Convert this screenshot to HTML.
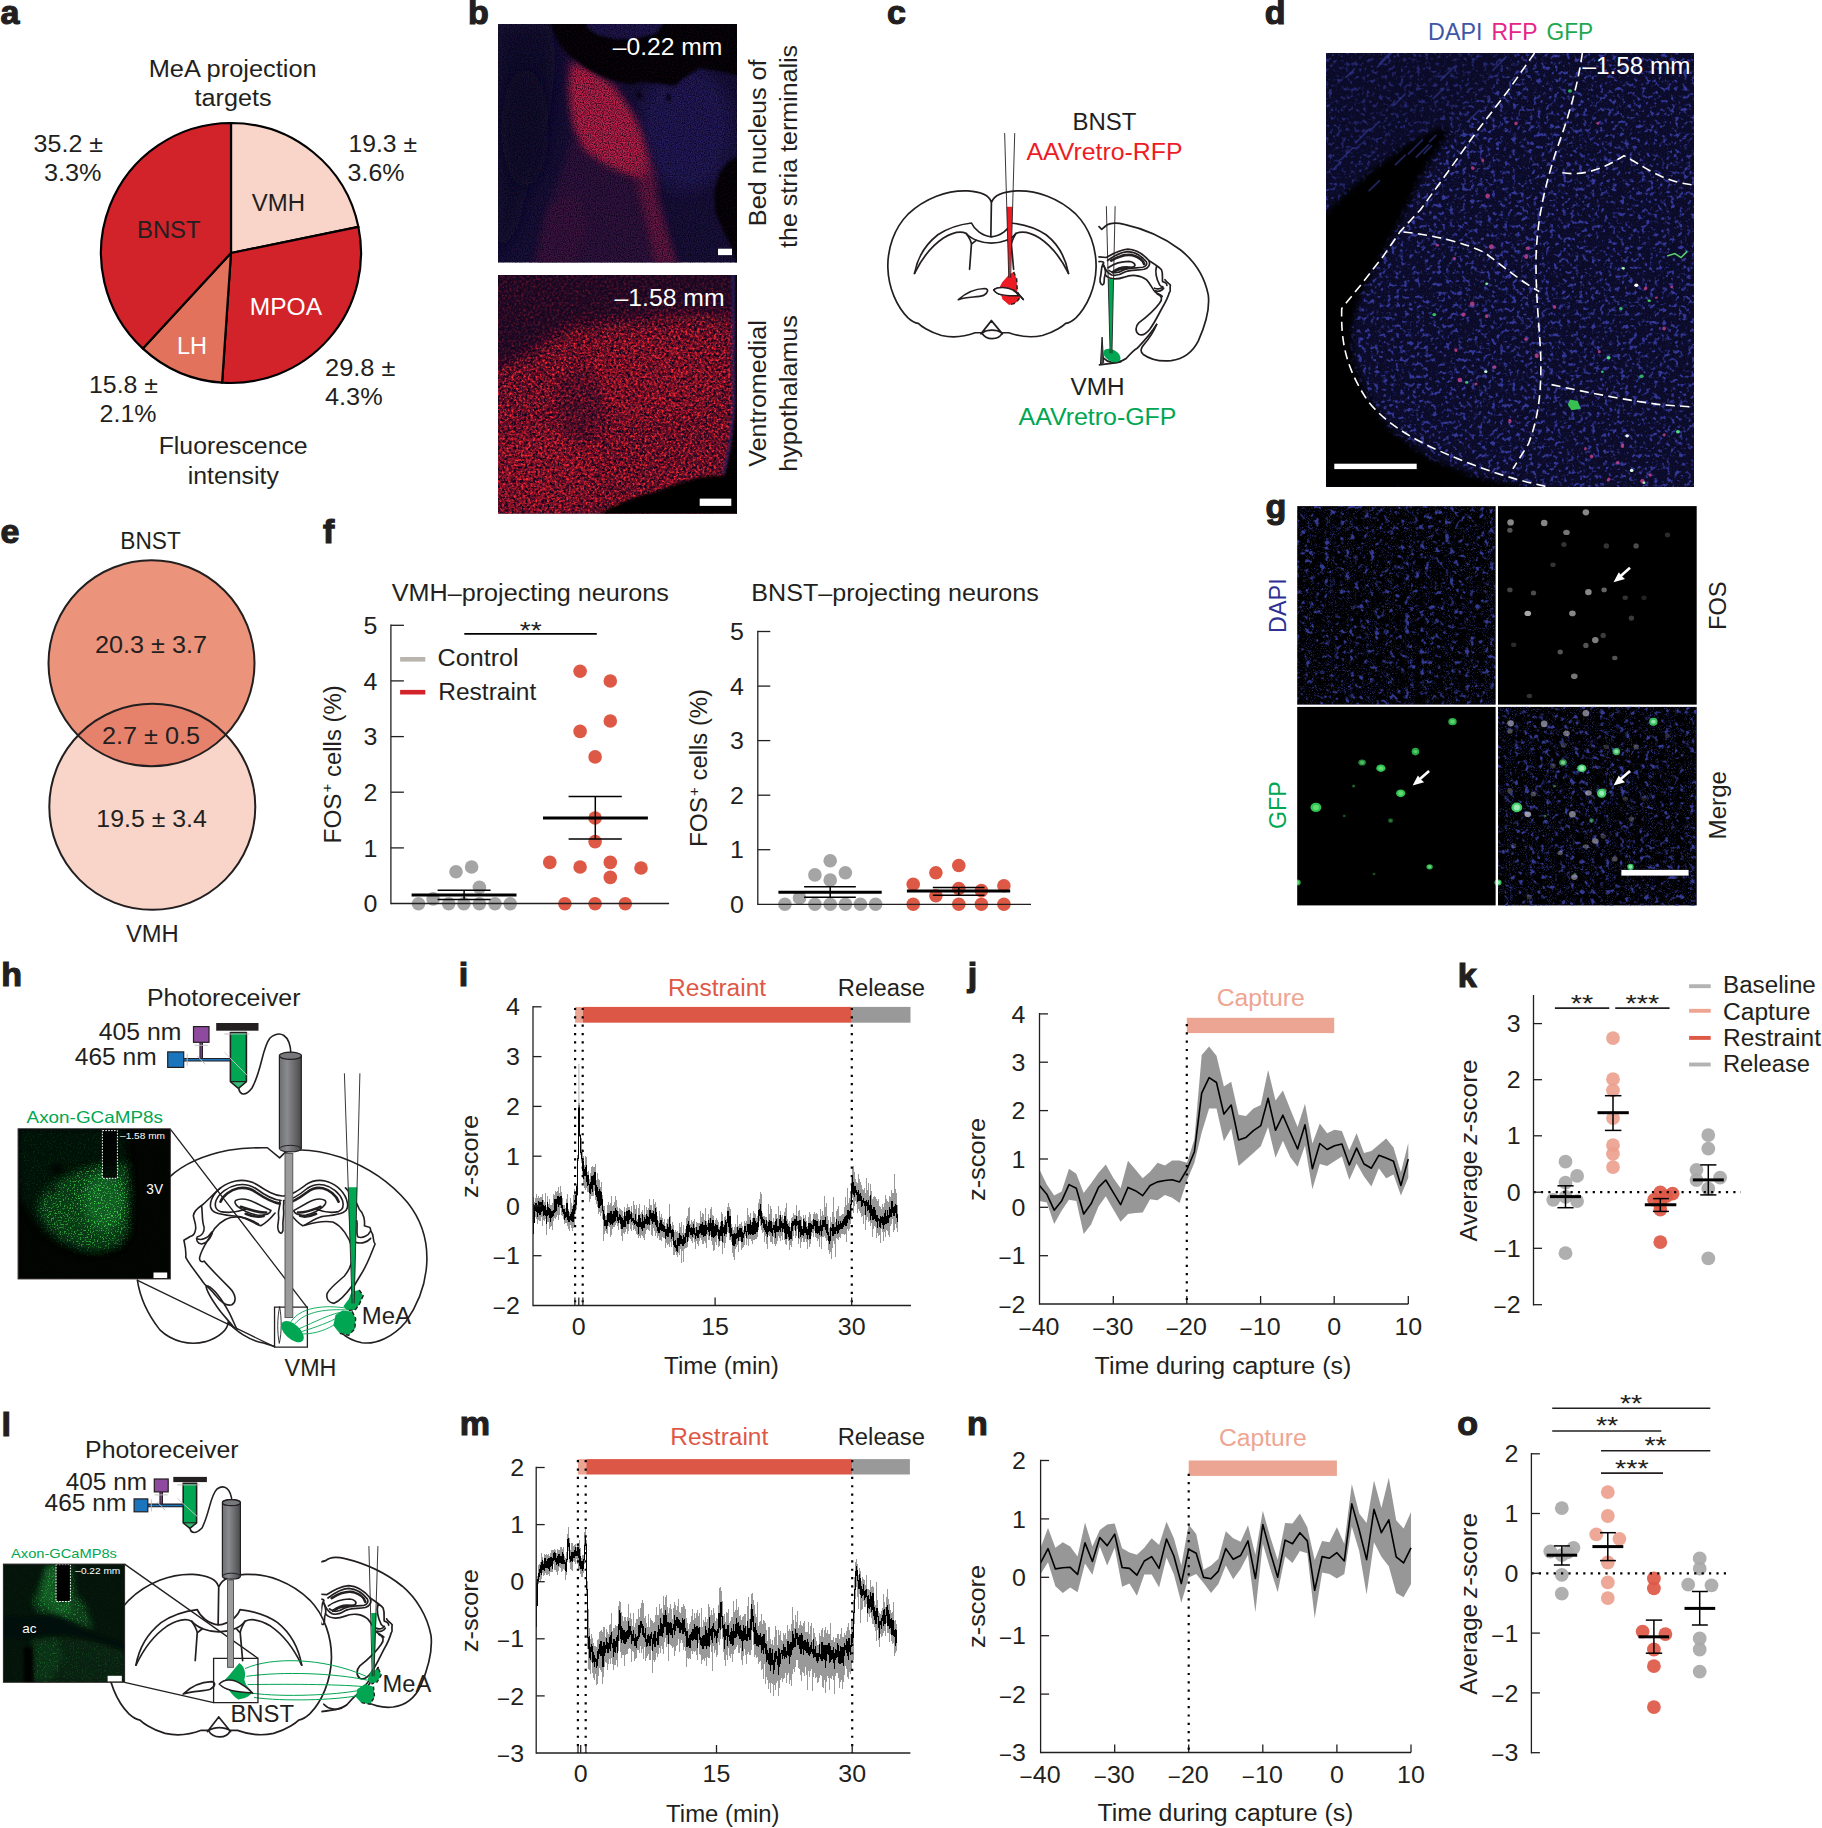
<!DOCTYPE html>
<html lang="en"><head><meta charset="utf-8"><title>Figure</title>
<style>
html,body{margin:0;padding:0;background:#fff;}
svg{display:block;font-family:"Liberation Sans",sans-serif;}

</style></head><body>
<svg width="1822" height="1828" viewBox="0 0 1822 1828">
<defs>
<filter id="bl4" x="-20%" y="-20%" width="140%" height="140%"><feGaussianBlur stdDeviation="28"/></filter>
<filter id="bl8" x="-30%" y="-30%" width="160%" height="160%"><feGaussianBlur stdDeviation="55"/></filter>
<filter id="bl2" x="-20%" y="-20%" width="140%" height="140%"><feGaussianBlur stdDeviation="12"/></filter>
<filter id="bl12" x="-40%" y="-40%" width="180%" height="180%"><feGaussianBlur stdDeviation="90"/></filter>
<filter id="grainD" x="0" y="0" width="100%" height="100%" color-interpolation-filters="sRGB">
<feTurbulence type="fractalNoise" baseFrequency="0.85" numOctaves="1" seed="4"/>
<feColorMatrix type="matrix" values="0 0 0 0 0  0 0 0 0 0  0 0 0 0 0.06  2.2 0 0 0 -0.85"/></filter>
<filter id="grainL" x="0" y="0" width="100%" height="100%" color-interpolation-filters="sRGB">
<feTurbulence type="fractalNoise" baseFrequency="0.8" numOctaves="1" seed="9"/>
<feColorMatrix type="matrix" values="0 0 0 0 0.9  0 0 0 0 0.25  0 0 0 0 0.5  0 1.6 0 0 -0.7"/></filter>
<filter id="spR" x="0" y="0" width="100%" height="100%" color-interpolation-filters="sRGB">
<feTurbulence type="fractalNoise" baseFrequency="0.42" numOctaves="2" seed="7"/>
<feColorMatrix type="matrix" values="0 0 0 0 1  0 0 0 0 0.16  0 0 0 0 0.2  3.2 0 0 0 -1.5"/></filter>
<filter id="spK" x="0" y="0" width="100%" height="100%" color-interpolation-filters="sRGB">
<feTurbulence type="fractalNoise" baseFrequency="0.36" numOctaves="2" seed="21"/>
<feColorMatrix type="matrix" values="0 0 0 0 0.08  0 0 0 0 0.02  0 0 0 0 0.12  0 3.6 0 0 -1.4"/></filter>
<clipPath id="cb1"><rect x="498" y="24" width="239" height="238.6"/></clipPath>
<clipPath id="cb2"><rect x="498" y="275" width="239" height="238.6"/></clipPath>
<mask id="mb2" maskUnits="userSpaceOnUse" x="498" y="275" width="239" height="239">
<g transform="translate(490 267) scale(0.13996)">
<rect x="0" y="0" width="1822" height="1822" fill="#4a4a4a"/>
<path d="M0 760 L300 620 L500 470 L700 410 L1000 390 L1400 340 L1822 360 L1822 1822 L0 1822Z" fill="#fff" filter="url(#bl8)"/>
<ellipse cx="650" cy="990" rx="170" ry="270" fill="#000" opacity="0.35" filter="url(#bl4)"/>
</g></mask>
<filter id="dBlue" x="0" y="0" width="100%" height="100%" color-interpolation-filters="sRGB">
<feTurbulence type="fractalNoise" baseFrequency="0.24" numOctaves="2" seed="5"/>
<feColorMatrix type="matrix" values="0 0 0 0 0.2  0 0 0 0 0.22  0 0 0 0 0.6  5.5 0 0 0 -3.0"/><feGaussianBlur stdDeviation="0.45"/></filter>
<filter id="dFine" x="0" y="0" width="100%" height="100%" color-interpolation-filters="sRGB">
<feTurbulence type="fractalNoise" baseFrequency="0.9" numOctaves="1" seed="15"/>
<feColorMatrix type="matrix" values="0 0 0 0 0.22  0 0 0 0 0.22  0 0 0 0 0.6  0 3.0 0 0 -1.35"/></filter>
<filter id="dbl" x="-20%" y="-20%" width="140%" height="140%"><feGaussianBlur stdDeviation="10"/></filter>
<filter id="dbl3" x="-20%" y="-20%" width="140%" height="140%"><feGaussianBlur stdDeviation="30"/></filter>
<filter id="cellb" x="-30%" y="-30%" width="160%" height="160%"><feGaussianBlur stdDeviation="1.6"/></filter>
<clipPath id="cd"><rect x="1326" y="53" width="368" height="434"/></clipPath>
<mask id="md" maskUnits="userSpaceOnUse" x="1326" y="53" width="368" height="434">
<g transform="translate(1260 0) scale(0.30845)">
<rect x="0" y="0" width="1822" height="1700" fill="#fff"/>
<path d="M214 150 L900 150 L700 330 L560 450 L420 520 L300 600 L214 680Z" fill="#9a9a9a" filter="url(#dbl3)"/>
<path d="M200 700 L260 640 L350 560 L470 470 L590 410 L612 430 L525 570 L455 720 L385 850 L325 960 L298 1060 L303 1160 L343 1270 L423 1390 L543 1480 L703 1545 L920 1590 L200 1590Z" fill="#000" filter="url(#dbl)"/>
</g></mask>
<clipPath id="eclip"><circle cx="151.5" cy="663.3" r="103"/></clipPath>
<filter id="gBlue" x="0" y="0" width="100%" height="100%" color-interpolation-filters="sRGB">
<feTurbulence type="fractalNoise" baseFrequency="0.2" numOctaves="2" seed="31"/>
<feColorMatrix type="matrix" values="0 0 0 0 0.24  0 0 0 0 0.27  0 0 0 0 0.68  5.5 0 0 0 -3.15"/><feGaussianBlur stdDeviation="0.4"/></filter>
<filter id="gFine" x="0" y="0" width="100%" height="100%" color-interpolation-filters="sRGB">
<feTurbulence type="fractalNoise" baseFrequency="0.95" numOctaves="1" seed="8"/>
<feColorMatrix type="matrix" values="0 0 0 0 0.25  0 0 0 0 0.28  0 0 0 0 0.7  0 4.0 0 0 -2.2"/></filter>
<filter id="gcb" x="-40%" y="-40%" width="180%" height="180%"><feGaussianBlur stdDeviation="0.7"/></filter>
<marker id="arw" viewBox="0 0 10 10" refX="5" refY="5" markerWidth="10" markerHeight="10" orient="auto-start-reverse"><path d="M0 0L10 5L0 10L3 5Z" fill="#fff"/></marker>
<linearGradient id="cylg" x1="0" x2="1" y1="0" y2="0"><stop offset="0" stop-color="#6d6e71"/><stop offset="0.35" stop-color="#8a8b8e"/><stop offset="1" stop-color="#4a4a4c"/></linearGradient>
<filter id="hG" x="0" y="0" width="100%" height="100%" color-interpolation-filters="sRGB">
<feTurbulence type="fractalNoise" baseFrequency="0.7" numOctaves="2" seed="12"/>
<feColorMatrix type="matrix" values="0 0 0 0 0.25  0 0 0 0 0.85  0 0 0 0 0.3  6 0 0 0 -3.3"/></filter>
<filter id="hbl" x="-30%" y="-30%" width="160%" height="160%"><feGaussianBlur stdDeviation="9"/></filter>
<filter id="hbl2" x="-30%" y="-30%" width="160%" height="160%"><feGaussianBlur stdDeviation="4"/></filter>
<clipPath id="ch"><rect x="18.1" y="1128.8" width="152.2" height="150.1"/></clipPath>
<mask id="mh" maskUnits="userSpaceOnUse" x="18" y="1128" width="153" height="152">
<g transform="translate(10 1105) scale(0.0985)">
<rect x="60" y="220" width="1600" height="1600" fill="#060606"/>
<path d="M82 240 L1150 240 L1200 600 L1200 1300 L1100 1450 L800 1500 L550 1430 L350 1300 L200 1100 L100 900 L82 700Z" fill="#1e1e1e" filter="url(#hblz)"/>
<path d="M1190 600 L1215 900 L1195 1300 L1100 1420 L900 1480 L700 1450 L500 1350 L350 1200 L280 1050 L330 900 L480 780 L650 690 L850 630 L1000 600Z" fill="#aaa" filter="url(#hblz)"/>
<ellipse cx="930" cy="950" rx="250" ry="330" fill="#fff" opacity="0.8" filter="url(#hblz)"/>
<ellipse cx="480" cy="650" rx="70" ry="60" fill="#000" opacity="0.8" filter="url(#hblz2)"/>
<ellipse cx="440" cy="870" rx="40" ry="45" fill="#000" opacity="0.6" filter="url(#hblz2)"/>
</g>
</mask>
<filter id="hblz" x="-30%" y="-30%" width="160%" height="160%"><feGaussianBlur stdDeviation="45"/></filter>
<filter id="hblz2" x="-30%" y="-30%" width="160%" height="160%"><feGaussianBlur stdDeviation="25"/></filter>
<filter id="lG" x="0" y="0" width="100%" height="100%" color-interpolation-filters="sRGB">
<feTurbulence type="fractalNoise" baseFrequency="0.75" numOctaves="2" seed="33"/>
<feColorMatrix type="matrix" values="0 0 0 0 0.2  0 0 0 0 0.8  0 0 0 0 0.28  6 0 0 0 -3.45"/></filter>
<filter id="lbl" x="-30%" y="-30%" width="160%" height="160%"><feGaussianBlur stdDeviation="6"/></filter>
<filter id="lbl2" x="-30%" y="-30%" width="160%" height="160%"><feGaussianBlur stdDeviation="2.5"/></filter>
<clipPath id="clhb"><rect x="321.3" y="1540" width="130" height="200"/></clipPath>
<clipPath id="cl"><rect x="3.4" y="1564.1" width="121.2" height="118.2"/></clipPath>
<mask id="ml" maskUnits="userSpaceOnUse" x="3" y="1564" width="122" height="119">
<g transform="translate(0 1558) scale(0.07135)">
<rect x="0" y="0" width="1822" height="1822" fill="#0c0c0c"/>
<path d="M700 60 L1000 60 L1050 500 L1180 650 L1260 850 L1300 1000 L900 850 L700 800 L520 750 L460 600 L560 400Z" fill="#9a9a9a" filter="url(#lblz)"/>
<path d="M450 1110 L800 1080 L1300 1150 L1760 1300 L1760 1760 L450 1760Z" fill="#2e2e2e" filter="url(#lblz)"/>
<path d="M470 1150 L800 1120 L900 1400 L700 1760 L480 1760Z" fill="#484848" filter="url(#lblz)"/>
<path d="M30 800 L400 830 L700 800 L900 850 L1050 950 L1300 1050 L1760 1200 L1760 1300 L1300 1150 L1000 1090 L700 1080 L400 1120 L30 1130Z" fill="#000" filter="url(#lblz2)"/>
<path d="M330 1250 L450 1250 L470 1760 L340 1760Z" fill="#000" filter="url(#lblz2)"/>
</g>
</mask>
<filter id="lblz" x="-30%" y="-30%" width="160%" height="160%"><feGaussianBlur stdDeviation="45"/></filter>
<filter id="lblz2" x="-30%" y="-30%" width="160%" height="160%"><feGaussianBlur stdDeviation="22"/></filter>

</defs>
<rect width="1822" height="1828" fill="#fff"/>
<!-- p_a.py -->
<text x="0.6" y="24.3" font-size="34" font-weight="bold" fill="#231f20" stroke="#231f20" stroke-width="1.2">a</text>
<path d="M231 253 L231.0 123.0 A130 130 0 0 1 358.4 226.9 Z" fill="#f8d5c8" stroke="#000" stroke-width="2.2" stroke-linejoin="round"/>
<path d="M231 253 L358.4 226.9 A130 130 0 0 1 222.1 382.7 Z" fill="#d2232a" stroke="#000" stroke-width="2.2" stroke-linejoin="round"/>
<path d="M231 253 L222.1 382.7 A130 130 0 0 1 142.9 348.6 Z" fill="#e2725b" stroke="#000" stroke-width="2.2" stroke-linejoin="round"/>
<path d="M231 253 L142.9 348.6 A130 130 0 0 1 231.0 123.0 Z" fill="#d2232a" stroke="#000" stroke-width="2.2" stroke-linejoin="round"/>
<text x="232.7" y="76.8" font-size="23.5" text-anchor="middle" fill="#231f20" textLength="168.0" lengthAdjust="spacingAndGlyphs">MeA projection</text>
<text x="233.0" y="105.8" font-size="23.5" text-anchor="middle" fill="#231f20" textLength="77.0" lengthAdjust="spacingAndGlyphs">targets</text>
<text x="33.6" y="151.6" font-size="23.5" fill="#231f20" textLength="69.4" lengthAdjust="spacingAndGlyphs">35.2 ±</text>
<text x="44.0" y="181.0" font-size="23.5" fill="#231f20" textLength="57.6" lengthAdjust="spacingAndGlyphs">3.3%</text>
<text x="348.5" y="151.6" font-size="23.5" fill="#231f20" textLength="68.5" lengthAdjust="spacingAndGlyphs">19.3 ±</text>
<text x="347.6" y="181.0" font-size="23.5" fill="#231f20" textLength="57.0" lengthAdjust="spacingAndGlyphs">3.6%</text>
<text x="251.8" y="210.5" font-size="23.5" fill="#231f20" textLength="53.2" lengthAdjust="spacingAndGlyphs">VMH</text>
<text x="137.0" y="238.4" font-size="23.5" fill="#231f20" textLength="63.6" lengthAdjust="spacingAndGlyphs">BNST</text>
<text x="249.8" y="315.0" font-size="23.5" fill="#fff" textLength="72.2" lengthAdjust="spacingAndGlyphs">MPOA</text>
<text x="177.0" y="353.6" font-size="23.5" fill="#fff" textLength="30.0" lengthAdjust="spacingAndGlyphs">LH</text>
<text x="325.0" y="375.5" font-size="23.5" fill="#231f20" textLength="70.5" lengthAdjust="spacingAndGlyphs">29.8 ±</text>
<text x="325.0" y="404.5" font-size="23.5" fill="#231f20" textLength="57.7" lengthAdjust="spacingAndGlyphs">4.3%</text>
<text x="89.0" y="392.6" font-size="23.5" fill="#231f20" textLength="69.0" lengthAdjust="spacingAndGlyphs">15.8 ±</text>
<text x="99.6" y="422.0" font-size="23.5" fill="#231f20" textLength="57.0" lengthAdjust="spacingAndGlyphs">2.1%</text>
<text x="233.2" y="454.3" font-size="23.5" text-anchor="middle" fill="#231f20" textLength="149.0" lengthAdjust="spacingAndGlyphs">Fluorescence</text>
<text x="233.3" y="483.6" font-size="23.5" text-anchor="middle" fill="#231f20" textLength="91.0" lengthAdjust="spacingAndGlyphs">intensity</text>
<!-- p_b.py -->
<text x="468.0" y="24.3" font-size="34" font-weight="bold" fill="#231f20" stroke="#231f20" stroke-width="1.2">b</text>
<g clip-path="url(#cb1)">
<rect x="498.0" y="24.0" width="239.0" height="239.0" fill="#15113a" />
<g transform="translate(490 16) scale(0.13996)">
<path d="M57 57 L440 57 L470 300 L430 700 L300 1100 L200 1500 L57 1760Z" fill="#0e0c2e" filter="url(#bl8)"/>
<ellipse cx="250" cy="800" rx="170" ry="420" fill="#0c0a2c" opacity="0.8" filter="url(#bl8)"/>
<ellipse cx="1400" cy="800" rx="330" ry="450" fill="#241d62" opacity="0.8" filter="url(#bl8)"/>
<path d="M540 300 L700 350 L900 500 L1060 760 L1160 1000 L1200 1300 L1290 1600 L1360 1800 L300 1800 L380 1450 L500 1150 L590 850 L560 550Z" fill="#4a1444" opacity="0.5" filter="url(#bl4)"/>
<path d="M590 330 L720 390 L880 500 L1010 680 L1090 860 L1130 1040 L1110 1150 L980 1130 L820 1060 L680 960 L600 800 L570 620 L565 470Z" fill="#c8244a" opacity="0.92" filter="url(#bl4)"/>
<path d="M1080 950 L1180 1100 L1200 1300 L1270 1560 L1330 1780 L1180 1780 L1120 1500 L1060 1250 L1020 1050Z" fill="#a01e4a" opacity="0.5" filter="url(#bl4)"/>
<path d="M420 1350 L620 1250 L700 1500 L600 1790 L330 1790Z" fill="#6a1644" opacity="0.2" filter="url(#bl4)"/>
<path d="M430 40 L455 120 L500 210 L570 285 L700 380 L800 432 L900 468 L1000 490 L1080 472 L1200 482 L1320 500 L1390 440 L1500 372 L1650 398 L1800 430 L1800 40Z" fill="#000" filter="url(#bl2)"/>
<path d="M675 40 L700 90 L770 135 L900 165 L1050 160 L1190 125 L1245 40Z" fill="#1e1450" filter="url(#bl2)"/>
<path d="M1800 1000 L1760 1012 L1700 1042 L1640 1120 L1602 1260 L1610 1400 L1660 1520 L1720 1640 L1775 1790 L1800 1790Z" fill="#000" filter="url(#bl2)"/>
<ellipse cx="1065" cy="565" rx="18" ry="26" fill="#05030f" filter="url(#bl2)"/><ellipse cx="1275" cy="580" rx="14" ry="28" fill="#05030f" filter="url(#bl2)"/>
</g>
<rect x="498" y="24" width="239" height="239" filter="url(#grainD)"/>
<rect x="498" y="24" width="239" height="239" filter="url(#grainL)" opacity="0.18"/>
<text x="612.8" y="55.0" font-size="23.5" fill="#fff" textLength="109.6" lengthAdjust="spacingAndGlyphs">–0.22 mm</text>
<rect x="718.0" y="248.7" width="14.0" height="6.4" fill="#fff" />
</g>
<g clip-path="url(#cb2)">
<rect x="498.0" y="275.0" width="239.0" height="239.0" fill="#1e0a26" />
<g transform="translate(490 267) scale(0.13996)">
<path d="M0 760 L300 620 L500 470 L700 410 L1000 390 L1400 340 L1822 360 L1822 1822 L0 1822Z" fill="#6c1026" filter="url(#bl8)"/>
<ellipse cx="1150" cy="800" rx="520" ry="300" fill="#a0182c" opacity="0.4" filter="url(#bl8)"/>
<ellipse cx="350" cy="1450" rx="400" ry="300" fill="#a0182c" opacity="0.5" filter="url(#bl8)"/>
<ellipse cx="650" cy="990" rx="170" ry="270" fill="#3a0c2a" opacity="0.5" filter="url(#bl4)"/>
<ellipse cx="690" cy="390" rx="60" ry="22" fill="#1a0618" opacity="0.8" filter="url(#bl2)" transform="rotate(-30 690 390)"/>
</g>
<rect x="498" y="275" width="239" height="239" filter="url(#spK)"/>
<rect x="498" y="275" width="239" height="239" filter="url(#spR)" mask="url(#mb2)"/>
<g transform="translate(490 267) scale(0.13996)">
<path d="M1742 40 L1748 1000 L1722 1250 L1692 1400 L1672 1490" fill="none" stroke="#2a2470" stroke-width="22" filter="url(#bl2)"/>
<path d="M780 1800 L790 1762 L860 1720 L950 1680 L1050 1640 L1200 1600 L1350 1545 L1500 1502 L1600 1492 L1675 1492 L1697 1400 L1727 1250 L1753 1000 L1752 40 L1800 40 L1800 1800Z" fill="#000" filter="url(#bl2)"/>
</g>
<text x="614.5" y="305.8" font-size="23.5" fill="#fff" textLength="110.0" lengthAdjust="spacingAndGlyphs">–1.58 mm</text>
<rect x="699.7" y="498.6" width="31.6" height="7.3" fill="#fff" />
</g>
<text transform="translate(766.4 142.8) rotate(-90)" font-size="23.5" text-anchor="middle" fill="#231f20" textLength="166.7" lengthAdjust="spacingAndGlyphs">Bed nucleus of</text>
<text transform="translate(797.2 146.4) rotate(-90)" font-size="23.5" text-anchor="middle" fill="#231f20" textLength="203.0" lengthAdjust="spacingAndGlyphs">the stria terminalis</text>
<text transform="translate(766.4 393.5) rotate(-90)" font-size="23.5" text-anchor="middle" fill="#231f20" textLength="146.4" lengthAdjust="spacingAndGlyphs">Ventromedial</text>
<text transform="translate(797.2 393.4) rotate(-90)" font-size="23.5" text-anchor="middle" fill="#231f20" textLength="156.6" lengthAdjust="spacingAndGlyphs">hypothalamus</text>
<!-- p_c.py -->
<text x="887.1" y="23.6" font-size="34" font-weight="bold" fill="#231f20" stroke="#231f20" stroke-width="1.2">c</text>
<text x="1104.5" y="129.5" font-size="23.5" text-anchor="middle" fill="#231f20" textLength="64.0" lengthAdjust="spacingAndGlyphs">BNST</text>
<text x="1104.5" y="159.5" font-size="23.5" text-anchor="middle" fill="#ed1c24" textLength="156.0" lengthAdjust="spacingAndGlyphs">AAVretro-RFP</text>
<text x="1097.5" y="395.0" font-size="23.5" text-anchor="middle" fill="#231f20" textLength="54.0" lengthAdjust="spacingAndGlyphs">VMH</text>
<text x="1097.5" y="424.5" font-size="23.5" text-anchor="middle" fill="#00a651" textLength="158.0" lengthAdjust="spacingAndGlyphs">AAVretro-GFP</text>
<g transform="translate(880 120) scale(0.18661)">
<path d="M595 437 C 585 405, 540 385, 470 380 C 360 375, 240 420, 150 505 C 75 580, 40 690, 42 790 C 45 900, 90 1000, 150 1060 C 170 1078, 190 1088, 205 1090 C 215 1100, 260 1135, 330 1155 C 400 1170, 470 1155, 510 1140 L545 1140 C 560 1165, 585 1172, 600 1172 C 620 1172, 645 1165, 655 1140 L690 1140 C 740 1158, 800 1170, 870 1155 C 940 1135, 985 1100, 995 1090 C 1010 1088, 1030 1078, 1050 1060 C 1110 1000, 1155 900, 1158 790 C 1160 690, 1125 580, 1050 505 C 960 420, 840 375, 730 380 C 660 385, 612 405, 600 437" fill="none" stroke="#231f20" stroke-width="1.7" vector-effect="non-scaling-stroke" stroke-linejoin="round" stroke-linecap="round"/>
<path d="M597 437 L594 625" fill="none" stroke="#231f20" stroke-width="1.7" vector-effect="non-scaling-stroke" stroke-linejoin="round" stroke-linecap="round"/>
<path d="M185 822 C 200 740, 240 670, 310 615 C 370 575, 440 558, 490 552 C 505 585, 545 622, 597 626 C 650 622, 690 585, 703 552 C 760 558, 830 575, 890 615 C 960 670, 995 740, 1010 822" fill="none" stroke="#231f20" stroke-width="1.7" vector-effect="non-scaling-stroke" stroke-linejoin="round" stroke-linecap="round"/>
<path d="M185 822 C 225 740, 275 675, 340 632 C 385 605, 430 592, 462 608 C 490 640, 545 660, 597 660 C 650 660, 705 640, 728 608 C 765 592, 810 605, 855 632 C 920 675, 970 740, 1010 822" fill="none" stroke="#231f20" stroke-width="1.7" vector-effect="non-scaling-stroke" stroke-linejoin="round" stroke-linecap="round"/>
<path d="M462 608 C 478 630, 488 648, 490 665 L480 800 M515 645 L490 665" fill="none" stroke="#231f20" stroke-width="1.7" vector-effect="non-scaling-stroke" stroke-linejoin="round" stroke-linecap="round"/>
<path d="M728 608 C 715 630, 706 648, 704 665 L716 800 M685 645 L704 665" fill="none" stroke="#231f20" stroke-width="1.7" vector-effect="non-scaling-stroke" stroke-linejoin="round" stroke-linecap="round"/>
<path d="M420 963 C 450 935, 500 905, 560 903 C 585 905, 580 925, 555 940 C 520 952, 470 945, 420 963Z" fill="none" stroke="#231f20" stroke-width="1.7" vector-effect="non-scaling-stroke" stroke-linejoin="round" stroke-linecap="round"/>
<path d="M610 910 C 630 893, 680 893, 715 912 C 735 925, 750 940, 768 962 M610 910 C 620 935, 660 945, 742 942" fill="#fff" stroke="#231f20" stroke-width="1.5" vector-effect="non-scaling-stroke"/>
<path d="M610 910 C 630 893, 680 893, 715 912 C 728 920, 738 930, 742 942 C 660 945, 620 935, 610 910Z" fill="#fff" stroke="#231f20" stroke-width="1.5" vector-effect="non-scaling-stroke"/>
<path d="M597 1075 L541 1146 M597 1075 L656 1146 M548 1140 C 575 1122, 625 1122, 652 1140" fill="none" stroke="#231f20" stroke-width="1.7" vector-effect="non-scaling-stroke" stroke-linejoin="round" stroke-linecap="round"/>
<path d="M692 828 L716 814 L732 850 L736 920 L752 950 L727 981 L692 991 L656 961 L638 900 L656 868Z" fill="#ed1c24"/>
<path d="M716 814 L732 850 L736 920 L752 950 L727 981 L692 991" fill="none" stroke="#231f20" stroke-width="1.5" stroke-dasharray="4 3" vector-effect="non-scaling-stroke"/>
<path d="M610 910 C 630 893, 680 893, 715 912 C 728 920, 738 930, 742 942 C 660 945, 620 935, 610 910Z" fill="#fff" stroke="#231f20" stroke-width="1.5" vector-effect="non-scaling-stroke"/>
<path d="M715 912 C 735 925, 750 940, 768 962" fill="none" stroke="#231f20" stroke-width="1.7" vector-effect="non-scaling-stroke" stroke-linejoin="round" stroke-linecap="round"/>
<path d="M679 465 L711 465 L697 860 L690 860Z" fill="#ed1c24"/>
<path d="M668 70 L690 845 M722 70 L700 845" fill="none" stroke="#231f20" stroke-width="0.9" vector-effect="non-scaling-stroke"/>
<g transform="translate(1125.3 482.3) scale(0.48379)">
<path d="M100 185 L130 215 L170 180 C 220 138, 300 140, 380 160 C 560 200, 800 290, 1000 440 C 1150 560, 1270 740, 1310 940 C 1325 1060, 1290 1250, 1200 1450 C 1140 1570, 1040 1650, 900 1668 C 780 1680, 660 1650, 590 1600 C 555 1570, 560 1535, 590 1500 C 650 1430, 705 1350, 738 1268" fill="none" stroke="#231f20" stroke-width="1.7" vector-effect="non-scaling-stroke" stroke-linejoin="round" stroke-linecap="round"/>
<path d="M738 1268 C 690 1345, 605 1445, 522 1532 C 490 1548, 450 1590, 400 1645 C 340 1690, 250 1700, 105 1716" fill="none" stroke="#231f20" stroke-width="1.7" vector-effect="non-scaling-stroke" stroke-linejoin="round" stroke-linecap="round"/>
<path d="M745 930 C 800 950, 805 990, 770 1032 C 720 1100, 620 1190, 540 1250 C 500 1290, 500 1350, 540 1376 C 580 1396, 622 1370, 662 1320 C 722 1240, 762 1150, 802 1080 C 832 1030, 860 980, 880 912 C 900 905, 880 880, 890 832 C 870 805, 845 800, 830 772" fill="none" stroke="#231f20" stroke-width="1.7" vector-effect="non-scaling-stroke" stroke-linejoin="round" stroke-linecap="round"/>
<path d="M100 520 L180 526 C 260 480, 330 440, 420 434 C 520 440, 600 500, 652 560 C 672 600, 652 642, 600 656 C 520 672, 440 660, 380 690 C 330 720, 280 732, 240 720 C 200 700, 170 660, 150 610" fill="none" stroke="#231f20" stroke-width="1.7" vector-effect="non-scaling-stroke" stroke-linejoin="round" stroke-linecap="round"/>
<path d="M195 560 C 270 505, 340 465, 420 462 C 505 468, 580 520, 622 570 C 638 600, 622 625, 585 634 C 520 645, 440 636, 372 664 C 330 690, 290 700, 255 692" fill="none" stroke="#231f20" stroke-width="1.7" vector-effect="non-scaling-stroke" stroke-linejoin="round" stroke-linecap="round"/>
<path d="M200 640 C 260 600, 340 570, 430 570 C 482 575, 512 600, 490 626 C 440 652, 360 640, 300 670 C 270 690, 232 690, 212 670" fill="none" stroke="#231f20" stroke-width="1.7" vector-effect="non-scaling-stroke" stroke-linejoin="round" stroke-linecap="round"/>
<path d="M250 690 C 300 650, 380 628, 455 640 M235 560 C 320 510, 400 488, 470 500 C 540 520, 590 560, 600 600" fill="none" stroke="#231f20" stroke-width="2.6" vector-effect="non-scaling-stroke" stroke-linecap="round"/>
<path d="M170 722 C 220 772, 300 772, 380 744 C 460 712, 560 720, 625 772 C 680 830, 690 880, 722 906 C 740 925, 780 932, 800 957" fill="none" stroke="#231f20" stroke-width="1.7" vector-effect="non-scaling-stroke" stroke-linejoin="round" stroke-linecap="round"/>
<path d="M652 560 C 700 590, 760 625, 792 662 C 815 715, 795 770, 805 795 C 830 800, 850 812, 852 835 M737 622 C 715 700, 740 770, 772 830 C 785 845, 800 850, 805 850 M715 866 C 750 882, 790 872, 806 850 M726 896 C 760 908, 800 892, 816 866" fill="none" stroke="#231f20" stroke-width="1.7" vector-effect="non-scaling-stroke" stroke-linejoin="round" stroke-linecap="round"/>
<path d="M100 572 C 150 565, 162 585, 142 600 C 120 640, 130 700, 112 760 C 105 812, 130 842, 150 822 C 166 790, 150 760, 165 730 C 176 700, 170 650, 150 610" fill="none" stroke="#231f20" stroke-width="1.7" vector-effect="non-scaling-stroke" stroke-linejoin="round" stroke-linecap="round"/>
<path d="M134 1408 L116 1708 L152 1692Z" fill="#4d4d4f" stroke="#231f20" stroke-width="1" vector-effect="non-scaling-stroke"/>
<path d="M150 1640 C 200 1692, 280 1702, 342 1680" fill="none" stroke="#231f20" stroke-width="1.7" vector-effect="non-scaling-stroke" stroke-linejoin="round" stroke-linecap="round"/>
</g>
<ellipse cx="1243" cy="1262" rx="50" ry="31" fill="#00a651" transform="rotate(30 1243 1262)"/>
<path d="M1222 852 L1251 852 L1243 1250 L1234 1250Z" fill="#00a651"/>
<path d="M1213 462 L1233 1250 M1260 462 L1243 1250" fill="none" stroke="#231f20" stroke-width="0.9" vector-effect="non-scaling-stroke"/>
</g>
<!-- p_d.py -->
<text x="1264.7" y="24.3" font-size="34" font-weight="bold" fill="#231f20" stroke="#231f20" stroke-width="1.2">d</text>
<text x="1428.1" y="40.1" font-size="23.5" fill="#4055a5" textLength="54.3" lengthAdjust="spacingAndGlyphs">DAPI</text>
<text x="1491.5" y="40.1" font-size="23.5" fill="#e6248a" textLength="46.0" lengthAdjust="spacingAndGlyphs">RFP</text>
<text x="1546.5" y="40.1" font-size="23.5" fill="#1da850" textLength="46.7" lengthAdjust="spacingAndGlyphs">GFP</text>
<g clip-path="url(#cd)">
<rect x="1326.0" y="53.0" width="368.0" height="434.0" fill="#0a0a26" />
<g transform="translate(1260 0) scale(0.30845)">
<path d="M200 700 L260 640 L350 560 L470 470 L590 410 L612 430 L525 570 L455 720 L385 850 L325 960 L298 1060 L303 1160 L343 1270 L423 1390 L543 1480 L703 1545 L920 1590 L200 1590Z" fill="#010104" filter="url(#dbl)"/>
</g>
<rect x="1326" y="53" width="368" height="434" filter="url(#dBlue)" mask="url(#md)"/>
<rect x="1326" y="53" width="368" height="434" filter="url(#dFine)" mask="url(#md)" opacity="0.22"/>
<g transform="translate(1260 0) scale(0.30845)">
<line x1="356" y1="424" x2="385" y2="395" stroke="#333a94" stroke-width="6" opacity="0.6" stroke-linecap="round"/>
<line x1="550" y1="459" x2="570" y2="439" stroke="#333a94" stroke-width="6" opacity="0.6" stroke-linecap="round"/>
<line x1="237" y1="550" x2="263" y2="524" stroke="#333a94" stroke-width="6" opacity="0.6" stroke-linecap="round"/>
<line x1="354" y1="618" x2="387" y2="586" stroke="#333a94" stroke-width="6" opacity="0.6" stroke-linecap="round"/>
<line x1="673" y1="395" x2="711" y2="357" stroke="#333a94" stroke-width="6" opacity="0.6" stroke-linecap="round"/>
<line x1="310" y1="463" x2="355" y2="418" stroke="#333a94" stroke-width="6" opacity="0.6" stroke-linecap="round"/>
<line x1="507" y1="509" x2="546" y2="470" stroke="#333a94" stroke-width="6" opacity="0.6" stroke-linecap="round"/>
<line x1="264" y1="516" x2="300" y2="480" stroke="#333a94" stroke-width="6" opacity="0.6" stroke-linecap="round"/>
<line x1="390" y1="203" x2="434" y2="159" stroke="#333a94" stroke-width="6" opacity="0.6" stroke-linecap="round"/>
<line x1="481" y1="499" x2="526" y2="454" stroke="#333a94" stroke-width="6" opacity="0.6" stroke-linecap="round"/>
<line x1="439" y1="534" x2="471" y2="503" stroke="#333a94" stroke-width="6" opacity="0.6" stroke-linecap="round"/>
<line x1="282" y1="248" x2="306" y2="224" stroke="#333a94" stroke-width="6" opacity="0.6" stroke-linecap="round"/>
<line x1="562" y1="319" x2="596" y2="286" stroke="#333a94" stroke-width="6" opacity="0.6" stroke-linecap="round"/>
<line x1="435" y1="341" x2="470" y2="305" stroke="#333a94" stroke-width="6" opacity="0.6" stroke-linecap="round"/>
<line x1="586" y1="260" x2="630" y2="216" stroke="#333a94" stroke-width="6" opacity="0.6" stroke-linecap="round"/>
<line x1="532" y1="497" x2="556" y2="473" stroke="#333a94" stroke-width="6" opacity="0.6" stroke-linecap="round"/>
<line x1="381" y1="217" x2="425" y2="173" stroke="#333a94" stroke-width="6" opacity="0.6" stroke-linecap="round"/>
<line x1="755" y1="228" x2="797" y2="185" stroke="#333a94" stroke-width="6" opacity="0.6" stroke-linecap="round"/>
<ellipse cx="722" cy="520" rx="6.2" ry="4.6" fill="#c0408c" opacity="0.85" transform="rotate(75 722 520)"/>
<ellipse cx="690" cy="545" rx="6.3" ry="5.2" fill="#c0408c" opacity="0.85" transform="rotate(30 690 545)"/>
<ellipse cx="1095" cy="400" rx="5.1" ry="4.5" fill="#c0408c" opacity="0.85" transform="rotate(11 1095 400)"/>
<ellipse cx="830" cy="400" rx="6.1" ry="5.4" fill="#c0408c" opacity="0.85" transform="rotate(141 830 400)"/>
<ellipse cx="738" cy="635" rx="7.6" ry="7.6" fill="#c0408c" opacity="0.85" transform="rotate(129 738 635)"/>
<ellipse cx="575" cy="795" rx="5.7" ry="4.1" fill="#c0408c" opacity="0.85" transform="rotate(1 575 795)"/>
<ellipse cx="630" cy="838" rx="5.2" ry="4.6" fill="#c0408c" opacity="0.85" transform="rotate(8 630 838)"/>
<ellipse cx="750" cy="800" rx="7.8" ry="7.8" fill="#c0408c" opacity="0.85" transform="rotate(74 750 800)"/>
<ellipse cx="868" cy="805" rx="6.8" ry="5.1" fill="#c0408c" opacity="0.85" transform="rotate(10 868 805)"/>
<ellipse cx="863" cy="832" rx="7.9" ry="6.4" fill="#c0408c" opacity="0.85" transform="rotate(92 863 832)"/>
<ellipse cx="688" cy="985" rx="7.9" ry="7.6" fill="#c0408c" opacity="0.85" transform="rotate(96 688 985)"/>
<ellipse cx="735" cy="1025" rx="6.1" ry="5.9" fill="#c0408c" opacity="0.85" transform="rotate(98 735 1025)"/>
<ellipse cx="660" cy="1020" rx="6.9" ry="6.1" fill="#c0408c" opacity="0.85" transform="rotate(143 660 1020)"/>
<ellipse cx="862" cy="1100" rx="5.3" ry="5.3" fill="#c0408c" opacity="0.85" transform="rotate(129 862 1100)"/>
<ellipse cx="635" cy="1135" rx="5.8" ry="5.2" fill="#c0408c" opacity="0.85" transform="rotate(60 635 1135)"/>
<ellipse cx="897" cy="1153" rx="7.8" ry="6.5" fill="#c0408c" opacity="0.85" transform="rotate(66 897 1153)"/>
<ellipse cx="760" cy="1190" rx="6.6" ry="5.7" fill="#c0408c" opacity="0.85" transform="rotate(2 760 1190)"/>
<ellipse cx="648" cy="1232" rx="7.4" ry="7.3" fill="#c0408c" opacity="0.85" transform="rotate(80 648 1232)"/>
<ellipse cx="700" cy="1245" rx="5.1" ry="4.5" fill="#c0408c" opacity="0.85" transform="rotate(161 700 1245)"/>
<ellipse cx="1100" cy="1140" rx="5.4" ry="4.8" fill="#c0408c" opacity="0.85" transform="rotate(85 1100 1140)"/>
<ellipse cx="1310" cy="1065" rx="6.4" ry="5.8" fill="#c0408c" opacity="0.85" transform="rotate(90 1310 1065)"/>
<ellipse cx="1250" cy="935" rx="6.8" ry="5.3" fill="#c0408c" opacity="0.85" transform="rotate(125 1250 935)"/>
<ellipse cx="1285" cy="965" rx="5.1" ry="3.6" fill="#c0408c" opacity="0.85" transform="rotate(173 1285 965)"/>
<ellipse cx="1335" cy="930" rx="5.1" ry="4.1" fill="#c0408c" opacity="0.85" transform="rotate(160 1335 930)"/>
<ellipse cx="955" cy="995" rx="6.4" ry="5.6" fill="#c0408c" opacity="0.85" transform="rotate(81 955 995)"/>
<ellipse cx="1055" cy="1455" rx="5.5" ry="4.2" fill="#c0408c" opacity="0.85" transform="rotate(94 1055 1455)"/>
<ellipse cx="1175" cy="1445" rx="7.5" ry="5.9" fill="#c0408c" opacity="0.85" transform="rotate(96 1175 1445)"/>
<ellipse cx="1310" cy="1410" rx="5.3" ry="5.0" fill="#c0408c" opacity="0.85" transform="rotate(145 1310 1410)"/>
<ellipse cx="1130" cy="1555" rx="7.1" ry="5.2" fill="#c0408c" opacity="0.85" transform="rotate(128 1130 1555)"/>
<ellipse cx="1265" cy="1540" rx="5.7" ry="5.3" fill="#c0408c" opacity="0.85" transform="rotate(61 1265 1540)"/>
<ellipse cx="1160" cy="1500" rx="6.0" ry="5.4" fill="#c0408c" opacity="0.85" transform="rotate(166 1160 1500)"/>
<ellipse cx="810" cy="1365" rx="7.1" ry="5.2" fill="#c0408c" opacity="0.85" transform="rotate(82 810 1365)"/>
<ellipse cx="1240" cy="1560" rx="7.8" ry="7.1" fill="#c0408c" opacity="0.85" transform="rotate(57 1240 1560)"/>
<ellipse cx="1075" cy="1480" rx="6.3" ry="6.0" fill="#c0408c" opacity="0.85" transform="rotate(43 1075 1480)"/>
<ellipse cx="735" cy="920" rx="4.7" ry="4.0" fill="#7df0a0"/>
<ellipse cx="565" cy="1020" rx="6.4" ry="5.4" fill="#30c060"/>
<ellipse cx="1178" cy="870" rx="5.0" ry="4.3" fill="#a0f0c0"/>
<ellipse cx="1170" cy="1000" rx="5.9" ry="5.0" fill="#30c070"/>
<ellipse cx="1262" cy="975" rx="5.2" ry="4.4" fill="#40d070"/>
<ellipse cx="1130" cy="1160" rx="6.5" ry="5.5" fill="#50e090"/>
<ellipse cx="1110" cy="1205" rx="4.6" ry="3.9" fill="#30c080"/>
<ellipse cx="1237" cy="1220" rx="6.9" ry="5.9" fill="#30b060"/>
<ellipse cx="732" cy="1205" rx="5.3" ry="4.5" fill="#d0ffe0"/>
<ellipse cx="1355" cy="1400" rx="6.6" ry="5.6" fill="#50e080"/>
<ellipse cx="1190" cy="1413" rx="5.9" ry="5.0" fill="#f0fff0"/>
<ellipse cx="1220" cy="925" rx="6.7" ry="5.7" fill="#ffffff"/>
<ellipse cx="670" cy="1240" rx="5.4" ry="4.5" fill="#40c070"/>
<ellipse cx="1005" cy="295" rx="6.6" ry="5.6" fill="#30b060"/>
<ellipse cx="1245" cy="1565" rx="4.7" ry="4.0" fill="#90f0b0"/>
<ellipse cx="1205" cy="1525" rx="6.0" ry="5.1" fill="#e0ffe8"/>
<path d="M1005 1295 L1030 1300 L1040 1325 L1010 1330 L998 1312Z" fill="#38c050"/>
<path d="M1320 830 L1345 822 L1365 835 L1385 815" fill="none" stroke="#58d070" stroke-width="5"/>
<path d="M890 172 L800 300 L700 430 L600 570 L520 680 L455 750 L400 830 L330 920 L265 1000 C 262 1100, 275 1190, 350 1300 C 420 1390, 540 1450, 700 1510 C 790 1545, 870 1565, 940 1580" fill="none" stroke="#fff" stroke-width="5.2" stroke-dasharray="30 17"/>
<path d="M1045 172 C 1030 280, 1000 380, 960 490 C 925 600, 900 700, 895 830 C 893 950, 905 1050, 910 1150 C 913 1260, 905 1350, 870 1440 L820 1520" fill="none" stroke="#fff" stroke-width="5.2" stroke-dasharray="30 17"/>
<path d="M980 560 C 1040 570, 1100 555, 1180 505 C 1240 535, 1300 590, 1410 600" fill="none" stroke="#fff" stroke-width="5.2" stroke-dasharray="30 17"/>
<path d="M465 752 C 560 762, 660 785, 730 820 C 790 865, 850 915, 905 945" fill="none" stroke="#fff" stroke-width="5.2" stroke-dasharray="30 17"/>
<path d="M945 1247 C 1050 1270, 1200 1300, 1300 1312 L1410 1320" fill="none" stroke="#fff" stroke-width="5.2" stroke-dasharray="30 17"/>
</g>
<text x="1582.4" y="74.0" font-size="23.5" fill="#fff" textLength="108.0" lengthAdjust="spacingAndGlyphs">–1.58 mm</text>
<rect x="1334.3" y="463.7" width="82.4" height="5.4" fill="#fff" />
</g>
<!-- p_e.py -->
<text x="0.6" y="543.4" font-size="34" font-weight="bold" fill="#231f20" stroke="#231f20" stroke-width="1.2">e</text>
<text x="150.5" y="548.6" font-size="23.5" text-anchor="middle" fill="#231f20" textLength="60.5" lengthAdjust="spacingAndGlyphs">BNST</text>
<circle cx="151.5" cy="663.3" r="103" fill="#ec937c" />
<circle cx="152.3" cy="806.8" r="103" fill="#f8d5c8" />
<circle cx="152.3" cy="806.8" r="103" fill="#e6826c" clip-path="url(#eclip)"/>
<circle cx="151.5" cy="663.3" r="103" fill="none" stroke="#231f20" stroke-width="2"/>
<circle cx="152.3" cy="806.8" r="103" fill="none" stroke="#231f20" stroke-width="2"/>
<text x="151.0" y="653.0" font-size="23.5" text-anchor="middle" fill="#231f20" textLength="111.8" lengthAdjust="spacingAndGlyphs">20.3 ± 3.7</text>
<text x="151.0" y="743.6" font-size="23.5" text-anchor="middle" fill="#231f20" textLength="98.2" lengthAdjust="spacingAndGlyphs">2.7 ± 0.5</text>
<text x="151.6" y="827.2" font-size="23.5" text-anchor="middle" fill="#231f20" textLength="110.5" lengthAdjust="spacingAndGlyphs">19.5 ± 3.4</text>
<text x="152.3" y="941.5" font-size="23.5" text-anchor="middle" fill="#231f20" textLength="52.8" lengthAdjust="spacingAndGlyphs">VMH</text>
<!-- p_f.py -->
<text x="323.0" y="543.4" font-size="34" font-weight="bold" fill="#231f20" stroke="#231f20" stroke-width="1.2">f</text>
<text x="391.8" y="601.1" font-size="23.5" fill="#231f20" textLength="277.0" lengthAdjust="spacingAndGlyphs">VMH–projecting neurons</text>
<circle cx="418.5" cy="903.7" r="6.8" fill="#a5a5a5" />
<circle cx="433.1" cy="898.9" r="6.8" fill="#a5a5a5" />
<circle cx="448.7" cy="903.7" r="6.8" fill="#a5a5a5" />
<circle cx="463.9" cy="903.7" r="6.8" fill="#a5a5a5" />
<circle cx="479.4" cy="903.7" r="6.8" fill="#a5a5a5" />
<circle cx="495.0" cy="903.7" r="6.8" fill="#a5a5a5" />
<circle cx="510.2" cy="903.7" r="6.8" fill="#a5a5a5" />
<circle cx="456.0" cy="871.8" r="6.8" fill="#a5a5a5" />
<circle cx="471.6" cy="867.0" r="6.8" fill="#a5a5a5" />
<circle cx="479.4" cy="887.4" r="6.8" fill="#a5a5a5" />
<circle cx="580.1" cy="671.2" r="6.8" fill="#de5846" />
<circle cx="610.3" cy="681.0" r="6.8" fill="#de5846" />
<circle cx="610.3" cy="721.0" r="6.8" fill="#de5846" />
<circle cx="580.1" cy="731.4" r="6.8" fill="#de5846" />
<circle cx="595.1" cy="756.9" r="6.8" fill="#de5846" />
<circle cx="595.1" cy="818.0" r="6.8" fill="#de5846" />
<circle cx="595.1" cy="841.6" r="6.8" fill="#de5846" />
<circle cx="549.8" cy="862.4" r="6.8" fill="#de5846" />
<circle cx="580.1" cy="867.0" r="6.8" fill="#de5846" />
<circle cx="610.3" cy="862.4" r="6.8" fill="#de5846" />
<circle cx="641.0" cy="868.0" r="6.8" fill="#de5846" />
<circle cx="610.3" cy="877.4" r="6.8" fill="#de5846" />
<circle cx="564.9" cy="903.7" r="6.8" fill="#de5846" />
<circle cx="595.1" cy="903.7" r="6.8" fill="#de5846" />
<circle cx="625.3" cy="903.7" r="6.8" fill="#de5846" />
<line x1="390.9" y1="624.5" x2="390.9" y2="904.2" stroke="#231f20" stroke-width="1.3" />
<line x1="390.9" y1="903.5" x2="669.1" y2="903.5" stroke="#231f20" stroke-width="1.3" />
<text x="377.5" y="912.1" font-size="23.5" text-anchor="end" fill="#231f20" textLength="13.9" lengthAdjust="spacingAndGlyphs">0</text>
<line x1="390.9" y1="847.9" x2="403.9" y2="847.9" stroke="#231f20" stroke-width="1.3" />
<text x="377.5" y="856.5" font-size="23.5" text-anchor="end" fill="#231f20" textLength="13.9" lengthAdjust="spacingAndGlyphs">1</text>
<line x1="390.9" y1="792.2" x2="403.9" y2="792.2" stroke="#231f20" stroke-width="1.3" />
<text x="377.5" y="800.8" font-size="23.5" text-anchor="end" fill="#231f20" textLength="13.9" lengthAdjust="spacingAndGlyphs">2</text>
<line x1="390.9" y1="736.6" x2="403.9" y2="736.6" stroke="#231f20" stroke-width="1.3" />
<text x="377.5" y="745.2" font-size="23.5" text-anchor="end" fill="#231f20" textLength="13.9" lengthAdjust="spacingAndGlyphs">3</text>
<line x1="390.9" y1="680.9" x2="403.9" y2="680.9" stroke="#231f20" stroke-width="1.3" />
<text x="377.5" y="689.5" font-size="23.5" text-anchor="end" fill="#231f20" textLength="13.9" lengthAdjust="spacingAndGlyphs">4</text>
<line x1="390.9" y1="625.3" x2="403.9" y2="625.3" stroke="#231f20" stroke-width="1.3" />
<text x="377.5" y="633.9" font-size="23.5" text-anchor="end" fill="#231f20" textLength="13.9" lengthAdjust="spacingAndGlyphs">5</text>
<g transform="translate(340.9 764.4) rotate(-90)"><text x="-79.0" y="0.0" font-size="23.5" fill="#231f20" textLength="50.0" lengthAdjust="spacingAndGlyphs">FOS</text>
<text x="-28.0" y="-8.5" font-size="14.1" fill="#231f20" textLength="8.8" lengthAdjust="spacingAndGlyphs">+</text>
<text x="-12.5" y="0.0" font-size="23.5" fill="#231f20" textLength="91.5" lengthAdjust="spacingAndGlyphs">cells (%)</text>
</g>
<line x1="411.6" y1="894.9" x2="516.5" y2="894.9" stroke="#000" stroke-width="3" />
<line x1="437.6" y1="890.2" x2="490.6" y2="890.2" stroke="#000" stroke-width="1.5" />
<line x1="437.6" y1="899.5" x2="490.6" y2="899.5" stroke="#000" stroke-width="1.5" />
<line x1="464.1" y1="890.2" x2="464.1" y2="899.5" stroke="#000" stroke-width="1.5" />
<line x1="543.0" y1="818.0" x2="647.9" y2="818.0" stroke="#000" stroke-width="3" />
<line x1="568.6" y1="796.5" x2="621.8" y2="796.5" stroke="#000" stroke-width="1.5" />
<line x1="568.6" y1="839.1" x2="621.8" y2="839.1" stroke="#000" stroke-width="1.5" />
<line x1="595.3" y1="796.5" x2="595.3" y2="839.1" stroke="#000" stroke-width="1.5" />
<text x="751.3" y="601.1" font-size="23.5" fill="#231f20" textLength="287.4" lengthAdjust="spacingAndGlyphs">BNST–projecting neurons</text>
<circle cx="784.9" cy="904.3" r="6.8" fill="#a5a5a5" />
<circle cx="799.5" cy="897.9" r="6.8" fill="#a5a5a5" />
<circle cx="814.9" cy="904.3" r="6.8" fill="#a5a5a5" />
<circle cx="830.2" cy="904.3" r="6.8" fill="#a5a5a5" />
<circle cx="845.4" cy="904.3" r="6.8" fill="#a5a5a5" />
<circle cx="860.4" cy="904.3" r="6.8" fill="#a5a5a5" />
<circle cx="875.6" cy="904.3" r="6.8" fill="#a5a5a5" />
<circle cx="814.9" cy="874.9" r="6.8" fill="#a5a5a5" />
<circle cx="830.2" cy="860.7" r="6.8" fill="#a5a5a5" />
<circle cx="845.4" cy="872.8" r="6.8" fill="#a5a5a5" />
<circle cx="830.2" cy="880.1" r="6.8" fill="#a5a5a5" />
<circle cx="913.2" cy="904.3" r="6.8" fill="#de5846" />
<circle cx="913.2" cy="884.3" r="6.8" fill="#de5846" />
<circle cx="935.9" cy="872.8" r="6.8" fill="#de5846" />
<circle cx="935.9" cy="895.8" r="6.8" fill="#de5846" />
<circle cx="958.8" cy="865.5" r="6.8" fill="#de5846" />
<circle cx="958.8" cy="888.5" r="6.8" fill="#de5846" />
<circle cx="958.8" cy="904.3" r="6.8" fill="#de5846" />
<circle cx="981.4" cy="890.6" r="6.8" fill="#de5846" />
<circle cx="981.4" cy="904.3" r="6.8" fill="#de5846" />
<circle cx="1003.9" cy="885.8" r="6.8" fill="#de5846" />
<circle cx="1003.9" cy="904.3" r="6.8" fill="#de5846" />
<line x1="757.8" y1="630.8" x2="757.8" y2="905.0" stroke="#231f20" stroke-width="1.3" />
<line x1="757.8" y1="904.3" x2="1031.0" y2="904.3" stroke="#231f20" stroke-width="1.3" />
<text x="744.0" y="912.9" font-size="23.5" text-anchor="end" fill="#231f20" textLength="13.9" lengthAdjust="spacingAndGlyphs">0</text>
<line x1="757.8" y1="849.7" x2="770.3" y2="849.7" stroke="#231f20" stroke-width="1.3" />
<text x="744.0" y="858.3" font-size="23.5" text-anchor="end" fill="#231f20" textLength="13.9" lengthAdjust="spacingAndGlyphs">1</text>
<line x1="757.8" y1="795.2" x2="770.3" y2="795.2" stroke="#231f20" stroke-width="1.3" />
<text x="744.0" y="803.8" font-size="23.5" text-anchor="end" fill="#231f20" textLength="13.9" lengthAdjust="spacingAndGlyphs">2</text>
<line x1="757.8" y1="740.6" x2="770.3" y2="740.6" stroke="#231f20" stroke-width="1.3" />
<text x="744.0" y="749.2" font-size="23.5" text-anchor="end" fill="#231f20" textLength="13.9" lengthAdjust="spacingAndGlyphs">3</text>
<line x1="757.8" y1="686.1" x2="770.3" y2="686.1" stroke="#231f20" stroke-width="1.3" />
<text x="744.0" y="694.7" font-size="23.5" text-anchor="end" fill="#231f20" textLength="13.9" lengthAdjust="spacingAndGlyphs">4</text>
<line x1="757.8" y1="631.5" x2="770.3" y2="631.5" stroke="#231f20" stroke-width="1.3" />
<text x="744.0" y="640.1" font-size="23.5" text-anchor="end" fill="#231f20" textLength="13.9" lengthAdjust="spacingAndGlyphs">5</text>
<g transform="translate(707.1 768.0) rotate(-90)"><text x="-79.0" y="0.0" font-size="23.5" fill="#231f20" textLength="50.0" lengthAdjust="spacingAndGlyphs">FOS</text>
<text x="-28.0" y="-8.5" font-size="14.1" fill="#231f20" textLength="8.8" lengthAdjust="spacingAndGlyphs">+</text>
<text x="-12.5" y="0.0" font-size="23.5" fill="#231f20" textLength="91.5" lengthAdjust="spacingAndGlyphs">cells (%)</text>
</g>
<line x1="778.4" y1="892.2" x2="881.7" y2="892.2" stroke="#000" stroke-width="3" />
<line x1="804.1" y1="886.8" x2="855.8" y2="886.8" stroke="#000" stroke-width="1.5" />
<line x1="804.1" y1="897.2" x2="855.8" y2="897.2" stroke="#000" stroke-width="1.5" />
<line x1="830.2" y1="886.8" x2="830.2" y2="897.2" stroke="#000" stroke-width="1.5" />
<line x1="906.9" y1="891.0" x2="1010.2" y2="891.0" stroke="#000" stroke-width="3" />
<line x1="932.8" y1="887.4" x2="984.5" y2="887.4" stroke="#000" stroke-width="1.5" />
<line x1="932.8" y1="895.2" x2="984.5" y2="895.2" stroke="#000" stroke-width="1.5" />
<line x1="958.8" y1="887.4" x2="958.8" y2="895.2" stroke="#000" stroke-width="1.5" />
<line x1="464.3" y1="633.8" x2="596.8" y2="633.8" stroke="#000" stroke-width="1.8" />
<text x="530.7" y="638.5" font-size="23.5" text-anchor="middle" fill="#231f20" textLength="22.0" lengthAdjust="spacingAndGlyphs">**</text>
<line x1="400.1" y1="659.3" x2="425.3" y2="659.3" stroke="#b9b5ae" stroke-width="4.6" />
<text x="437.6" y="666.4" font-size="23.5" fill="#231f20" textLength="81.0" lengthAdjust="spacingAndGlyphs">Control</text>
<line x1="400.1" y1="692.2" x2="425.3" y2="692.2" stroke="#d2232a" stroke-width="4.6" />
<text x="438.3" y="699.7" font-size="23.5" fill="#231f20" textLength="98.0" lengthAdjust="spacingAndGlyphs">Restraint</text>
<!-- p_g.py -->
<text x="1265.4" y="518.0" font-size="34" font-weight="bold" fill="#231f20" stroke="#231f20" stroke-width="1.2">g</text>
<rect x="1297.1" y="506.1" width="198.7" height="198.7" fill="#000" />
<rect x="1498.0" y="506.1" width="198.7" height="198.7" fill="#000" />
<rect x="1297.1" y="706.7" width="198.7" height="198.7" fill="#000" />
<rect x="1498.0" y="706.7" width="198.7" height="198.7" fill="#000" />
<rect x="1297.1" y="506.1" width="198.7" height="198.7" filter="url(#gBlue)" opacity="0.85"/>
<rect x="1297.1" y="506.1" width="198.7" height="198.7" filter="url(#gFine)" opacity="0.7"/>
<rect x="1498.0" y="706.7" width="198.7" height="198.7" filter="url(#gBlue)" opacity="0.85"/>
<rect x="1498.0" y="706.7" width="198.7" height="198.7" filter="url(#gFine)" opacity="0.7"/>
<ellipse cx="1510.6" cy="522.4" rx="3.3" ry="3.1" fill="#d8d8d8" opacity="0.6240000000000001" filter="url(#gcb)"/>
<ellipse cx="1510.6" cy="723.3" rx="3.3" ry="3.1" fill="#d0d0e4" opacity="0.576" filter="url(#gcb)"/>
<ellipse cx="1544.2" cy="523.0" rx="3.3" ry="3.2" fill="#d8d8d8" opacity="0.6240000000000001" filter="url(#gcb)"/>
<ellipse cx="1544.2" cy="723.9" rx="3.3" ry="3.3" fill="#d0d0e4" opacity="0.576" filter="url(#gcb)"/>
<ellipse cx="1585.9" cy="512.3" rx="3.3" ry="3.1" fill="#d8d8d8" opacity="0.6240000000000001" filter="url(#gcb)"/>
<ellipse cx="1585.9" cy="713.3" rx="3.3" ry="3.2" fill="#d0d0e4" opacity="0.576" filter="url(#gcb)"/>
<ellipse cx="1566.5" cy="532.4" rx="3.3" ry="2.7" fill="#d8d8d8" opacity="0.5459999999999999" filter="url(#gcb)"/>
<ellipse cx="1566.5" cy="733.3" rx="3.3" ry="2.9" fill="#d0d0e4" opacity="0.504" filter="url(#gcb)"/>
<ellipse cx="1636.1" cy="545.9" rx="2.7" ry="2.7" fill="#d8d8d8" opacity="0.35100000000000003" filter="url(#gcb)"/>
<ellipse cx="1636.1" cy="746.8" rx="2.7" ry="2.5" fill="#d0d0e4" opacity="0.324" filter="url(#gcb)"/>
<ellipse cx="1588.4" cy="592.1" rx="3.3" ry="3.2" fill="#d8d8d8" opacity="0.6240000000000001" filter="url(#gcb)"/>
<ellipse cx="1588.4" cy="793.0" rx="3.3" ry="2.7" fill="#d0d0e4" opacity="0.576" filter="url(#gcb)"/>
<ellipse cx="1604.1" cy="589.9" rx="2.7" ry="2.4" fill="#d8d8d8" opacity="0.46799999999999997" filter="url(#gcb)"/>
<ellipse cx="1604.1" cy="790.8" rx="2.7" ry="2.3" fill="#d0d0e4" opacity="0.432" filter="url(#gcb)"/>
<ellipse cx="1533.5" cy="593.0" rx="2.7" ry="2.5" fill="#d8d8d8" opacity="0.35100000000000003" filter="url(#gcb)"/>
<ellipse cx="1533.5" cy="793.9" rx="2.7" ry="2.5" fill="#d0d0e4" opacity="0.324" filter="url(#gcb)"/>
<ellipse cx="1527.8" cy="613.4" rx="3.3" ry="2.6" fill="#d8d8d8" opacity="0.78" filter="url(#gcb)"/>
<ellipse cx="1527.8" cy="814.3" rx="3.3" ry="2.8" fill="#d0d0e4" opacity="0.72" filter="url(#gcb)"/>
<ellipse cx="1572.4" cy="613.4" rx="3.3" ry="2.8" fill="#d8d8d8" opacity="0.6240000000000001" filter="url(#gcb)"/>
<ellipse cx="1572.4" cy="814.3" rx="3.3" ry="3.2" fill="#d0d0e4" opacity="0.576" filter="url(#gcb)"/>
<ellipse cx="1595.3" cy="640.1" rx="3.3" ry="3.1" fill="#d8d8d8" opacity="0.585" filter="url(#gcb)"/>
<ellipse cx="1595.3" cy="841.0" rx="3.3" ry="2.7" fill="#d0d0e4" opacity="0.54" filter="url(#gcb)"/>
<ellipse cx="1585.9" cy="645.4" rx="2.7" ry="2.6" fill="#d8d8d8" opacity="0.39" filter="url(#gcb)"/>
<ellipse cx="1585.9" cy="846.4" rx="2.7" ry="2.2" fill="#d0d0e4" opacity="0.36" filter="url(#gcb)"/>
<ellipse cx="1560.2" cy="652.0" rx="2.7" ry="2.5" fill="#d8d8d8" opacity="0.39" filter="url(#gcb)"/>
<ellipse cx="1560.2" cy="853.0" rx="2.7" ry="2.2" fill="#d0d0e4" opacity="0.36" filter="url(#gcb)"/>
<ellipse cx="1614.8" cy="658.0" rx="2.7" ry="2.2" fill="#d8d8d8" opacity="0.39" filter="url(#gcb)"/>
<ellipse cx="1614.8" cy="858.9" rx="2.7" ry="2.6" fill="#d0d0e4" opacity="0.36" filter="url(#gcb)"/>
<ellipse cx="1574.3" cy="676.2" rx="3.3" ry="2.8" fill="#d8d8d8" opacity="0.5459999999999999" filter="url(#gcb)"/>
<ellipse cx="1574.3" cy="877.1" rx="3.3" ry="2.8" fill="#d0d0e4" opacity="0.504" filter="url(#gcb)"/>
<ellipse cx="1631.4" cy="618.1" rx="2.7" ry="2.7" fill="#d8d8d8" opacity="0.27299999999999996" filter="url(#gcb)"/>
<ellipse cx="1631.4" cy="819.1" rx="2.7" ry="2.6" fill="#d0d0e4" opacity="0.252" filter="url(#gcb)"/>
<ellipse cx="1509.9" cy="589.9" rx="2.7" ry="2.3" fill="#d8d8d8" opacity="0.31200000000000006" filter="url(#gcb)"/>
<ellipse cx="1509.9" cy="790.8" rx="2.7" ry="2.7" fill="#d0d0e4" opacity="0.288" filter="url(#gcb)"/>
<ellipse cx="1509.9" cy="530.2" rx="2.7" ry="2.5" fill="#d8d8d8" opacity="0.39" filter="url(#gcb)"/>
<ellipse cx="1509.9" cy="731.2" rx="2.7" ry="2.5" fill="#d0d0e4" opacity="0.36" filter="url(#gcb)"/>
<ellipse cx="1553.0" cy="564.8" rx="2.7" ry="2.3" fill="#d8d8d8" opacity="0.23399999999999999" filter="url(#gcb)"/>
<ellipse cx="1553.0" cy="765.7" rx="2.7" ry="2.7" fill="#d0d0e4" opacity="0.216" filter="url(#gcb)"/>
<ellipse cx="1563.9" cy="544.4" rx="2.7" ry="2.5" fill="#d8d8d8" opacity="0.23399999999999999" filter="url(#gcb)"/>
<ellipse cx="1563.9" cy="745.3" rx="2.7" ry="2.7" fill="#d0d0e4" opacity="0.216" filter="url(#gcb)"/>
<ellipse cx="1606.3" cy="545.9" rx="2.7" ry="2.6" fill="#d8d8d8" opacity="0.23399999999999999" filter="url(#gcb)"/>
<ellipse cx="1606.3" cy="746.8" rx="2.7" ry="2.3" fill="#d0d0e4" opacity="0.216" filter="url(#gcb)"/>
<ellipse cx="1667.5" cy="534.9" rx="2.7" ry="2.4" fill="#d8d8d8" opacity="0.195" filter="url(#gcb)"/>
<ellipse cx="1667.5" cy="735.9" rx="2.7" ry="2.2" fill="#d0d0e4" opacity="0.18" filter="url(#gcb)"/>
<ellipse cx="1625.2" cy="597.7" rx="2.7" ry="2.2" fill="#d8d8d8" opacity="0.23399999999999999" filter="url(#gcb)"/>
<ellipse cx="1625.2" cy="798.6" rx="2.7" ry="2.2" fill="#d0d0e4" opacity="0.216" filter="url(#gcb)"/>
<ellipse cx="1513.7" cy="644.8" rx="2.7" ry="2.3" fill="#d8d8d8" opacity="0.195" filter="url(#gcb)"/>
<ellipse cx="1513.7" cy="845.7" rx="2.7" ry="2.5" fill="#d0d0e4" opacity="0.18" filter="url(#gcb)"/>
<ellipse cx="1529.4" cy="696.0" rx="2.7" ry="2.2" fill="#d8d8d8" opacity="0.23399999999999999" filter="url(#gcb)"/>
<ellipse cx="1529.4" cy="896.9" rx="2.7" ry="2.5" fill="#d0d0e4" opacity="0.216" filter="url(#gcb)"/>
<ellipse cx="1644.0" cy="597.7" rx="2.7" ry="2.3" fill="#d8d8d8" opacity="0.15600000000000003" filter="url(#gcb)"/>
<ellipse cx="1644.0" cy="798.6" rx="2.7" ry="2.3" fill="#d0d0e4" opacity="0.144" filter="url(#gcb)"/>
<ellipse cx="1603.2" cy="635.4" rx="2.7" ry="2.6" fill="#d8d8d8" opacity="0.27299999999999996" filter="url(#gcb)"/>
<ellipse cx="1603.2" cy="836.3" rx="2.7" ry="2.4" fill="#d0d0e4" opacity="0.252" filter="url(#gcb)"/>
<ellipse cx="1452.5" cy="721.7" rx="4.2" ry="3.6" fill="#2fc452" opacity="0.9" filter="url(#gcb)"/>
<ellipse cx="1452.5" cy="721.7" rx="2.3" ry="2.1" fill="#6fe27a" opacity="0.7200000000000001" filter="url(#gcb)"/>
<ellipse cx="1653.4" cy="721.7" rx="4.2" ry="4.0" fill="#3fd068" opacity="0.9" filter="url(#gcb)"/>
<ellipse cx="1653.4" cy="721.7" rx="2.3" ry="1.9" fill="#a8f0c0" opacity="0.81" filter="url(#gcb)"/>
<ellipse cx="1415.4" cy="751.6" rx="3.8" ry="3.8" fill="#2fc452" opacity="0.85" filter="url(#gcb)"/>
<ellipse cx="1415.4" cy="751.6" rx="2.1" ry="1.7" fill="#6fe27a" opacity="0.68" filter="url(#gcb)"/>
<ellipse cx="1616.4" cy="751.6" rx="3.8" ry="3.6" fill="#3fd068" opacity="0.85" filter="url(#gcb)"/>
<ellipse cx="1616.4" cy="751.6" rx="2.1" ry="2.0" fill="#a8f0c0" opacity="0.765" filter="url(#gcb)"/>
<ellipse cx="1362.1" cy="762.5" rx="3.8" ry="3.1" fill="#2fc452" opacity="0.7" filter="url(#gcb)"/>
<ellipse cx="1362.1" cy="762.5" rx="2.1" ry="2.0" fill="#6fe27a" opacity="0.5599999999999999" filter="url(#gcb)"/>
<ellipse cx="1563.0" cy="762.5" rx="3.8" ry="3.3" fill="#3fd068" opacity="0.7" filter="url(#gcb)"/>
<ellipse cx="1563.0" cy="762.5" rx="2.1" ry="1.9" fill="#a8f0c0" opacity="0.63" filter="url(#gcb)"/>
<ellipse cx="1380.9" cy="768.2" rx="4.6" ry="3.7" fill="#2fc452" opacity="1" filter="url(#gcb)"/>
<ellipse cx="1380.9" cy="768.2" rx="2.5" ry="2.0" fill="#6fe27a" opacity="0.8" filter="url(#gcb)"/>
<ellipse cx="1581.8" cy="768.2" rx="4.6" ry="3.8" fill="#3fd068" opacity="1" filter="url(#gcb)"/>
<ellipse cx="1581.8" cy="768.2" rx="2.5" ry="2.5" fill="#a8f0c0" opacity="0.9" filter="url(#gcb)"/>
<ellipse cx="1400.7" cy="793.3" rx="4.6" ry="3.9" fill="#2fc452" opacity="1" filter="url(#gcb)"/>
<ellipse cx="1400.7" cy="793.3" rx="2.5" ry="2.4" fill="#6fe27a" opacity="0.8" filter="url(#gcb)"/>
<ellipse cx="1601.6" cy="793.3" rx="4.6" ry="4.5" fill="#3fd068" opacity="1" filter="url(#gcb)"/>
<ellipse cx="1601.6" cy="793.3" rx="2.5" ry="2.5" fill="#a8f0c0" opacity="0.9" filter="url(#gcb)"/>
<ellipse cx="1315.9" cy="807.4" rx="5.4" ry="4.7" fill="#2fc452" opacity="1" filter="url(#gcb)"/>
<ellipse cx="1315.9" cy="807.4" rx="3.0" ry="2.6" fill="#6fe27a" opacity="0.8" filter="url(#gcb)"/>
<ellipse cx="1516.8" cy="807.4" rx="5.4" ry="4.9" fill="#3fd068" opacity="1" filter="url(#gcb)"/>
<ellipse cx="1516.8" cy="807.4" rx="3.0" ry="2.8" fill="#a8f0c0" opacity="0.9" filter="url(#gcb)"/>
<ellipse cx="1429.6" cy="866.8" rx="3.2" ry="2.6" fill="#2fc452" opacity="0.9" filter="url(#gcb)"/>
<ellipse cx="1429.6" cy="866.8" rx="1.8" ry="1.7" fill="#6fe27a" opacity="0.7200000000000001" filter="url(#gcb)"/>
<ellipse cx="1630.5" cy="866.8" rx="3.2" ry="3.1" fill="#3fd068" opacity="0.9" filter="url(#gcb)"/>
<ellipse cx="1630.5" cy="866.8" rx="1.8" ry="1.7" fill="#a8f0c0" opacity="0.81" filter="url(#gcb)"/>
<ellipse cx="1297.1" cy="882.5" rx="3.6" ry="2.9" fill="#2fc452" opacity="0.9" filter="url(#gcb)"/>
<ellipse cx="1297.1" cy="882.5" rx="2.0" ry="2.0" fill="#6fe27a" opacity="0.7200000000000001" filter="url(#gcb)"/>
<ellipse cx="1498.0" cy="882.5" rx="3.6" ry="2.9" fill="#3fd068" opacity="0.9" filter="url(#gcb)"/>
<ellipse cx="1498.0" cy="882.5" rx="2.0" ry="1.7" fill="#a8f0c0" opacity="0.81" filter="url(#gcb)"/>
<ellipse cx="1390.6" cy="820.6" rx="2.6" ry="2.4" fill="#2fc452" opacity="0.4" filter="url(#gcb)"/>
<ellipse cx="1390.6" cy="820.6" rx="1.4" ry="1.4" fill="#6fe27a" opacity="0.32000000000000006" filter="url(#gcb)"/>
<ellipse cx="1591.6" cy="820.6" rx="2.6" ry="2.3" fill="#3fd068" opacity="0.4" filter="url(#gcb)"/>
<ellipse cx="1591.6" cy="820.6" rx="1.4" ry="1.4" fill="#a8f0c0" opacity="0.36000000000000004" filter="url(#gcb)"/>
<ellipse cx="1353.6" cy="786.1" rx="1.6" ry="1.5" fill="#2fc452" opacity="0.4" filter="url(#gcb)"/>
<ellipse cx="1353.6" cy="786.1" rx="0.9" ry="0.8" fill="#6fe27a" opacity="0.32000000000000006" filter="url(#gcb)"/>
<ellipse cx="1554.5" cy="786.1" rx="1.6" ry="1.4" fill="#3fd068" opacity="0.4" filter="url(#gcb)"/>
<ellipse cx="1554.5" cy="786.1" rx="0.9" ry="0.7" fill="#a8f0c0" opacity="0.36000000000000004" filter="url(#gcb)"/>
<ellipse cx="1344.2" cy="815.9" rx="1.6" ry="1.3" fill="#2fc452" opacity="0.3" filter="url(#gcb)"/>
<ellipse cx="1344.2" cy="815.9" rx="0.9" ry="0.7" fill="#6fe27a" opacity="0.24" filter="url(#gcb)"/>
<ellipse cx="1545.1" cy="815.9" rx="1.6" ry="1.5" fill="#3fd068" opacity="0.3" filter="url(#gcb)"/>
<ellipse cx="1545.1" cy="815.9" rx="0.9" ry="0.9" fill="#a8f0c0" opacity="0.27" filter="url(#gcb)"/>
<ellipse cx="1374.0" cy="874.0" rx="1.6" ry="1.3" fill="#2fc452" opacity="0.3" filter="url(#gcb)"/>
<ellipse cx="1374.0" cy="874.0" rx="0.9" ry="0.7" fill="#6fe27a" opacity="0.24" filter="url(#gcb)"/>
<ellipse cx="1574.9" cy="874.0" rx="1.6" ry="1.6" fill="#3fd068" opacity="0.3" filter="url(#gcb)"/>
<ellipse cx="1574.9" cy="874.0" rx="0.9" ry="0.8" fill="#a8f0c0" opacity="0.27" filter="url(#gcb)"/>
<rect x="1290.0" y="500.0" width="7.1" height="410.0" fill="#fff" />
<rect x="1495.8" y="500.0" width="2.2" height="410.0" fill="#fff" />
<rect x="1290.0" y="704.8" width="410.0" height="1.9" fill="#fff" />
<line x1="1630.0" y1="567.8" x2="1618.5" y2="577.9" stroke="#fff" stroke-width="2.6" />
<path d="M1613.5 582.3 l11.5 -3.2 l-3.4 -3 l-2.8 -3.8z" fill="#fff"/>
<line x1="1429.1" y1="771.0" x2="1417.6" y2="781.1" stroke="#fff" stroke-width="2.6" />
<path d="M1412.6 785.5 l11.5 -3.2 l-3.4 -3 l-2.8 -3.8z" fill="#fff"/>
<line x1="1630.0" y1="771.0" x2="1618.5" y2="781.1" stroke="#fff" stroke-width="2.6" />
<path d="M1613.5 785.5 l11.5 -3.2 l-3.4 -3 l-2.8 -3.8z" fill="#fff"/>
<rect x="1621.4" y="869.9" width="67.2" height="5.7" fill="#fff" />
<text transform="translate(1285.5 605.6) rotate(-90)" font-size="23.5" text-anchor="middle" fill="#2e3192" textLength="54.6" lengthAdjust="spacingAndGlyphs">DAPI</text>
<text transform="translate(1285.5 805.2) rotate(-90)" font-size="23.5" text-anchor="middle" fill="#00a651" textLength="47.7" lengthAdjust="spacingAndGlyphs">GFP</text>
<text transform="translate(1725.6 605.7) rotate(-90)" font-size="23.5" text-anchor="middle" fill="#231f20" textLength="48.7" lengthAdjust="spacingAndGlyphs">FOS</text>
<text transform="translate(1725.6 805.2) rotate(-90)" font-size="23.5" text-anchor="middle" fill="#231f20" textLength="68.5" lengthAdjust="spacingAndGlyphs">Merge</text>
<!-- p_h.py -->
<text x="1.3" y="986.3" font-size="34" font-weight="bold" fill="#231f20" stroke="#231f20" stroke-width="1.2">h</text>
<text x="147.0" y="1005.5" font-size="23.5" fill="#231f20" textLength="153.5" lengthAdjust="spacingAndGlyphs">Photoreceiver</text>
<text x="98.8" y="1040.2" font-size="23.5" fill="#231f20" textLength="82.5" lengthAdjust="spacingAndGlyphs">405 nm</text>
<text x="74.8" y="1065.0" font-size="23.5" fill="#231f20" textLength="81.8" lengthAdjust="spacingAndGlyphs">465 nm</text>
<g transform="translate(130 1120) scale(0.17563)">
<path d="M228 322 C 300 255, 420 200, 560 172 C 640 160, 720 157, 782 158 L852 216 L885 183 C 960 160, 1080 175, 1200 212 C 1340 262, 1480 350, 1580 470 C 1660 570, 1695 690, 1690 810 C 1685 930, 1640 1050, 1570 1150 C 1500 1235, 1400 1280, 1320 1268 C 1270 1258, 1235 1240, 1212 1218" fill="none" stroke="#231f20" stroke-width="1.6" vector-effect="non-scaling-stroke" stroke-linejoin="round" stroke-linecap="round"/>
<path d="M42 912 C 55 1000, 95 1100, 170 1195 C 240 1262, 340 1285, 430 1262 C 510 1238, 560 1190, 558 1150 C 600 1200, 680 1255, 760 1270 L823 1290" fill="none" stroke="#231f20" stroke-width="1.6" vector-effect="non-scaling-stroke" stroke-linejoin="round" stroke-linecap="round"/>
<g transform="translate(227.75 170.8) scale(0.71873)">
<path d="M890 365 C 820 360, 760 320, 690 275 C 640 245, 580 235, 520 245 C 440 260, 360 320, 330 390 C 310 440, 320 480, 360 495 C 420 520, 500 518, 560 530 C 620 545, 680 590, 720 600 C 760 580, 800 540, 832 500" fill="none" stroke="#231f20" stroke-width="1.6" vector-effect="non-scaling-stroke" stroke-linejoin="round" stroke-linecap="round"/>
<path d="M880 400 C 810 395, 740 350, 680 305 C 630 275, 580 268, 530 278 C 460 292, 390 340, 365 400 C 350 445, 365 475, 400 488 C 460 500, 540 490, 600 470" fill="none" stroke="#231f20" stroke-width="1.6" vector-effect="non-scaling-stroke" stroke-linejoin="round" stroke-linecap="round"/>
<path d="M870 425 C 800 415, 740 375, 680 335 C 640 305, 590 295, 540 303 C 480 316, 420 360, 400 410" fill="none" stroke="#231f20" stroke-width="2.6" vector-effect="non-scaling-stroke" stroke-linecap="round"/>
<path d="M520 400 C 560 380, 620 390, 680 420 C 730 445, 780 470, 800 480 C 790 510, 740 520, 690 515 C 640 505, 580 480, 540 450 C 515 430, 510 410, 520 400Z" fill="none" stroke="#231f20" stroke-width="1.6" vector-effect="non-scaling-stroke" stroke-linejoin="round" stroke-linecap="round"/>
<path d="M560 450 C 620 470, 700 500, 762 495 M600 505 C 650 525, 700 535, 742 522" fill="none" stroke="#231f20" stroke-width="2.6" vector-effect="non-scaling-stroke" stroke-linecap="round"/>
<g transform="translate(1691.6 0) scale(-0.89 1)"><path d="M890 365 C 820 360, 760 320, 690 275 C 640 245, 580 235, 520 245 C 440 260, 360 320, 330 390 C 310 440, 320 480, 360 495 C 420 520, 500 518, 560 530 C 620 545, 680 590, 720 600 C 760 580, 800 540, 832 500" fill="none" stroke="#231f20" stroke-width="1.6" vector-effect="non-scaling-stroke" stroke-linejoin="round" stroke-linecap="round"/>
<path d="M880 400 C 810 395, 740 350, 680 305 C 630 275, 580 268, 530 278 C 460 292, 390 340, 365 400 C 350 445, 365 475, 400 488 C 460 500, 540 490, 600 470" fill="none" stroke="#231f20" stroke-width="1.6" vector-effect="non-scaling-stroke" stroke-linejoin="round" stroke-linecap="round"/>
<path d="M870 425 C 800 415, 740 375, 680 335 C 640 305, 590 295, 540 303 C 480 316, 420 360, 400 410" fill="none" stroke="#231f20" stroke-width="2.6" vector-effect="non-scaling-stroke" stroke-linecap="round"/>
<path d="M520 400 C 560 380, 620 390, 680 420 C 730 445, 780 470, 800 480 C 790 510, 740 520, 690 515 C 640 505, 580 480, 540 450 C 515 430, 510 410, 520 400Z" fill="none" stroke="#231f20" stroke-width="1.6" vector-effect="non-scaling-stroke" stroke-linejoin="round" stroke-linecap="round"/>
<path d="M560 450 C 620 470, 700 500, 762 495 M600 505 C 650 525, 700 535, 742 522" fill="none" stroke="#231f20" stroke-width="2.6" vector-effect="non-scaling-stroke" stroke-linecap="round"/>
</g>
<path d="M870 400 C 880 440, 850 480, 860 520 C 870 560, 840 600, 860 640 C 880 680, 900 650, 895 610 C 890 560, 905 520, 900 480 C 895 440, 905 420, 900 400" fill="none" stroke="#231f20" stroke-width="1.6" vector-effect="non-scaling-stroke" stroke-linejoin="round" stroke-linecap="round"/>
<path d="M700 585 C 640 550, 560 520, 480 535 C 420 550, 360 600, 330 660 C 300 720, 250 780, 235 850 C 230 880, 250 892, 270 880 C 300 920, 400 1020, 470 1090 C 520 1140, 532 1200, 490 1226 C 450 1240, 400 1200, 360 1150 C 325 1105, 295 1085, 290 1075" fill="none" stroke="#231f20" stroke-width="1.6" vector-effect="non-scaling-stroke" stroke-linejoin="round" stroke-linecap="round"/>
<path d="M285 1075 C 290 1130, 340 1200, 400 1280 C 440 1330, 480 1370, 500 1400 M300 1078 C 350 1100, 420 1200, 470 1290 C 490 1330, 510 1380, 530 1420" fill="none" stroke="#231f20" stroke-width="1.6" vector-effect="non-scaling-stroke" stroke-linejoin="round" stroke-linecap="round"/>
<path d="M400 300 C 350 340, 300 400, 250 440 C 220 460, 190 480, 185 520 C 190 560, 215 600, 200 640 C 195 670, 180 680, 160 685 L110 715 C 120 760, 130 800, 125 850 C 150 900, 200 960, 250 1030 C 270 1060, 285 1075, 290 1075" fill="none" stroke="#231f20" stroke-width="1.6" vector-effect="non-scaling-stroke" stroke-linejoin="round" stroke-linecap="round"/>
<path d="M250 440 C 260 500, 250 560, 270 610 C 275 650, 250 680, 215 690 C 205 710, 215 740, 250 745 C 290 740, 320 700, 335 660 M210 700 C 250 722, 300 700, 330 650" fill="none" stroke="#231f20" stroke-width="1.6" vector-effect="non-scaling-stroke" stroke-linejoin="round" stroke-linecap="round"/>
<path d="M1062 598 C 1120 580, 1200 555, 1290 570 C 1360 600, 1420 690, 1445 780 C 1455 860, 1430 940, 1380 1000 C 1330 1045, 1270 1090, 1245 1135 C 1235 1180, 1255 1208, 1300 1215 C 1350 1195, 1400 1135, 1440 1080" fill="none" stroke="#231f20" stroke-width="1.6" vector-effect="non-scaling-stroke" stroke-linejoin="round" stroke-linecap="round"/>
<path d="M1390 300 C 1440 350, 1480 420, 1500 470 C 1535 500, 1545 560, 1540 600 C 1570 615, 1590 600, 1590 640 C 1625 680, 1600 720, 1625 745 C 1600 800, 1570 900, 1510 990 C 1480 1040, 1450 1090, 1440 1110" fill="none" stroke="#231f20" stroke-width="1.6" vector-effect="non-scaling-stroke" stroke-linejoin="round" stroke-linecap="round"/>
<path d="M1480 560 C 1490 620, 1470 660, 1490 690 C 1530 700, 1570 680, 1590 640 M1470 730 C 1510 745, 1560 735, 1590 700" fill="none" stroke="#231f20" stroke-width="1.6" vector-effect="non-scaling-stroke" stroke-linejoin="round" stroke-linecap="round"/>
</g>
<rect x="823" y="1065" width="187" height="228" fill="none" stroke="#231f20" stroke-width="1.3" vector-effect="non-scaling-stroke"/>
<path d="M852 1062 C 838 1130, 838 1210, 850 1272 C 864 1210, 864 1130, 852 1062Z" fill="none" stroke="#231f20" stroke-width="0.9" vector-effect="non-scaling-stroke"/>
<path d="M232 55 L1008 1067 M40 912 L824 1292" fill="none" stroke="#231f20" stroke-width="1.3" vector-effect="non-scaling-stroke"/>
<path d="M915 1150 C 980 1050, 1150 1055, 1255 1075" fill="none" stroke="#00a651" stroke-width="0.9" vector-effect="non-scaling-stroke"/>
<path d="M935 1165 C 1000 1085, 1130 1075, 1240 1082" fill="none" stroke="#00a651" stroke-width="0.9" vector-effect="non-scaling-stroke"/>
<path d="M960 1190 C 1050 1150, 1150 1100, 1215 1092" fill="none" stroke="#00a651" stroke-width="0.9" vector-effect="non-scaling-stroke"/>
<path d="M975 1205 C 1060 1180, 1140 1150, 1190 1120" fill="none" stroke="#00a651" stroke-width="0.9" vector-effect="non-scaling-stroke"/>
<path d="M985 1218 C 1060 1218, 1130 1190, 1170 1160" fill="none" stroke="#00a651" stroke-width="0.9" vector-effect="non-scaling-stroke"/>
<ellipse cx="925" cy="1205" rx="78" ry="42" fill="#00a651" transform="rotate(42 925 1205)"/>
<path d="M1262 978 L1305 968 L1328 1000 L1305 1050 L1282 1082 L1235 1082 L1215 1060 L1245 1020Z" fill="#00a651"/>
<path d="M1170 1110 L1210 1085 L1265 1090 L1285 1130 L1280 1190 L1245 1226 L1195 1215 L1158 1170Z" fill="#00a651"/>
<path d="M1305 968 L1328 1000 L1305 1050 L1282 1082 L1240 1084 M1265 1090 L1285 1130 L1280 1190 L1245 1226 L1195 1215" fill="none" stroke="#231f20" stroke-width="1.4" stroke-dasharray="4 2.5" vector-effect="non-scaling-stroke"/>
</g>
<path d="M347.6 1187.3 L357.2 1187.3 L354.4 1300 L352.4 1300Z" fill="#00a651"/>
<line x1="344.4" y1="1073.3" x2="352.1" y2="1303.4" stroke="#231f20" stroke-width="0.9" />
<line x1="359.9" y1="1073.3" x2="354.2" y2="1303.4" stroke="#231f20" stroke-width="0.9" />
<path d="M238.6 1088 C 240 1096, 246 1096, 252 1088 C 262 1070, 262 1048, 270 1038 C 280 1030, 290 1034, 291 1054" fill="none" stroke="#231f20" stroke-width="1.6" />
<path d="M230.4 1032.5 L246.4 1032.5 L246.4 1081.6 L238.4 1088.5 L230.4 1081.6Z" fill="#00a651" stroke="#231f20" stroke-width="1.6" stroke-linejoin="round"/>
<path d="M231.6 1081.6 L245.2 1081.6 L238.4 1086.9Z" fill="#3cb878"/>
<line x1="230.4" y1="1081.6" x2="246.4" y2="1081.6" stroke="#231f20" stroke-width="1.2" />
<rect x="216.2" y="1023.0" width="42.3" height="7.7" fill="#231f20" />
<line x1="183.7" y1="1059.8" x2="230.4" y2="1059.8" stroke="#231f20" stroke-width="3.6" />
<path d="M201.2 1042.3 V1059.8" fill="none" stroke="#231f20" stroke-width="3.6" />
<line x1="183.7" y1="1059.8" x2="229.9" y2="1059.8" stroke="#1b75bc" stroke-width="1.5" />
<path d="M201.2 1042.3 V1058.0" fill="none" stroke="#7b3f8c" stroke-width="1.5" />
<rect x="193.5" y="1026.6" width="15.5" height="15.7" fill="#8e4a9e" stroke="#231f20" stroke-width="1.2"/>
<rect x="167.7" y="1051.9" width="16.0" height="15.5" fill="#1b75bc" stroke="#231f20" stroke-width="1.2"/>
<line x1="224.4" y1="1034.0" x2="249.4" y2="1034.0" stroke="#bbb" stroke-width="0.9" />
<line x1="194.7" y1="1045.3" x2="207.7" y2="1045.3" stroke="#bbb" stroke-width="0.9" />
<line x1="197.2" y1="1055.8" x2="205.2" y2="1064.3" stroke="#bbb" stroke-width="0.9" />
<line x1="224.4" y1="1052.3" x2="247.4" y2="1075.6" stroke="#ccc" stroke-width="0.9" />
<line x1="187.2" y1="1053.8" x2="187.2" y2="1065.8" stroke="#bbb" stroke-width="0.9" />
<path d="M279.4 1055.8 V1148.6 A11.0 3.6 0 0 0 301.3 1148.6 V1055.8 A11.0 3.6 0 0 0 279.4 1055.8Z" fill="url(#cylg)" stroke="#231f20" stroke-width="1.2"/>
<ellipse cx="290.4" cy="1055.8" rx="11.0" ry="3.6" fill="#77787b" stroke="#231f20" stroke-width="1.2"/>
<path d="M279.4 1148.6 A11.0 3.6 0 0 1 301.3 1148.6" fill="none" stroke="#231f20" stroke-width="1"/>
<rect x="285.0" y="1153.5" width="7.8" height="164.1" fill="#9b9b9b" stroke="#4d4d4f" stroke-width="0.9"/>
<text x="361.8" y="1323.7" font-size="23.5" fill="#231f20" textLength="49.2" lengthAdjust="spacingAndGlyphs">MeA</text>
<text x="284.6" y="1375.5" font-size="23.5" fill="#231f20" textLength="51.8" lengthAdjust="spacingAndGlyphs">VMH</text>
<text x="26.6" y="1123.3" font-size="16.92" fill="#00a651" textLength="136.4" lengthAdjust="spacingAndGlyphs">Axon-GCaMP8s</text>
<g clip-path="url(#ch)">
<rect x="18.1" y="1128.8" width="152.2" height="150.1" fill="#020402" />
<g transform="translate(10 1105) scale(0.0985)">
<path d="M82 240 L1150 240 L1200 600 L1200 1300 L1100 1450 L800 1500 L550 1430 L350 1300 L200 1100 L100 900 L82 700Z" fill="#061c0b" opacity="0.6" filter="url(#hblz)"/>
<path d="M1190 600 L1215 900 L1195 1300 L1100 1420 L900 1480 L700 1450 L500 1350 L350 1200 L280 1050 L330 900 L480 780 L650 690 L850 630 L1000 600Z" fill="#0c481c" opacity="0.7" filter="url(#hblz)"/>
<ellipse cx="950" cy="980" rx="210" ry="300" fill="#1a7a32" opacity="0.5" filter="url(#hblz)"/>
<ellipse cx="480" cy="650" rx="60" ry="50" fill="#000" opacity="0.7" filter="url(#hblz2)"/>
<ellipse cx="440" cy="870" rx="35" ry="40" fill="#000" opacity="0.5" filter="url(#hblz2)"/>
</g>
<rect x="18.1" y="1128.8" width="152.2" height="150.1" filter="url(#hG)" mask="url(#mh)"/>
<rect x="102.8" y="1129.5" width="14.6" height="48.8" fill="#000" opacity="0.85"/>
<rect x="102.4" y="1130.6" width="15" height="47.7" fill="none" stroke="#fff" stroke-width="1" stroke-dasharray="1.6 1.3"/>
<text x="120.0" y="1139.1" font-size="9.59" fill="#fff" textLength="45.0" lengthAdjust="spacingAndGlyphs">–1.58 mm</text>
<text x="146.3" y="1193.8" font-size="14.1" fill="#fff" textLength="16.7" lengthAdjust="spacingAndGlyphs">3V</text>
<rect x="153.5" y="1272.5" width="13.7" height="5.6" fill="#fff" />
</g>
<rect x="18.1" y="1128.8" width="152.2" height="150.1" fill="none" stroke="#231f20" stroke-width="1"/>
<!-- p_im.py -->
<path d="M533 1196.6H534V1201.9H535V1198.4H536V1194.4H537V1197.8H538V1196.0H539V1198.1H540V1197.4H541V1197.4H542V1194.4H543V1199.6H544V1201.9H545V1193.4H546V1207.2H547V1195.9H548V1203.5H549V1198.9H550V1204.7H551V1204.5H552V1202.7H553V1194.2H554V1195.4H555V1191.4H556V1192.3H557V1191.3H558V1186.6H559V1192.9H560V1186.0H561V1192.1H562V1198.0H563V1205.0H564V1204.7H565V1208.2H566V1199.0H567V1194.2H568V1208.5H569V1211.7H570V1197.7H571V1203.4H572V1206.1H573V1195.2H574V1188.5H575V1190.8H576V1183.5H577V1155.3H578V1102.9H579V1103.2H580V1133.6H581V1138.1H582V1149.1H583V1156.4H584V1165.3H585V1156.1H586V1157.4H587V1171.8H588V1171.1H589V1179.1H590V1173.4H591V1167.4H592V1166.3H593V1167.3H594V1166.5H595V1163.8H596V1180.3H597V1172.8H598V1178.9H599V1179.8H600V1187.3H601V1182.3H602V1194.9H603V1206.1H604V1205.8H605V1215.8H606V1215.0H607V1204.7H608V1201.9H609V1205.0H610V1202.7H611V1195.8H612V1206.2H613V1205.4H614V1201.8H615V1196.1H616V1200.0H617V1206.9H618V1210.8H619V1207.9H620V1209.0H621V1210.4H622V1211.3H623V1215.6H624V1206.8H625V1212.0H626V1207.7H627V1204.3H628V1206.5H629V1206.9H630V1211.1H631V1205.5H632V1212.8H633V1200.7H634V1204.8H635V1208.5H636V1204.5H637V1219.0H638V1208.0H639V1203.9H640V1213.5H641V1211.6H642V1209.8H643V1214.6H644V1205.0H645V1215.1H646V1206.5H647V1210.0H648V1207.7H649V1199.2H650V1205.4H651V1205.4H652V1209.6H653V1198.7H654V1204.2H655V1202.4H656V1207.1H657V1216.0H658V1221.1H659V1211.4H660V1217.3H661V1213.8H662V1217.6H663V1221.9H664V1219.3H665V1225.5H666V1222.8H667V1219.3H668V1218.7H669V1203.9H670V1216.2H671V1225.8H672V1221.9H673V1224.9H674V1232.0H675V1229.6H676V1231.5H677V1230.8H678V1233.3H679V1222.5H680V1227.4H681V1221.8H682V1233.3H683V1225.4H684V1232.9H685V1228.6H686V1218.4H687V1216.0H688V1207.9H689V1206.5H690V1224.4H691V1220.4H692V1221.5H693V1220.6H694V1218.6H695V1226.6H696V1221.6H697V1222.5H698V1223.3H699V1222.9H700V1210.8H701V1216.7H702V1213.0H703V1213.7H704V1219.8H705V1207.6H706V1221.1H707V1222.6H708V1214.3H709V1218.0H710V1208.6H711V1206.8H712V1214.8H713V1216.2H714V1222.8H715V1220.4H716V1217.7H717V1219.7H718V1221.6H719V1226.5H720V1222.2H721V1211.8H722V1214.3H723V1223.8H724V1216.8H725V1216.4H726V1218.7H727V1206.7H728V1202.7H729V1206.7H730V1208.5H731V1223.9H732V1226.7H733V1229.7H734V1226.8H735V1223.9H736V1227.4H737V1215.0H738V1226.0H739V1223.5H740V1223.8H741V1221.7H742V1226.0H743V1229.5H744V1220.9H745V1222.7H746V1220.6H747V1207.9H748V1214.5H749V1216.9H750V1212.9H751V1221.5H752V1218.2H753V1210.8H754V1212.9H755V1214.3H756V1218.4H757V1216.1H758V1202.7H759V1198.5H760V1192.3H761V1194.2H762V1213.1H763V1215.6H764V1215.8H765V1217.3H766V1216.9H767V1220.5H768V1203.5H769V1213.9H770V1205.9H771V1208.6H772V1221.5H773V1217.9H774V1222.2H775V1214.2H776V1213.9H777V1217.9H778V1206.2H779V1215.4H780V1211.3H781V1216.7H782V1214.8H783V1219.0H784V1211.8H785V1208.4H786V1203.3H787V1219.3H788V1222.5H789V1220.5H790V1226.9H791V1218.0H792V1216.8H793V1212.9H794V1214.6H795V1215.1H796V1204.6H797V1215.9H798V1210.7H799V1209.8H800V1215.5H801V1217.4H802V1225.8H803V1215.4H804V1217.6H805V1214.7H806V1221.2H807V1225.5H808V1217.0H809V1212.4H810V1213.9H811V1221.1H812V1219.9H813V1213.9H814V1211.8H815V1213.5H816V1213.3H817V1214.1H818V1219.3H819V1220.8H820V1208.9H821V1215.7H822V1210.7H823V1214.8H824V1196.1H825V1207.0H826V1203.2H827V1215.7H828V1220.3H829V1228.2H830V1217.2H831V1222.1H832V1211.8H833V1197.4H834V1216.6H835V1222.1H836V1210.7H837V1208.5H838V1205.9H839V1215.7H840V1215.5H841V1214.9H842V1213.5H843V1213.6H844V1207.4H845V1197.3H846V1205.1H847V1188.3H848V1202.9H849V1198.2H850V1191.0H851V1175.1H852V1166.9H853V1166.3H854V1171.7H855V1178.7H856V1181.9H857V1182.7H858V1174.4H859V1179.3H860V1181.9H861V1185.4H862V1188.8H863V1189.6H864V1188.4H865V1192.6H866V1178.1H867V1190.1H868V1182.7H869V1196.1H870V1184.3H871V1190.9H872V1199.1H873V1197.4H874V1195.8H875V1196.9H876V1198.7H877V1200.9H878V1198.5H879V1206.4H880V1207.2H881V1208.9H882V1204.2H883V1207.2H884V1202.8H885V1195.2H886V1199.3H887V1201.3H888V1201.7H889V1196.2H890V1196.9H891V1189.6H892V1192.9H893V1192.8H894V1174.0H895V1189.4H896V1192.7H897V1204.6H898V1232.1H897V1227.5H896V1223.9H895V1230.2H894V1232.4H893V1218.5H892V1223.8H891V1225.6H890V1237.0H889V1234.8H888V1231.1H887V1230.2H886V1236.5H885V1231.7H884V1241.0H883V1231.7H882V1228.5H881V1242.5H880V1234.7H879V1236.4H878V1233.0H877V1238.0H876V1227.4H875V1225.7H874V1228.9H873V1237.3H872V1223.0H871V1226.3H870V1221.0H869V1222.2H868V1216.9H867V1219.6H866V1230.4H865V1214.9H864V1223.8H863V1215.6H862V1217.1H861V1212.7H860V1210.5H859V1209.4H858V1212.5H857V1203.5H856V1200.6H855V1205.6H854V1212.7H853V1197.7H852V1218.5H851V1224.3H850V1228.9H849V1230.5H848V1229.4H847V1242.1H846V1233.9H845V1235.4H844V1233.9H843V1234.1H842V1234.3H841V1237.8H840V1236.8H839V1240.3H838V1239.2H837V1237.5H836V1256.7H835V1244.2H834V1240.8H833V1248.3H832V1258.6H831V1252.4H830V1253.6H829V1249.8H828V1239.9H827V1240.6H826V1238.4H825V1235.7H824V1237.3H823V1236.5H822V1248.8H821V1236.8H820V1247.4H819V1239.2H818V1240.5H817V1237.7H816V1236.7H815V1231.2H814V1237.3H813V1233.2H812V1236.4H811V1244.4H810V1246.8H809V1239.8H808V1249.3H807V1242.2H806V1239.3H805V1241.6H804V1242.0H803V1238.4H802V1241.9H801V1248.4H800V1238.6H799V1243.9H798V1229.2H797V1235.7H796V1238.1H795V1230.3H794V1236.1H793V1240.9H792V1247.1H791V1245.0H790V1249.6H789V1241.3H788V1238.8H787V1244.5H786V1243.8H785V1240.0H784V1232.2H783V1240.4H782V1236.0H781V1241.2H780V1238.4H779V1236.2H778V1240.8H777V1243.9H776V1246.0H775V1244.2H774V1236.7H773V1244.4H772V1242.2H771V1242.1H770V1235.8H769V1235.3H768V1248.6H767V1244.4H766V1236.4H765V1241.7H764V1231.7H763V1232.8H762V1230.1H761V1225.7H760V1220.7H759V1230.3H758V1237.2H757V1239.0H756V1239.0H755V1240.2H754V1239.5H753V1243.5H752V1240.9H751V1238.8H750V1238.5H749V1245.5H748V1239.0H747V1245.4H746V1236.3H745V1244.7H744V1246.6H743V1247.7H742V1249.6H741V1241.2H740V1241.1H739V1252.0H738V1244.8H737V1246.5H736V1248.8H735V1260.0H734V1256.6H733V1252.7H732V1242.4H731V1240.4H730V1239.7H729V1232.5H728V1231.6H727V1237.1H726V1242.9H725V1247.9H724V1243.2H723V1254.2H722V1240.5H721V1241.3H720V1245.8H719V1247.4H718V1236.3H717V1245.3H716V1242.4H715V1249.6H714V1250.6H713V1244.7H712V1241.0H711V1234.9H710V1240.1H709V1240.1H708V1234.9H707V1248.4H706V1242.6H705V1241.0H704V1244.2H703V1243.8H702V1240.1H701V1238.2H700V1241.2H699V1246.2H698V1243.7H697V1240.6H696V1249.1H695V1242.1H694V1238.4H693V1243.0H692V1240.7H691V1238.6H690V1238.0H689V1240.7H688V1246.9H687V1247.6H686V1247.8H685V1249.3H684V1262.3H683V1251.2H682V1262.8H681V1248.7H680V1255.3H679V1252.7H678V1256.8H677V1254.6H676V1251.9H675V1254.8H674V1254.7H673V1241.0H672V1247.3H671V1242.0H670V1246.6H669V1243.9H668V1245.2H667V1242.7H666V1247.5H665V1238.1H664V1238.1H663V1237.3H662V1241.3H661V1239.9H660V1239.7H659V1236.4H658V1237.9H657V1233.1H656V1236.4H655V1230.5H654V1227.9H653V1236.0H652V1235.2H651V1224.7H650V1230.5H649V1229.7H648V1228.8H647V1230.2H646V1234.4H645V1239.6H644V1237.6H643V1235.8H642V1235.2H641V1237.6H640V1235.6H639V1237.5H638V1235.2H637V1233.9H636V1230.7H635V1229.0H634V1229.6H633V1225.0H632V1231.2H631V1228.6H630V1223.8H629V1230.5H628V1233.5H627V1229.0H626V1232.0H625V1233.7H624V1233.3H623V1241.2H622V1236.3H621V1229.3H620V1223.1H619V1229.5H618V1225.5H617V1222.9H616V1224.9H615V1226.7H614V1226.9H613V1228.7H612V1234.9H611V1237.3H610V1226.9H609V1226.0H608V1233.5H607V1233.3H606V1231.1H605V1233.7H604V1240.6H603V1218.8H602V1212.5H601V1216.1H600V1211.6H599V1213.8H598V1207.3H597V1203.7H596V1200.4H595V1190.7H594V1196.4H593V1196.3H592V1195.6H591V1198.7H590V1202.0H589V1192.2H588V1192.2H587V1187.8H586V1190.2H585V1187.7H584V1183.5H583V1177.9H582V1163.1H581V1154.5H580V1136.8H579V1161.0H578V1196.3H577V1208.7H576V1214.2H575V1227.1H574V1227.8H573V1230.9H572V1228.4H571V1224.8H570V1231.3H569V1229.1H568V1226.0H567V1223.1H566V1223.2H565V1224.0H564V1219.1H563V1216.4H562V1215.3H561V1208.4H560V1214.9H559V1220.4H558V1215.3H557V1217.0H556V1218.9H555V1217.6H554V1221.4H553V1229.6H552V1226.0H551V1226.9H550V1229.1H549V1222.3H548V1222.0H547V1234.5H546V1219.4H545V1221.1H544V1220.0H543V1226.3H542V1216.5H541V1220.6H540V1220.9H539V1219.9H538V1224.4H537V1218.9H536V1217.1H535V1217.8H534V1219.3H533Z" fill="#999999" stroke="none" stroke-width="0" shape-rendering="crispEdges"/>
<path d="M533 1204.0H534V1204.7H535V1203.2H536V1203.2H537V1205.0H538V1200.7H539V1201.7H540V1201.5H541V1201.6H542V1200.2H543V1204.7H544V1206.1H545V1204.6H546V1210.4H547V1201.8H548V1206.5H549V1208.2H550V1208.6H551V1210.6H552V1211.2H553V1210.2H554V1199.0H555V1199.0H556V1198.5H557V1195.7H558V1195.6H559V1196.6H560V1196.1H561V1196.1H562V1205.0H563V1208.6H564V1208.6H565V1212.1H566V1202.9H567V1202.9H568V1211.3H569V1216.4H570V1214.0H571V1211.6H572V1208.8H573V1204.7H574V1204.1H575V1194.6H576V1185.7H577V1157.6H578V1104.8H579V1104.9H580V1134.7H581V1152.2H582V1157.5H583V1160.9H584V1168.6H585V1166.8H586V1165.1H587V1175.3H588V1175.3H589V1184.0H590V1182.0H591V1175.9H592V1175.9H593V1175.1H594V1171.5H595V1171.5H596V1184.8H597V1186.6H598V1190.5H599V1189.2H600V1191.2H601V1192.4H602V1198.9H603V1209.6H604V1214.0H605V1220.1H606V1219.5H607V1213.3H608V1212.8H609V1213.4H610V1210.6H611V1210.6H612V1213.5H613V1211.4H614V1211.4H615V1207.7H616V1209.8H617V1211.1H618V1216.9H619V1214.2H620V1215.1H621V1216.5H622V1218.0H623V1219.5H624V1211.6H625V1215.6H626V1210.7H627V1211.2H628V1210.3H629V1210.3H630V1214.3H631V1212.2H632V1218.3H633V1218.3H634V1219.7H635V1213.9H636V1221.0H637V1222.4H638V1215.0H639V1215.0H640V1217.8H641V1222.1H642V1214.1H643V1221.0H644V1217.1H645V1218.6H646V1213.5H647V1215.5H648V1216.7H649V1210.4H650V1209.7H651V1213.1H652V1213.1H653V1210.5H654V1214.0H655V1208.3H656V1211.7H657V1219.5H658V1227.1H659V1222.7H660V1220.3H661V1220.4H662V1223.9H663V1225.0H664V1225.5H665V1229.3H666V1228.7H667V1224.1H668V1226.7H669V1216.5H670V1224.1H671V1230.1H672V1228.9H673V1229.6H674V1240.5H675V1239.5H676V1245.2H677V1237.9H678V1237.9H679V1233.3H680V1234.6H681V1236.2H682V1238.7H683V1235.3H684V1237.2H685V1232.8H686V1226.2H687V1223.5H688V1220.7H689V1225.2H690V1228.0H691V1226.7H692V1227.5H693V1223.8H694V1227.5H695V1232.7H696V1227.4H697V1230.2H698V1229.9H699V1226.3H700V1223.6H701V1223.6H702V1221.6H703V1224.7H704V1224.7H705V1220.5H706V1225.3H707V1226.8H708V1219.5H709V1223.2H710V1217.6H711V1222.7H712V1220.1H713V1220.1H714V1226.1H715V1223.5H716V1224.9H717V1224.9H718V1229.0H719V1230.3H720V1225.5H721V1220.8H722V1220.8H723V1227.2H724V1224.7H725V1219.9H726V1221.9H727V1210.7H728V1210.7H729V1215.6H730V1215.6H731V1227.9H732V1233.8H733V1233.8H734V1232.6H735V1234.2H736V1233.4H737V1227.0H738V1230.3H739V1228.1H740V1227.8H741V1227.8H742V1231.6H743V1233.2H744V1225.9H745V1225.9H746V1230.9H747V1223.6H748V1224.2H749V1223.9H750V1220.2H751V1224.8H752V1222.2H753V1217.8H754V1218.1H755V1221.4H756V1222.7H757V1222.0H758V1210.3H759V1209.3H760V1204.1H761V1210.8H762V1216.6H763V1219.1H764V1219.5H765V1224.1H766V1220.0H767V1225.6H768V1222.0H769V1219.9H770V1221.2H771V1221.2H772V1228.0H773V1225.3H774V1225.3H775V1221.2H776V1219.1H777V1225.5H778V1226.0H779V1218.7H780V1215.0H781V1221.2H782V1222.6H783V1222.6H784V1215.8H785V1215.8H786V1221.4H787V1223.5H788V1225.9H789V1226.6H790V1231.1H791V1223.4H792V1220.6H793V1220.6H794V1219.3H795V1219.3H796V1215.7H797V1221.0H798V1221.0H799V1219.9H800V1219.9H801V1226.0H802V1229.1H803V1219.0H804V1221.4H805V1222.1H806V1226.5H807V1229.4H808V1222.5H809V1223.1H810V1223.1H811V1224.3H812V1225.0H813V1219.2H814V1219.7H815V1219.7H816V1221.4H817V1221.4H818V1225.5H819V1226.0H820V1220.2H821V1225.1H822V1220.1H823V1220.4H824V1220.4H825V1217.3H826V1224.1H827V1224.1H828V1232.3H829V1236.1H830V1226.9H831V1227.8H832V1224.4H833V1224.4H834V1226.5H835V1226.8H836V1218.7H837V1224.5H838V1220.8H839V1223.8H840V1221.2H841V1223.0H842V1220.5H843V1219.3H844V1216.5H845V1215.8H846V1214.6H847V1210.1H848V1210.1H849V1210.9H850V1204.0H851V1184.9H852V1175.5H853V1181.7H854V1186.4H855V1186.4H856V1190.0H857V1191.9H858V1190.1H859V1194.2H860V1193.3H861V1196.1H862V1199.9H863V1198.0H864V1200.5H865V1200.5H866V1200.2H867V1202.1H868V1199.9H869V1205.1H870V1194.8H871V1204.8H872V1209.4H873V1206.7H874V1206.7H875V1210.4H876V1215.1H877V1215.2H878V1217.7H879V1218.5H880V1215.8H881V1216.9H882V1215.9H883V1216.6H884V1212.7H885V1210.1H886V1215.6H887V1210.2H888V1214.5H889V1207.0H890V1208.6H891V1201.4H892V1201.4H893V1207.0H894V1205.8H895V1204.0H896V1205.2H897V1213.8H898V1221.5H897V1218.2H896V1213.3H895V1215.9H894V1215.9H893V1213.2H892V1216.9H891V1217.2H890V1218.0H889V1223.4H888V1223.4H887V1224.2H886V1224.2H885V1224.8H884V1228.6H883V1225.2H882V1223.4H881V1228.1H880V1226.6H879V1220.9H878V1228.0H877V1221.8H876V1220.9H875V1218.9H874V1219.9H873V1219.9H872V1216.2H871V1219.8H870V1212.8H869V1209.8H868V1210.8H867V1206.2H866V1215.0H865V1206.1H864V1203.2H863V1206.4H862V1206.8H861V1200.5H860V1201.2H859V1201.2H858V1202.1H857V1194.6H856V1193.3H855V1197.3H854V1194.9H853V1192.2H852V1205.0H851V1217.6H850V1219.8H849V1219.4H848V1223.0H847V1226.0H846V1226.4H845V1224.8H844V1226.8H843V1228.8H842V1228.8H841V1229.4H840V1229.5H839V1233.0H838V1233.7H837V1231.4H836V1234.4H835V1233.9H834V1235.7H833V1236.1H832V1230.9H831V1241.4H830V1243.5H829V1240.6H828V1234.6H827V1232.5H826V1229.5H825V1226.8H824V1227.0H823V1231.2H822V1236.3H821V1230.6H820V1234.6H819V1233.1H818V1234.3H817V1233.1H816V1233.1H815V1226.2H814V1229.3H813V1229.3H812V1231.5H811V1239.3H810V1239.3H809V1235.3H808V1238.5H807V1235.0H806V1233.0H805V1233.3H804V1236.3H803V1234.8H802V1234.8H801V1237.2H800V1231.7H799V1238.3H798V1224.6H797V1226.2H796V1231.1H795V1225.2H794V1225.9H793V1231.3H792V1239.0H791V1239.0H790V1239.5H789V1236.5H788V1234.4H787V1239.0H786V1239.0H785V1232.9H784V1228.6H783V1232.3H782V1228.3H781V1231.9H780V1229.9H779V1232.4H778V1232.2H777V1232.2H776V1237.9H775V1232.8H774V1229.7H773V1236.1H772V1232.7H771V1231.5H770V1231.0H769V1231.5H768V1236.7H767V1233.7H766V1231.9H765V1230.0H764V1227.6H763V1223.3H762V1225.1H761V1219.1H760V1215.6H759V1226.8H758V1231.7H757V1231.7H756V1234.3H755V1234.3H754V1235.0H753V1235.0H752V1233.9H751V1234.7H750V1233.8H749V1235.2H748V1231.9H747V1237.8H746V1232.0H745V1234.2H744V1238.2H743V1241.9H742V1241.9H741V1236.8H740V1237.0H739V1241.4H738V1237.7H737V1239.4H736V1244.0H735V1245.8H734V1246.3H733V1245.1H732V1236.2H731V1236.5H730V1232.8H729V1227.3H728V1223.3H727V1233.5H726V1233.5H725V1235.8H724V1233.4H723V1241.6H722V1235.5H721V1236.1H720V1241.2H719V1238.8H718V1231.5H717V1235.1H716V1235.8H715V1236.9H714V1237.8H713V1237.2H712V1237.2H711V1231.0H710V1235.7H709V1231.5H708V1229.9H707V1234.0H706V1235.6H705V1235.6H704V1237.3H703V1235.1H702V1235.3H701V1233.2H700V1234.2H699V1237.9H698V1237.9H697V1235.6H696V1239.0H695V1235.2H694V1233.5H693V1237.4H692V1235.1H691V1235.1H690V1231.9H689V1237.1H688V1242.1H687V1237.2H686V1242.6H685V1244.4H684V1246.3H683V1246.3H682V1244.4H681V1244.4H680V1246.2H679V1246.2H678V1251.5H677V1250.7H676V1248.1H675V1247.1H674V1245.1H673V1236.6H672V1238.8H671V1233.4H670V1233.4H669V1237.1H668V1237.1H667V1235.9H666V1239.4H665V1232.4H664V1231.5H663V1231.0H662V1231.0H661V1230.0H660V1232.9H659V1232.9H658V1231.2H657V1227.4H656V1225.4H655V1221.6H654V1221.6H653V1223.9H652V1221.0H651V1218.7H650V1225.1H649V1224.4H648V1225.0H647V1224.3H646V1224.3H645V1227.6H644V1228.3H643V1230.9H642V1228.5H641V1227.1H640V1227.2H639V1233.5H638V1227.2H637V1225.8H636V1223.6H635V1224.7H634V1222.9H633V1221.3H632V1221.9H631V1218.9H630V1219.6H629V1223.9H628V1224.3H627V1221.1H626V1226.7H625V1227.1H624V1227.1H623V1228.8H622V1228.8H621V1223.5H620V1219.6H619V1222.5H618V1221.1H617V1217.0H616V1221.1H615V1221.7H614V1223.1H613V1224.7H612V1223.8H611V1224.7H610V1222.9H609V1222.1H608V1225.9H607V1228.8H606V1226.0H605V1226.0H604V1219.7H603V1211.1H602V1204.5H601V1205.5H600V1207.5H599V1207.5H598V1200.5H597V1196.9H596V1195.0H595V1185.3H594V1184.8H593V1191.5H592V1188.8H591V1193.6H590V1193.0H589V1185.0H588V1186.3H587V1182.2H586V1175.6H585V1175.6H584V1178.5H583V1170.9H582V1159.4H581V1153.2H580V1135.7H579V1158.6H578V1195.1H577V1204.6H576V1208.1H575V1213.7H574V1221.5H573V1221.5H572V1221.4H571V1220.0H570V1221.5H569V1221.9H568V1220.1H567V1217.4H566V1218.4H565V1220.2H564V1214.2H563V1211.9H562V1208.0H561V1204.8H560V1204.8H559V1207.4H558V1204.4H557V1210.9H556V1212.0H555V1212.6H554V1215.6H553V1217.4H552V1218.4H551V1222.2H550V1217.6H549V1214.5H548V1215.6H547V1223.5H546V1215.9H545V1215.2H544V1216.3H543V1211.2H542V1212.1H541V1215.2H540V1215.2H539V1212.8H538V1216.9H537V1211.8H536V1210.9H535V1223.4H534V1234.1H533Z" fill="#000" stroke="none" stroke-width="0" shape-rendering="crispEdges"/>
<line x1="578.9" y1="1107.4" x2="578.9" y2="1064.1" stroke="#b5b5b5" stroke-width="1.1" />
<text x="458.7" y="986.3" font-size="34" font-weight="bold" fill="#231f20" stroke="#231f20" stroke-width="1.2">i</text>
<rect x="575.1" y="1006.9" width="7.9" height="15.8" fill="#eba592" />
<rect x="583.0" y="1006.9" width="268.8" height="15.8" fill="#dc5746" />
<rect x="851.8" y="1006.9" width="58.7" height="15.8" fill="#999999" />
<line x1="575.1" y1="1007.9" x2="575.1" y2="1305.5" stroke="#000" stroke-width="2.2" stroke-dasharray="2.2 6.15"/>
<line x1="582.7" y1="1007.9" x2="582.7" y2="1305.5" stroke="#000" stroke-width="2.2" stroke-dasharray="2.2 6.15"/>
<line x1="851.8" y1="1007.9" x2="851.8" y2="1305.5" stroke="#000" stroke-width="2.2" stroke-dasharray="2.2 6.15"/>
<line x1="533.0" y1="1006.0" x2="533.0" y2="1306.2" stroke="#231f20" stroke-width="1.3" />
<line x1="533.0" y1="1305.5" x2="911.0" y2="1305.5" stroke="#231f20" stroke-width="1.3" />
<text x="493.7" y="1314.1" font-size="23.5" fill="#231f20" textLength="11.0" lengthAdjust="spacingAndGlyphs">–</text>
<text x="505.9" y="1314.1" font-size="23.5" fill="#231f20" textLength="13.9" lengthAdjust="spacingAndGlyphs">2</text>
<line x1="533.0" y1="1255.7" x2="541.5" y2="1255.7" stroke="#231f20" stroke-width="1.3" />
<text x="493.7" y="1264.3" font-size="23.5" fill="#231f20" textLength="11.0" lengthAdjust="spacingAndGlyphs">–</text>
<text x="505.9" y="1264.3" font-size="23.5" fill="#231f20" textLength="13.9" lengthAdjust="spacingAndGlyphs">1</text>
<line x1="533.0" y1="1205.9" x2="541.5" y2="1205.9" stroke="#231f20" stroke-width="1.3" />
<text x="519.8" y="1214.5" font-size="23.5" text-anchor="end" fill="#231f20" textLength="13.9" lengthAdjust="spacingAndGlyphs">0</text>
<line x1="533.0" y1="1156.2" x2="541.5" y2="1156.2" stroke="#231f20" stroke-width="1.3" />
<text x="519.8" y="1164.8" font-size="23.5" text-anchor="end" fill="#231f20" textLength="13.9" lengthAdjust="spacingAndGlyphs">1</text>
<line x1="533.0" y1="1106.4" x2="541.5" y2="1106.4" stroke="#231f20" stroke-width="1.3" />
<text x="519.8" y="1115.0" font-size="23.5" text-anchor="end" fill="#231f20" textLength="13.9" lengthAdjust="spacingAndGlyphs">2</text>
<line x1="533.0" y1="1056.6" x2="541.5" y2="1056.6" stroke="#231f20" stroke-width="1.3" />
<text x="519.8" y="1065.2" font-size="23.5" text-anchor="end" fill="#231f20" textLength="13.9" lengthAdjust="spacingAndGlyphs">3</text>
<line x1="533.0" y1="1006.8" x2="541.5" y2="1006.8" stroke="#231f20" stroke-width="1.3" />
<text x="519.8" y="1015.4" font-size="23.5" text-anchor="end" fill="#231f20" textLength="13.9" lengthAdjust="spacingAndGlyphs">4</text>
<line x1="578.8" y1="1305.5" x2="578.8" y2="1297.5" stroke="#231f20" stroke-width="1.3" />
<text x="578.8" y="1334.9" font-size="23.5" text-anchor="middle" fill="#231f20" textLength="13.9" lengthAdjust="spacingAndGlyphs">0</text>
<line x1="715.1" y1="1305.5" x2="715.1" y2="1297.5" stroke="#231f20" stroke-width="1.3" />
<text x="715.1" y="1334.9" font-size="23.5" text-anchor="middle" fill="#231f20" textLength="27.8" lengthAdjust="spacingAndGlyphs">15</text>
<line x1="851.7" y1="1305.5" x2="851.7" y2="1297.5" stroke="#231f20" stroke-width="1.3" />
<text x="851.7" y="1334.9" font-size="23.5" text-anchor="middle" fill="#231f20" textLength="27.8" lengthAdjust="spacingAndGlyphs">30</text>
<line x1="574.9" y1="1305.5" x2="574.9" y2="1297.5" stroke="#231f20" stroke-width="1.2" />
<line x1="582.9" y1="1305.5" x2="582.9" y2="1297.5" stroke="#231f20" stroke-width="1.2" />
<text transform="translate(478.0 1156.4) rotate(-90)" font-size="23.5" text-anchor="middle" fill="#231f20" textLength="83.0" lengthAdjust="spacingAndGlyphs">z-score</text>
<text x="721.5" y="1374.0" font-size="23.5" text-anchor="middle" fill="#231f20" textLength="114.8" lengthAdjust="spacingAndGlyphs">Time (min)</text>
<text x="668.1" y="996.1" font-size="23.5" fill="#de5846" textLength="98.0" lengthAdjust="spacingAndGlyphs">Restraint</text>
<text x="837.8" y="996.1" font-size="23.5" fill="#231f20" textLength="87.2" lengthAdjust="spacingAndGlyphs">Release</text>
<path d="M536 1578.9H537V1575.7H538V1565.4H539V1564.1H540V1561.5H541V1552.9H542V1557.4H543V1561.0H544V1554.2H545V1554.5H546V1554.0H547V1554.5H548V1553.6H549V1555.8H550V1553.0H551V1549.9H552V1550.4H553V1549.7H554V1549.1H555V1549.8H556V1553.2H557V1548.8H558V1550.2H559V1549.6H560V1547.4H561V1547.1H562V1548.9H563V1546.6H564V1556.0H565V1557.9H566V1551.7H567V1533.5H568V1526.7H569V1538.0H570V1549.6H571V1543.4H572V1543.4H573V1546.2H574V1545.0H575V1543.7H576V1546.6H577V1544.4H578V1542.9H579V1539.7H580V1548.1H581V1558.0H582V1555.0H583V1554.7H584V1531.6H585V1528.7H586V1539.6H587V1581.3H588V1609.1H589V1628.1H590V1638.6H591V1634.1H592V1637.6H593V1642.9H594V1646.0H595V1645.7H596V1646.8H597V1640.4H598V1638.8H599V1631.6H600V1630.7H601V1629.8H602V1632.4H603V1627.3H604V1627.1H605V1636.8H606V1629.0H607V1631.5H608V1634.1H609V1625.1H610V1623.7H611V1613.0H612V1631.2H613V1628.0H614V1628.2H615V1625.0H616V1625.6H617V1626.1H618V1606.0H619V1600.5H620V1602.3H621V1611.5H622V1616.1H623V1621.2H624V1617.4H625V1616.7H626V1621.1H627V1617.0H628V1603.8H629V1618.1H630V1613.1H631V1619.3H632V1625.7H633V1612.5H634V1627.3H635V1622.6H636V1619.0H637V1619.0H638V1608.5H639V1616.5H640V1608.4H641V1603.4H642V1600.4H643V1602.5H644V1618.2H645V1616.4H646V1622.5H647V1627.0H648V1613.5H649V1627.2H650V1618.4H651V1619.9H652V1620.7H653V1623.4H654V1622.0H655V1614.9H656V1607.4H657V1614.9H658V1615.1H659V1604.1H660V1609.2H661V1607.5H662V1612.5H663V1595.7H664V1605.2H665V1596.6H666V1594.8H667V1607.1H668V1613.2H669V1607.6H670V1604.4H671V1609.1H672V1618.9H673V1607.8H674V1602.0H675V1605.3H676V1609.5H677V1606.4H678V1599.4H679V1612.0H680V1612.8H681V1607.0H682V1606.8H683V1603.7H684V1605.5H685V1609.4H686V1618.1H687V1622.7H688V1629.0H689V1623.5H690V1622.1H691V1616.2H692V1609.3H693V1619.8H694V1613.4H695V1617.5H696V1613.0H697V1609.7H698V1616.0H699V1613.3H700V1627.1H701V1608.0H702V1626.7H703V1619.8H704V1622.3H705V1617.4H706V1621.7H707V1618.9H708V1603.9H709V1606.9H710V1614.8H711V1609.9H712V1614.8H713V1608.4H714V1612.5H715V1620.8H716V1618.1H717V1619.3H718V1604.6H719V1588.2H720V1586.9H721V1591.2H722V1601.1H723V1616.2H724V1613.9H725V1621.5H726V1611.6H727V1613.1H728V1608.7H729V1622.6H730V1621.1H731V1616.5H732V1616.5H733V1600.7H734V1611.7H735V1610.1H736V1598.5H737V1610.0H738V1606.9H739V1615.5H740V1615.3H741V1620.0H742V1617.2H743V1615.7H744V1614.4H745V1613.8H746V1625.6H747V1605.9H748V1596.5H749V1619.0H750V1609.0H751V1593.7H752V1592.8H753V1600.2H754V1605.3H755V1614.2H756V1617.4H757V1602.4H758V1626.0H759V1621.7H760V1620.7H761V1613.9H762V1623.6H763V1620.2H764V1620.6H765V1622.8H766V1630.0H767V1640.6H768V1626.5H769V1626.6H770V1639.3H771V1643.5H772V1639.7H773V1645.0H774V1636.8H775V1625.7H776V1630.2H777V1644.6H778V1629.7H779V1634.7H780V1631.0H781V1640.4H782V1641.4H783V1633.2H784V1634.8H785V1633.1H786V1638.7H787V1625.0H788V1631.2H789V1628.9H790V1631.0H791V1624.4H792V1606.9H793V1619.9H794V1628.1H795V1615.4H796V1622.2H797V1610.9H798V1628.3H799V1624.5H800V1620.7H801V1624.9H802V1625.6H803V1623.0H804V1621.1H805V1631.9H806V1632.1H807V1631.5H808V1621.9H809V1633.5H810V1625.6H811V1623.3H812V1640.0H813V1628.3H814V1632.9H815V1637.0H816V1640.8H817V1645.4H818V1645.3H819V1633.1H820V1635.9H821V1630.0H822V1628.3H823V1637.1H824V1629.8H825V1627.0H826V1633.2H827V1629.5H828V1634.0H829V1633.5H830V1623.0H831V1640.4H832V1639.7H833V1636.9H834V1642.0H835V1638.2H836V1637.5H837V1633.9H838V1633.9H839V1638.7H840V1634.4H841V1627.9H842V1636.5H843V1637.0H844V1633.1H845V1635.4H846V1630.9H847V1626.6H848V1622.9H849V1630.0H850V1633.7H851V1621.2H852V1621.4H853V1599.7H854V1577.0H855V1561.8H856V1558.5H857V1564.0H858V1575.4H859V1567.8H860V1571.1H861V1581.1H862V1576.7H863V1579.0H864V1579.6H865V1584.8H866V1574.9H867V1589.4H868V1588.6H869V1590.1H870V1579.6H871V1587.3H872V1586.0H873V1586.7H874V1600.9H875V1605.4H876V1582.1H877V1599.8H878V1611.0H879V1613.2H880V1614.0H881V1610.6H882V1608.3H883V1594.0H884V1601.8H885V1607.3H886V1597.1H887V1588.9H888V1598.5H889V1604.1H890V1609.7H891V1612.8H892V1611.9H893V1602.0H894V1621.4H895V1619.7H896V1624.3H897V1650.7H896V1652.7H895V1655.6H894V1642.8H893V1644.2H892V1641.3H891V1634.1H890V1642.1H889V1632.5H888V1633.1H887V1622.9H886V1635.5H885V1630.7H884V1632.6H883V1635.6H882V1637.2H881V1633.7H880V1646.5H879V1639.6H878V1630.2H877V1640.5H876V1630.8H875V1626.5H874V1624.4H873V1624.1H872V1617.5H871V1612.5H870V1616.9H869V1614.2H868V1621.7H867V1604.1H866V1607.3H865V1607.0H864V1601.3H863V1609.1H862V1609.6H861V1622.6H860V1594.2H859V1608.9H858V1597.0H857V1587.0H856V1598.8H855V1623.6H854V1660.1H853V1662.0H852V1670.6H851V1673.9H850V1671.9H849V1678.8H848V1677.2H847V1669.0H846V1665.7H845V1674.7H844V1682.4H843V1689.4H842V1679.6H841V1682.3H840V1687.6H839V1677.8H838V1673.0H837V1673.1H836V1676.0H835V1693.9H834V1680.0H833V1676.2H832V1678.8H831V1677.8H830V1689.8H829V1678.0H828V1675.5H827V1682.2H826V1693.2H825V1680.1H824V1688.1H823V1686.7H822V1675.9H821V1674.7H820V1677.6H819V1681.5H818V1683.2H817V1677.4H816V1677.7H815V1673.4H814V1677.2H813V1691.2H812V1669.2H811V1670.6H810V1676.5H809V1671.2H808V1689.6H807V1675.2H806V1667.3H805V1675.5H804V1672.8H803V1672.1H802V1680.7H801V1675.1H800V1668.5H799V1667.9H798V1659.9H797V1660.4H796V1667.0H795V1671.8H794V1669.1H793V1674.3H792V1685.6H791V1680.0H790V1683.6H789V1672.9H788V1674.6H787V1683.3H786V1673.0H785V1678.2H784V1678.9H783V1681.8H782V1678.3H781V1679.7H780V1688.0H779V1695.5H778V1680.6H777V1682.6H776V1689.6H775V1685.3H774V1695.5H773V1684.4H772V1683.2H771V1692.6H770V1683.2H769V1688.7H768V1679.8H767V1677.2H766V1683.6H765V1663.9H764V1678.9H763V1668.5H762V1670.2H761V1660.5H760V1662.2H759V1664.1H758V1657.1H757V1658.1H756V1654.5H755V1656.5H754V1645.0H753V1631.4H752V1649.7H751V1654.9H750V1654.8H749V1651.9H748V1653.9H747V1663.8H746V1655.1H745V1649.3H744V1655.9H743V1665.3H742V1659.6H741V1648.0H740V1653.0H739V1653.1H738V1644.9H737V1647.4H736V1648.9H735V1649.7H734V1653.8H733V1661.5H732V1653.7H731V1658.4H730V1655.9H729V1648.2H728V1660.3H727V1655.4H726V1666.1H725V1659.8H724V1652.4H723V1638.6H722V1628.8H721V1639.1H720V1644.7H719V1642.2H718V1654.5H717V1657.4H716V1649.7H715V1653.0H714V1645.5H713V1670.5H712V1651.8H711V1645.3H710V1658.1H709V1657.6H708V1656.6H707V1665.5H706V1657.8H705V1660.6H704V1659.0H703V1660.0H702V1664.3H701V1654.5H700V1653.9H699V1643.3H698V1660.0H697V1655.4H696V1650.9H695V1652.3H694V1651.2H693V1654.1H692V1651.4H691V1658.9H690V1657.6H689V1659.4H688V1658.1H687V1667.1H686V1651.1H685V1647.0H684V1649.7H683V1643.2H682V1640.2H681V1643.0H680V1652.0H679V1638.9H678V1644.8H677V1646.1H676V1650.7H675V1656.2H674V1647.2H673V1648.1H672V1646.3H671V1645.0H670V1643.6H669V1660.6H668V1644.1H667V1647.3H666V1637.6H665V1641.5H664V1653.8H663V1648.8H662V1645.6H661V1653.0H660V1647.6H659V1654.0H658V1656.6H657V1653.2H656V1659.8H655V1662.2H654V1659.9H653V1673.1H652V1650.1H651V1660.2H650V1659.7H649V1653.7H648V1656.3H647V1658.2H646V1661.4H645V1647.3H644V1658.8H643V1649.3H642V1653.1H641V1645.5H640V1653.3H639V1650.4H638V1650.1H637V1657.7H636V1658.6H635V1660.8H634V1652.2H633V1650.5H632V1661.6H631V1648.5H630V1647.7H629V1648.5H628V1654.2H627V1653.9H626V1655.3H625V1666.2H624V1655.0H623V1655.3H622V1658.3H621V1651.6H620V1640.8H619V1650.9H618V1667.4H617V1660.4H616V1664.7H615V1665.0H614V1670.0H613V1664.2H612V1658.1H611V1664.2H610V1659.3H609V1663.5H608V1669.9H607V1663.1H606V1662.1H605V1667.2H604V1676.7H603V1684.2H602V1672.3H601V1669.6H600V1668.2H599V1675.5H598V1683.6H597V1685.3H596V1674.3H595V1680.3H594V1678.2H593V1672.6H592V1661.9H591V1674.2H590V1669.7H589V1668.7H588V1648.9H587V1594.9H586V1549.8H585V1564.1H584V1572.7H583V1576.8H582V1576.6H581V1574.1H580V1570.4H579V1569.0H578V1563.6H577V1559.1H576V1564.2H575V1561.9H574V1560.5H573V1570.6H572V1569.9H571V1568.8H570V1563.0H569V1550.6H568V1562.4H567V1575.2H566V1580.0H565V1569.8H564V1568.6H563V1571.4H562V1571.6H561V1567.7H560V1567.4H559V1570.5H558V1574.6H557V1572.1H556V1570.4H555V1570.1H554V1564.2H553V1572.1H552V1571.6H551V1571.7H550V1576.4H549V1573.5H548V1574.5H547V1574.5H546V1572.5H545V1575.4H544V1575.8H543V1573.3H542V1578.8H541V1581.0H540V1579.7H539V1584.3H538V1591.5H537V1592.2H536Z" fill="#999999" stroke="none" stroke-width="0" shape-rendering="crispEdges"/>
<path d="M536 1582.8H537V1579.1H538V1573.4H539V1569.4H540V1565.1H541V1561.7H542V1560.4H543V1563.6H544V1558.3H545V1558.3H546V1560.9H547V1558.6H548V1558.4H549V1558.4H550V1557.2H551V1557.2H552V1557.7H553V1553.2H554V1551.8H555V1553.3H556V1557.8H557V1556.4H558V1554.0H559V1554.0H560V1555.8H561V1555.6H562V1552.1H563V1553.9H564V1559.5H565V1562.1H566V1558.8H567V1539.3H568V1538.4H569V1542.9H570V1556.2H571V1552.2H572V1552.0H573V1552.0H574V1549.5H575V1546.9H576V1550.7H577V1547.4H578V1547.4H579V1549.2H580V1556.3H581V1560.8H582V1560.8H583V1559.1H584V1544.8H585V1536.1H586V1544.3H587V1589.3H588V1636.5H589V1636.3H590V1647.3H591V1643.9H592V1645.9H593V1651.7H594V1655.1H595V1657.7H596V1658.6H597V1651.0H598V1648.7H599V1644.3H600V1641.1H601V1641.1H602V1645.7H603V1642.1H604V1641.9H605V1645.3H606V1638.0H607V1642.1H608V1642.6H609V1636.8H610V1635.1H611V1632.3H612V1643.1H613V1639.3H614V1639.3H615V1641.3H616V1637.1H617V1635.1H618V1624.4H619V1609.6H620V1612.5H621V1626.2H622V1628.3H623V1629.7H624V1629.8H625V1632.4H626V1631.0H627V1629.7H628V1621.1H629V1625.7H630V1625.7H631V1631.3H632V1634.1H633V1630.4H634V1637.8H635V1634.4H636V1637.2H637V1635.7H638V1625.4H639V1624.8H640V1621.1H641V1621.3H642V1624.3H643V1625.7H644V1633.2H645V1628.3H646V1638.6H647V1634.7H648V1633.9H649V1635.8H650V1634.0H651V1631.5H652V1637.8H653V1634.2H654V1631.1H655V1631.1H656V1638.0H657V1631.9H658V1624.5H659V1629.1H660V1618.2H661V1623.0H662V1624.3H663V1614.7H664V1614.7H665V1610.3H666V1615.1H667V1621.9H668V1621.9H669V1623.0H670V1621.6H671V1622.5H672V1627.9H673V1624.0H674V1615.1H675V1620.0H676V1617.2H677V1617.3H678V1619.1H679V1620.1H680V1622.2H681V1623.4H682V1617.6H683V1619.6H684V1618.5H685V1627.7H686V1630.8H687V1630.7H688V1637.5H689V1634.8H690V1633.8H691V1632.1H692V1628.9H693V1628.9H694V1624.2H695V1626.7H696V1626.2H697V1626.2H698V1627.5H699V1626.5H700V1637.4H701V1637.8H702V1635.6H703V1634.5H704V1634.5H705V1626.3H706V1629.8H707V1632.9H708V1628.0H709V1616.8H710V1628.8H711V1628.0H712V1626.1H713V1622.9H714V1628.5H715V1629.7H716V1631.0H717V1629.1H718V1613.4H719V1613.4H720V1602.4H721V1602.4H722V1616.1H723V1624.9H724V1623.6H725V1629.4H726V1629.4H727V1624.8H728V1624.8H729V1634.8H730V1632.0H731V1628.4H732V1630.7H733V1623.5H734V1630.8H735V1623.6H736V1618.3H737V1622.6H738V1622.3H739V1625.6H740V1625.2H741V1630.1H742V1631.1H743V1625.0H744V1628.2H745V1626.2H746V1633.7H747V1621.3H748V1628.2H749V1628.2H750V1618.9H751V1603.5H752V1609.2H753V1615.7H754V1626.9H755V1623.1H756V1630.3H757V1633.1H758V1635.2H759V1635.2H760V1633.3H761V1636.9H762V1635.6H763V1633.7H764V1633.7H765V1643.0H766V1643.8H767V1650.3H768V1652.6H769V1647.9H770V1647.9H771V1653.2H772V1648.6H773V1660.1H774V1652.5H775V1650.6H776V1650.6H777V1655.8H778V1648.2H779V1648.8H780V1653.0H781V1649.9H782V1650.1H783V1644.1H784V1646.7H785V1646.7H786V1651.3H787V1640.5H788V1640.5H789V1644.2H790V1641.8H791V1641.8H792V1630.7H793V1633.7H794V1638.1H795V1629.4H796V1633.4H797V1632.9H798V1637.3H799V1635.0H800V1635.0H801V1632.5H802V1634.7H803V1640.6H804V1639.7H805V1639.8H806V1642.3H807V1639.1H808V1641.9H809V1646.7H810V1645.0H811V1642.2H812V1648.9H813V1638.6H814V1649.1H815V1646.1H816V1652.7H817V1653.2H818V1653.3H819V1644.4H820V1654.3H821V1642.4H822V1642.4H823V1645.3H824V1644.5H825V1644.5H826V1645.3H827V1645.3H828V1642.5H829V1642.6H830V1646.4H831V1649.9H832V1650.4H833V1646.6H834V1653.3H835V1649.3H836V1649.9H837V1642.8H838V1645.0H839V1650.5H840V1645.8H841V1647.0H842V1646.5H843V1646.5H844V1643.3H845V1644.6H846V1639.0H847V1640.9H848V1638.2H849V1638.3H850V1645.2H851V1634.3H852V1631.7H853V1611.9H854V1589.1H855V1571.3H856V1565.6H857V1569.7H858V1580.0H859V1574.1H860V1577.7H861V1586.1H862V1589.2H863V1584.1H864V1591.4H865V1590.1H866V1588.7H867V1596.1H868V1595.0H869V1599.3H870V1591.6H871V1596.2H872V1592.7H873V1592.7H874V1606.7H875V1610.5H876V1607.5H877V1607.5H878V1615.7H879V1621.0H880V1621.1H881V1617.8H882V1615.4H883V1610.2H884V1609.4H885V1614.7H886V1606.7H887V1605.0H888V1610.3H889V1614.1H890V1618.5H891V1618.0H892V1620.3H893V1620.3H894V1629.7H895V1628.6H896V1629.6H897V1642.7H896V1646.0H895V1637.0H894V1636.0H893V1635.2H892V1635.2H891V1627.7H890V1629.3H889V1626.1H888V1626.1H887V1616.3H886V1624.3H885V1624.3H884V1626.1H883V1621.2H882V1628.9H881V1624.9H880V1637.6H879V1628.2H878V1617.3H877V1623.9H876V1623.9H875V1620.1H874V1616.0H873V1609.8H872V1611.6H871V1606.6H870V1608.6H869V1608.3H868V1612.5H867V1597.1H866V1598.0H865V1600.1H864V1595.1H863V1595.6H862V1598.0H861V1594.5H860V1588.6H859V1589.4H858V1581.0H857V1576.0H856V1590.1H855V1612.9H854V1637.6H853V1642.8H852V1646.6H851V1655.3H850V1651.7H849V1659.5H848V1655.9H847V1652.5H846V1650.2H845V1655.7H844V1666.0H843V1662.8H842V1662.7H841V1663.8H840V1663.8H839V1662.5H838V1657.3H837V1657.8H836V1659.6H835V1668.9H834V1662.5H833V1658.7H832V1660.1H831V1661.8H830V1662.5H829V1654.5H828V1654.4H827V1661.3H826V1667.5H825V1660.1H824V1659.2H823V1660.7H822V1660.9H821V1659.4H820V1656.7H819V1661.1H818V1663.0H817V1660.9H816V1656.8H815V1656.9H814V1657.8H813V1654.3H812V1652.3H811V1654.2H810V1655.6H809V1655.1H808V1653.1H807V1653.1H806V1650.9H805V1649.6H804V1654.8H803V1648.7H802V1653.5H801V1653.5H800V1648.6H799V1644.6H798V1644.6H797V1638.8H796V1647.4H795V1647.4H794V1648.3H793V1649.7H792V1655.4H791V1656.7H790V1663.5H789V1656.1H788V1654.8H787V1657.5H786V1657.0H785V1658.9H784V1655.5H783V1659.0H782V1654.2H781V1663.8H780V1667.1H779V1675.4H778V1664.8H777V1659.0H776V1662.4H775V1669.8H774V1673.7H773V1665.0H772V1665.0H771V1670.6H770V1664.5H769V1664.2H768V1659.7H767V1662.0H766V1654.2H765V1647.5H764V1654.0H763V1650.1H762V1652.5H761V1645.4H760V1645.4H759V1646.9H758V1646.1H757V1646.1H756V1643.9H755V1643.9H754V1632.0H753V1621.5H752V1630.1H751V1640.1H750V1640.1H749V1637.3H748V1640.5H747V1640.5H746V1639.9H745V1639.7H744V1641.3H743V1651.0H742V1640.6H741V1638.9H740V1638.6H739V1636.2H738V1633.6H737V1637.1H736V1638.3H735V1638.3H734V1644.6H733V1645.8H732V1644.0H731V1644.0H730V1641.2H729V1636.8H728V1646.1H727V1635.7H726V1640.4H725V1648.8H724V1636.7H723V1628.2H722V1617.1H721V1629.9H720V1628.0H719V1632.7H718V1638.0H717V1642.5H716V1636.2H715V1638.1H714V1632.3H713V1643.4H712V1639.9H711V1635.5H710V1646.8H709V1645.5H708V1645.5H707V1648.5H706V1645.5H705V1645.5H704V1648.5H703V1648.5H702V1646.2H701V1645.2H700V1640.0H699V1634.3H698V1647.8H697V1640.4H696V1640.4H695V1639.0H694V1639.9H693V1640.5H692V1640.2H691V1647.7H690V1648.2H689V1645.6H688V1647.1H687V1647.1H686V1636.3H685V1632.3H684V1633.5H683V1633.5H682V1630.3H681V1633.4H680V1633.4H679V1628.0H678V1628.0H677V1625.9H676V1631.2H675V1635.1H674V1630.3H673V1638.0H672V1635.2H671V1635.2H670V1633.2H669V1643.6H668V1635.1H667V1635.1H666V1626.5H665V1626.5H664V1633.3H663V1636.5H662V1636.1H661V1636.1H660V1636.4H659V1645.0H658V1645.0H657V1641.4H656V1646.8H655V1646.8H654V1644.0H653V1651.0H652V1639.1H651V1645.8H650V1645.8H649V1643.4H648V1646.0H647V1646.9H646V1641.8H645V1637.5H644V1637.2H643V1634.8H642V1627.8H641V1633.2H640V1637.1H639V1639.1H638V1641.0H637V1647.9H636V1646.2H635V1645.7H634V1640.6H633V1641.1H632V1644.4H631V1635.4H630V1637.3H629V1638.5H628V1638.7H627V1641.5H626V1643.6H625V1643.6H624V1642.8H623V1639.9H622V1642.9H621V1638.7H620V1630.4H619V1641.0H618V1652.6H617V1647.2H616V1653.0H615V1651.8H614V1657.0H613V1647.8H612V1644.1H611V1651.0H610V1649.1H609V1652.9H608V1652.9H607V1648.8H606V1652.8H605V1656.4H604V1667.0H603V1667.0H602V1656.1H601V1656.1H600V1653.5H599V1659.1H598V1665.7H597V1667.6H596V1661.6H595V1667.2H594V1662.3H593V1662.9H592V1652.3H591V1660.1H590V1657.5H589V1648.5H588V1637.5H587V1590.3H586V1545.8H585V1560.1H584V1568.9H583V1570.5H582V1569.1H581V1569.1H580V1566.2H579V1558.3H578V1556.3H577V1555.9H576V1555.9H575V1557.7H574V1557.7H573V1562.3H572V1561.0H571V1562.3H570V1559.3H569V1547.3H568V1559.8H567V1571.6H566V1571.4H565V1564.2H564V1564.2H563V1564.3H562V1564.0H561V1563.4H560V1562.5H559V1565.6H558V1563.9H557V1564.8H556V1562.1H555V1559.6H554V1560.6H553V1569.1H552V1566.0H551V1567.1H550V1571.1H549V1569.2H548V1567.9H547V1567.8H546V1567.8H545V1570.9H544V1569.7H543V1569.5H542V1575.4H541V1573.2H540V1576.5H539V1580.9H538V1605.9H537V1627.4H536Z" fill="#000" stroke="none" stroke-width="0" shape-rendering="crispEdges"/>
<text x="459.8" y="1435.2" font-size="34" font-weight="bold" fill="#231f20" stroke="#231f20" stroke-width="1.2">m</text>
<rect x="577.9" y="1459.1" width="8.4" height="15.4" fill="#eba592" />
<rect x="586.3" y="1459.1" width="265.9" height="15.4" fill="#dc5746" />
<rect x="852.2" y="1459.1" width="57.7" height="15.4" fill="#999999" />
<line x1="577.9" y1="1460.1" x2="577.9" y2="1753.0" stroke="#000" stroke-width="2.2" stroke-dasharray="2.2 6.15"/>
<line x1="585.7" y1="1460.1" x2="585.7" y2="1753.0" stroke="#000" stroke-width="2.2" stroke-dasharray="2.2 6.15"/>
<line x1="852.2" y1="1460.1" x2="852.2" y2="1753.0" stroke="#000" stroke-width="2.2" stroke-dasharray="2.2 6.15"/>
<line x1="536.2" y1="1466.8" x2="536.2" y2="1753.8" stroke="#231f20" stroke-width="1.3" />
<line x1="536.2" y1="1753.0" x2="910.4" y2="1753.0" stroke="#231f20" stroke-width="1.3" />
<text x="498.1" y="1761.6" font-size="23.5" fill="#231f20" textLength="11.0" lengthAdjust="spacingAndGlyphs">–</text>
<text x="510.3" y="1761.6" font-size="23.5" fill="#231f20" textLength="13.9" lengthAdjust="spacingAndGlyphs">3</text>
<line x1="536.2" y1="1695.9" x2="544.7" y2="1695.9" stroke="#231f20" stroke-width="1.3" />
<text x="498.1" y="1704.5" font-size="23.5" fill="#231f20" textLength="11.0" lengthAdjust="spacingAndGlyphs">–</text>
<text x="510.3" y="1704.5" font-size="23.5" fill="#231f20" textLength="13.9" lengthAdjust="spacingAndGlyphs">2</text>
<line x1="536.2" y1="1638.8" x2="544.7" y2="1638.8" stroke="#231f20" stroke-width="1.3" />
<text x="498.1" y="1647.4" font-size="23.5" fill="#231f20" textLength="11.0" lengthAdjust="spacingAndGlyphs">–</text>
<text x="510.3" y="1647.4" font-size="23.5" fill="#231f20" textLength="13.9" lengthAdjust="spacingAndGlyphs">1</text>
<line x1="536.2" y1="1581.7" x2="544.7" y2="1581.7" stroke="#231f20" stroke-width="1.3" />
<text x="524.2" y="1590.3" font-size="23.5" text-anchor="end" fill="#231f20" textLength="13.9" lengthAdjust="spacingAndGlyphs">0</text>
<line x1="536.2" y1="1524.6" x2="544.7" y2="1524.6" stroke="#231f20" stroke-width="1.3" />
<text x="524.2" y="1533.2" font-size="23.5" text-anchor="end" fill="#231f20" textLength="13.9" lengthAdjust="spacingAndGlyphs">1</text>
<line x1="536.2" y1="1467.5" x2="544.7" y2="1467.5" stroke="#231f20" stroke-width="1.3" />
<text x="524.2" y="1476.1" font-size="23.5" text-anchor="end" fill="#231f20" textLength="13.9" lengthAdjust="spacingAndGlyphs">2</text>
<line x1="580.7" y1="1753.0" x2="580.7" y2="1745.0" stroke="#231f20" stroke-width="1.3" />
<text x="580.7" y="1781.9" font-size="23.5" text-anchor="middle" fill="#231f20" textLength="13.9" lengthAdjust="spacingAndGlyphs">0</text>
<line x1="716.5" y1="1753.0" x2="716.5" y2="1745.0" stroke="#231f20" stroke-width="1.3" />
<text x="716.5" y="1781.9" font-size="23.5" text-anchor="middle" fill="#231f20" textLength="27.8" lengthAdjust="spacingAndGlyphs">15</text>
<line x1="852.2" y1="1753.0" x2="852.2" y2="1745.0" stroke="#231f20" stroke-width="1.3" />
<text x="852.2" y="1781.9" font-size="23.5" text-anchor="middle" fill="#231f20" textLength="27.8" lengthAdjust="spacingAndGlyphs">30</text>
<line x1="578.0" y1="1753.0" x2="578.0" y2="1745.0" stroke="#231f20" stroke-width="1.2" />
<line x1="585.9" y1="1753.0" x2="585.9" y2="1745.0" stroke="#231f20" stroke-width="1.2" />
<text transform="translate(478.0 1610.7) rotate(-90)" font-size="23.5" text-anchor="middle" fill="#231f20" textLength="83.0" lengthAdjust="spacingAndGlyphs">z-score</text>
<text x="722.8" y="1821.9" font-size="23.5" text-anchor="middle" fill="#231f20" textLength="113.4" lengthAdjust="spacingAndGlyphs">Time (min)</text>
<text x="670.3" y="1445.4" font-size="23.5" fill="#de5846" textLength="98.0" lengthAdjust="spacingAndGlyphs">Restraint</text>
<text x="837.7" y="1445.4" font-size="23.5" fill="#231f20" textLength="87.3" lengthAdjust="spacingAndGlyphs">Release</text>
<!-- p_jn.py -->
<text x="967.7" y="986.0" font-size="34" font-weight="bold" fill="#231f20" stroke="#231f20" stroke-width="1.2">j</text>
<path d="M1039.5 1169.5 L1046.8 1184.6 L1054.2 1195.6 L1061.6 1191.5 L1069.0 1168.7 L1076.3 1173.7 L1083.7 1192.9 L1091.1 1183.3 L1098.5 1172.8 L1105.8 1164.6 L1113.2 1177.8 L1120.6 1188.2 L1128.0 1160.8 L1135.4 1169.5 L1142.7 1178.3 L1150.1 1171.7 L1157.5 1162.7 L1164.9 1165.4 L1172.2 1160.5 L1179.6 1160.5 L1187.0 1162.7 L1194.4 1139.3 L1201.7 1055.1 L1209.1 1046.6 L1216.5 1055.7 L1223.9 1086.4 L1231.2 1081.7 L1238.6 1114.7 L1246.0 1116.0 L1253.4 1108.6 L1260.8 1105.0 L1268.1 1069.9 L1275.5 1100.4 L1282.9 1090.5 L1290.3 1109.2 L1297.6 1127.0 L1305.0 1103.7 L1312.4 1143.5 L1319.8 1123.4 L1327.1 1133.3 L1334.5 1129.7 L1341.9 1131.1 L1349.3 1150.3 L1356.6 1133.3 L1364.0 1153.1 L1371.4 1150.9 L1378.8 1144.8 L1386.2 1138.5 L1393.5 1147.6 L1400.9 1172.3 L1408.3 1142.9 L1408.3 1177.8 L1400.9 1195.6 L1393.5 1174.5 L1386.2 1178.3 L1378.8 1168.2 L1371.4 1186.6 L1364.0 1176.4 L1356.6 1163.5 L1349.3 1180.0 L1341.9 1156.4 L1334.5 1161.3 L1327.1 1166.0 L1319.8 1164.0 L1312.4 1189.3 L1305.0 1145.4 L1297.6 1166.8 L1290.3 1157.2 L1282.9 1140.7 L1275.5 1157.7 L1268.1 1127.0 L1260.8 1146.2 L1253.4 1153.1 L1246.0 1159.4 L1238.6 1166.0 L1231.2 1128.4 L1223.9 1141.3 L1216.5 1108.6 L1209.1 1108.6 L1201.7 1132.5 L1194.4 1162.7 L1187.0 1180.5 L1179.6 1203.0 L1172.2 1197.8 L1164.9 1195.1 L1157.5 1200.3 L1150.1 1199.2 L1142.7 1212.6 L1135.4 1212.9 L1128.0 1214.0 L1120.6 1221.7 L1113.2 1209.3 L1105.8 1196.2 L1098.5 1206.6 L1091.1 1224.4 L1083.7 1234.0 L1076.3 1201.1 L1069.0 1199.7 L1061.6 1210.7 L1054.2 1223.9 L1046.8 1202.5 L1039.5 1201.1Z" fill="#979797" stroke="none" stroke-width="0" />
<path d="M1039.5 1185.5 L1046.8 1194.2 L1054.2 1210.2 L1061.6 1201.1 L1069.0 1184.6 L1076.3 1188.2 L1083.7 1214.0 L1091.1 1203.8 L1098.5 1187.4 L1105.8 1180.0 L1113.2 1192.3 L1120.6 1204.7 L1128.0 1187.4 L1135.4 1190.7 L1142.7 1195.6 L1150.1 1185.5 L1157.5 1181.9 L1164.9 1180.5 L1172.2 1179.7 L1179.6 1181.9 L1187.0 1169.5 L1194.4 1151.7 L1201.7 1093.2 L1209.1 1077.6 L1216.5 1082.5 L1223.9 1114.1 L1231.2 1105.0 L1238.6 1139.9 L1246.0 1137.4 L1253.4 1130.6 L1260.8 1125.6 L1268.1 1098.2 L1275.5 1130.3 L1282.9 1115.2 L1290.3 1132.5 L1297.6 1149.0 L1305.0 1124.8 L1312.4 1168.7 L1319.8 1143.5 L1327.1 1149.5 L1334.5 1145.7 L1341.9 1144.0 L1349.3 1164.9 L1356.6 1148.1 L1364.0 1164.0 L1371.4 1168.2 L1378.8 1155.3 L1386.2 1158.0 L1393.5 1161.3 L1400.9 1185.5 L1408.3 1159.1" fill="none" stroke="#000" stroke-width="1.6" stroke-linejoin="round"/>
<line x1="1039.5" y1="1013.1" x2="1039.5" y2="1304.8" stroke="#231f20" stroke-width="1.3" />
<line x1="1039.5" y1="1304.0" x2="1408.3" y2="1304.0" stroke="#231f20" stroke-width="1.3" />
<text x="999.4" y="1312.6" font-size="23.5" fill="#231f20" textLength="11.0" lengthAdjust="spacingAndGlyphs">–</text>
<text x="1011.6" y="1312.6" font-size="23.5" fill="#231f20" textLength="13.9" lengthAdjust="spacingAndGlyphs">2</text>
<line x1="1039.5" y1="1255.7" x2="1048.0" y2="1255.7" stroke="#231f20" stroke-width="1.3" />
<text x="999.4" y="1264.2" font-size="23.5" fill="#231f20" textLength="11.0" lengthAdjust="spacingAndGlyphs">–</text>
<text x="1011.6" y="1264.2" font-size="23.5" fill="#231f20" textLength="13.9" lengthAdjust="spacingAndGlyphs">1</text>
<line x1="1039.5" y1="1207.3" x2="1048.0" y2="1207.3" stroke="#231f20" stroke-width="1.3" />
<text x="1025.5" y="1215.9" font-size="23.5" text-anchor="end" fill="#231f20" textLength="13.9" lengthAdjust="spacingAndGlyphs">0</text>
<line x1="1039.5" y1="1159.0" x2="1048.0" y2="1159.0" stroke="#231f20" stroke-width="1.3" />
<text x="1025.5" y="1167.5" font-size="23.5" text-anchor="end" fill="#231f20" textLength="13.9" lengthAdjust="spacingAndGlyphs">1</text>
<line x1="1039.5" y1="1110.6" x2="1048.0" y2="1110.6" stroke="#231f20" stroke-width="1.3" />
<text x="1025.5" y="1119.2" font-size="23.5" text-anchor="end" fill="#231f20" textLength="13.9" lengthAdjust="spacingAndGlyphs">2</text>
<line x1="1039.5" y1="1062.2" x2="1048.0" y2="1062.2" stroke="#231f20" stroke-width="1.3" />
<text x="1025.5" y="1070.8" font-size="23.5" text-anchor="end" fill="#231f20" textLength="13.9" lengthAdjust="spacingAndGlyphs">3</text>
<line x1="1039.5" y1="1013.9" x2="1048.0" y2="1013.9" stroke="#231f20" stroke-width="1.3" />
<text x="1025.5" y="1022.5" font-size="23.5" text-anchor="end" fill="#231f20" textLength="13.9" lengthAdjust="spacingAndGlyphs">4</text>
<text x="1019.5" y="1335.0" font-size="23.5" fill="#231f20" textLength="11.0" lengthAdjust="spacingAndGlyphs">–</text>
<text x="1031.7" y="1335.0" font-size="23.5" fill="#231f20" textLength="27.8" lengthAdjust="spacingAndGlyphs">40</text>
<line x1="1113.3" y1="1304.0" x2="1113.3" y2="1296.0" stroke="#231f20" stroke-width="1.3" />
<text x="1093.3" y="1335.0" font-size="23.5" fill="#231f20" textLength="11.0" lengthAdjust="spacingAndGlyphs">–</text>
<text x="1105.5" y="1335.0" font-size="23.5" fill="#231f20" textLength="27.8" lengthAdjust="spacingAndGlyphs">30</text>
<line x1="1186.8" y1="1304.0" x2="1186.8" y2="1296.0" stroke="#231f20" stroke-width="1.3" />
<text x="1166.8" y="1335.0" font-size="23.5" fill="#231f20" textLength="11.0" lengthAdjust="spacingAndGlyphs">–</text>
<text x="1179.0" y="1335.0" font-size="23.5" fill="#231f20" textLength="27.8" lengthAdjust="spacingAndGlyphs">20</text>
<line x1="1260.6" y1="1304.0" x2="1260.6" y2="1296.0" stroke="#231f20" stroke-width="1.3" />
<text x="1240.6" y="1335.0" font-size="23.5" fill="#231f20" textLength="11.0" lengthAdjust="spacingAndGlyphs">–</text>
<text x="1252.8" y="1335.0" font-size="23.5" fill="#231f20" textLength="27.8" lengthAdjust="spacingAndGlyphs">10</text>
<line x1="1334.2" y1="1304.0" x2="1334.2" y2="1296.0" stroke="#231f20" stroke-width="1.3" />
<text x="1334.2" y="1335.0" font-size="23.5" text-anchor="middle" fill="#231f20" textLength="13.9" lengthAdjust="spacingAndGlyphs">0</text>
<line x1="1408.3" y1="1304.0" x2="1408.3" y2="1296.0" stroke="#231f20" stroke-width="1.3" />
<text x="1408.3" y="1335.0" font-size="23.5" text-anchor="middle" fill="#231f20" textLength="27.8" lengthAdjust="spacingAndGlyphs">10</text>
<text transform="translate(984.9 1159.5) rotate(-90)" font-size="23.5" text-anchor="middle" fill="#231f20" textLength="83.0" lengthAdjust="spacingAndGlyphs">z-score</text>
<rect x="1186.8" y="1017.8" width="147.4" height="15.3" fill="#eba592" />
<text x="1216.7" y="1005.7" font-size="23.5" fill="#eea592" textLength="88.1" lengthAdjust="spacingAndGlyphs">Capture</text>
<line x1="1186.8" y1="1024.0" x2="1186.8" y2="1304.0" stroke="#000" stroke-width="2.2" stroke-dasharray="2.2 6.1"/>
<text x="1094.6" y="1374.0" font-size="23.5" fill="#231f20" textLength="256.6" lengthAdjust="spacingAndGlyphs">Time during capture (s)</text>
<text x="967.0" y="1435.3" font-size="34" font-weight="bold" fill="#231f20" stroke="#231f20" stroke-width="1.2">n</text>
<path d="M1040.6 1547.8 L1048.0 1528.0 L1055.4 1547.8 L1062.8 1542.3 L1070.2 1546.4 L1077.6 1556.6 L1085.0 1522.5 L1092.4 1546.4 L1099.8 1530.0 L1107.2 1524.5 L1114.7 1523.6 L1122.1 1548.3 L1129.5 1552.5 L1136.9 1554.7 L1144.3 1547.8 L1151.7 1538.2 L1159.1 1545.0 L1166.5 1521.7 L1173.9 1538.2 L1181.3 1565.6 L1188.7 1524.5 L1196.2 1534.1 L1203.6 1569.7 L1211.0 1565.6 L1218.4 1558.8 L1225.8 1531.3 L1233.2 1538.2 L1240.6 1541.8 L1248.0 1525.3 L1255.4 1554.7 L1262.8 1510.7 L1270.2 1536.8 L1277.7 1560.1 L1285.1 1523.1 L1292.5 1523.6 L1299.9 1513.5 L1307.3 1527.2 L1314.7 1560.1 L1322.1 1540.9 L1329.5 1542.3 L1336.9 1527.2 L1344.3 1543.7 L1351.8 1484.1 L1359.2 1513.5 L1366.6 1523.1 L1374.0 1480.6 L1381.4 1508.0 L1388.8 1477.8 L1396.2 1520.3 L1403.6 1528.6 L1411.0 1512.1 L1411.0 1584.0 L1403.6 1597.2 L1396.2 1593.1 L1388.8 1566.2 L1381.4 1556.8 L1374.0 1542.3 L1366.6 1594.4 L1359.2 1551.1 L1351.8 1526.4 L1344.3 1573.9 L1336.9 1578.5 L1329.5 1573.9 L1322.1 1572.5 L1314.7 1618.3 L1307.3 1553.3 L1299.9 1551.1 L1292.5 1562.9 L1285.1 1556.6 L1277.7 1592.2 L1270.2 1568.4 L1262.8 1543.7 L1255.4 1612.3 L1248.0 1554.7 L1240.6 1568.9 L1233.2 1579.3 L1225.8 1565.6 L1218.4 1584.0 L1211.0 1593.1 L1203.6 1582.9 L1196.2 1573.9 L1188.7 1577.4 L1181.3 1602.7 L1173.9 1574.4 L1166.5 1557.4 L1159.1 1587.6 L1151.7 1574.4 L1144.3 1574.4 L1136.9 1595.8 L1129.5 1583.5 L1122.1 1586.8 L1114.7 1547.8 L1107.2 1565.6 L1099.8 1546.4 L1092.4 1574.7 L1085.0 1563.4 L1077.6 1592.2 L1070.2 1587.6 L1062.8 1593.1 L1055.4 1586.2 L1048.0 1562.3 L1040.6 1573.9Z" fill="#979797" stroke="none" stroke-width="0" />
<path d="M1040.6 1562.9 L1048.0 1548.6 L1055.4 1568.9 L1062.8 1567.8 L1070.2 1567.3 L1077.6 1574.4 L1085.0 1542.9 L1092.4 1561.5 L1099.8 1537.6 L1107.2 1545.6 L1114.7 1534.1 L1122.1 1567.5 L1129.5 1568.4 L1136.9 1575.2 L1144.3 1561.0 L1151.7 1556.6 L1159.1 1568.4 L1166.5 1539.0 L1173.9 1556.0 L1181.3 1583.5 L1188.7 1549.2 L1196.2 1553.3 L1203.6 1577.4 L1211.0 1578.8 L1218.4 1571.1 L1225.8 1548.6 L1233.2 1559.3 L1240.6 1555.5 L1248.0 1540.9 L1255.4 1578.5 L1262.8 1524.5 L1270.2 1551.9 L1277.7 1577.2 L1285.1 1540.1 L1292.5 1543.7 L1299.9 1532.7 L1307.3 1540.9 L1314.7 1590.3 L1322.1 1556.6 L1329.5 1558.2 L1336.9 1552.7 L1344.3 1561.0 L1351.8 1503.9 L1359.2 1530.0 L1366.6 1559.6 L1374.0 1509.4 L1381.4 1532.7 L1388.8 1519.8 L1396.2 1556.8 L1403.6 1562.9 L1411.0 1547.8" fill="none" stroke="#000" stroke-width="1.6" stroke-linejoin="round"/>
<line x1="1040.6" y1="1459.8" x2="1040.6" y2="1753.2" stroke="#231f20" stroke-width="1.3" />
<line x1="1040.6" y1="1752.5" x2="1411.0" y2="1752.5" stroke="#231f20" stroke-width="1.3" />
<text x="999.9" y="1761.1" font-size="23.5" fill="#231f20" textLength="11.0" lengthAdjust="spacingAndGlyphs">–</text>
<text x="1012.1" y="1761.1" font-size="23.5" fill="#231f20" textLength="13.9" lengthAdjust="spacingAndGlyphs">3</text>
<line x1="1040.6" y1="1694.1" x2="1049.1" y2="1694.1" stroke="#231f20" stroke-width="1.3" />
<text x="999.9" y="1702.7" font-size="23.5" fill="#231f20" textLength="11.0" lengthAdjust="spacingAndGlyphs">–</text>
<text x="1012.1" y="1702.7" font-size="23.5" fill="#231f20" textLength="13.9" lengthAdjust="spacingAndGlyphs">2</text>
<line x1="1040.6" y1="1635.7" x2="1049.1" y2="1635.7" stroke="#231f20" stroke-width="1.3" />
<text x="999.9" y="1644.3" font-size="23.5" fill="#231f20" textLength="11.0" lengthAdjust="spacingAndGlyphs">–</text>
<text x="1012.1" y="1644.3" font-size="23.5" fill="#231f20" textLength="13.9" lengthAdjust="spacingAndGlyphs">1</text>
<line x1="1040.6" y1="1577.3" x2="1049.1" y2="1577.3" stroke="#231f20" stroke-width="1.3" />
<text x="1026.0" y="1585.9" font-size="23.5" text-anchor="end" fill="#231f20" textLength="13.9" lengthAdjust="spacingAndGlyphs">0</text>
<line x1="1040.6" y1="1518.9" x2="1049.1" y2="1518.9" stroke="#231f20" stroke-width="1.3" />
<text x="1026.0" y="1527.5" font-size="23.5" text-anchor="end" fill="#231f20" textLength="13.9" lengthAdjust="spacingAndGlyphs">1</text>
<line x1="1040.6" y1="1460.5" x2="1049.1" y2="1460.5" stroke="#231f20" stroke-width="1.3" />
<text x="1026.0" y="1469.1" font-size="23.5" text-anchor="end" fill="#231f20" textLength="13.9" lengthAdjust="spacingAndGlyphs">2</text>
<text x="1020.6" y="1783.0" font-size="23.5" fill="#231f20" textLength="11.0" lengthAdjust="spacingAndGlyphs">–</text>
<text x="1032.8" y="1783.0" font-size="23.5" fill="#231f20" textLength="27.8" lengthAdjust="spacingAndGlyphs">40</text>
<line x1="1114.7" y1="1752.5" x2="1114.7" y2="1744.5" stroke="#231f20" stroke-width="1.3" />
<text x="1094.7" y="1783.0" font-size="23.5" fill="#231f20" textLength="11.0" lengthAdjust="spacingAndGlyphs">–</text>
<text x="1106.9" y="1783.0" font-size="23.5" fill="#231f20" textLength="27.8" lengthAdjust="spacingAndGlyphs">30</text>
<line x1="1188.7" y1="1752.5" x2="1188.7" y2="1744.5" stroke="#231f20" stroke-width="1.3" />
<text x="1168.7" y="1783.0" font-size="23.5" fill="#231f20" textLength="11.0" lengthAdjust="spacingAndGlyphs">–</text>
<text x="1180.9" y="1783.0" font-size="23.5" fill="#231f20" textLength="27.8" lengthAdjust="spacingAndGlyphs">20</text>
<line x1="1262.8" y1="1752.5" x2="1262.8" y2="1744.5" stroke="#231f20" stroke-width="1.3" />
<text x="1242.8" y="1783.0" font-size="23.5" fill="#231f20" textLength="11.0" lengthAdjust="spacingAndGlyphs">–</text>
<text x="1255.0" y="1783.0" font-size="23.5" fill="#231f20" textLength="27.8" lengthAdjust="spacingAndGlyphs">10</text>
<line x1="1336.9" y1="1752.5" x2="1336.9" y2="1744.5" stroke="#231f20" stroke-width="1.3" />
<text x="1336.9" y="1783.0" font-size="23.5" text-anchor="middle" fill="#231f20" textLength="13.9" lengthAdjust="spacingAndGlyphs">0</text>
<line x1="1411.0" y1="1752.5" x2="1411.0" y2="1744.5" stroke="#231f20" stroke-width="1.3" />
<text x="1411.0" y="1783.0" font-size="23.5" text-anchor="middle" fill="#231f20" textLength="27.8" lengthAdjust="spacingAndGlyphs">10</text>
<text transform="translate(984.9 1606.4) rotate(-90)" font-size="23.5" text-anchor="middle" fill="#231f20" textLength="83.0" lengthAdjust="spacingAndGlyphs">z-score</text>
<rect x="1188.7" y="1460.5" width="148.2" height="15.4" fill="#eba592" />
<text x="1218.9" y="1446.3" font-size="23.5" fill="#eea592" textLength="87.8" lengthAdjust="spacingAndGlyphs">Capture</text>
<line x1="1188.7" y1="1473.7" x2="1188.7" y2="1752.5" stroke="#000" stroke-width="2.2" stroke-dasharray="2.2 6.1"/>
<text x="1097.4" y="1820.8" font-size="23.5" fill="#231f20" textLength="256.0" lengthAdjust="spacingAndGlyphs">Time during capture (s)</text>
<!-- p_ko.py -->
<text x="1457.7" y="986.5" font-size="34" font-weight="bold" fill="#231f20" stroke="#231f20" stroke-width="1.2">k</text>
<circle cx="1565.5" cy="1161.7" r="6.9" fill="#a8a8a8" fill-opacity="0.92"/>
<circle cx="1577.1" cy="1175.9" r="6.9" fill="#a8a8a8" fill-opacity="0.92"/>
<circle cx="1565.5" cy="1182.6" r="6.9" fill="#a8a8a8" fill-opacity="0.92"/>
<circle cx="1553.2" cy="1199.8" r="6.9" fill="#a8a8a8" fill-opacity="0.92"/>
<circle cx="1577.1" cy="1201.1" r="6.9" fill="#a8a8a8" fill-opacity="0.92"/>
<circle cx="1565.5" cy="1196.9" r="6.9" fill="#a8a8a8" fill-opacity="0.92"/>
<circle cx="1565.5" cy="1253.2" r="6.9" fill="#a8a8a8" fill-opacity="0.92"/>
<circle cx="1613.0" cy="1038.1" r="6.9" fill="#eb9f8c" fill-opacity="0.9"/>
<circle cx="1613.0" cy="1079.2" r="6.9" fill="#eb9f8c" fill-opacity="0.9"/>
<circle cx="1613.0" cy="1090.3" r="6.9" fill="#eb9f8c" fill-opacity="0.9"/>
<circle cx="1613.0" cy="1118.1" r="6.9" fill="#eb9f8c" fill-opacity="0.9"/>
<circle cx="1613.0" cy="1145.2" r="6.9" fill="#eb9f8c" fill-opacity="0.9"/>
<circle cx="1613.0" cy="1153.8" r="6.9" fill="#eb9f8c" fill-opacity="0.9"/>
<circle cx="1613.0" cy="1167.1" r="6.9" fill="#eb9f8c" fill-opacity="0.9"/>
<circle cx="1660.3" cy="1192.4" r="6.9" fill="#de5846" fill-opacity="0.92"/>
<circle cx="1672.6" cy="1193.7" r="6.9" fill="#de5846" fill-opacity="0.92"/>
<circle cx="1654.1" cy="1199.8" r="6.9" fill="#de5846" fill-opacity="0.92"/>
<circle cx="1666.4" cy="1196.1" r="6.9" fill="#de5846" fill-opacity="0.92"/>
<circle cx="1660.3" cy="1203.5" r="6.9" fill="#de5846" fill-opacity="0.92"/>
<circle cx="1660.3" cy="1209.7" r="6.9" fill="#de5846" fill-opacity="0.92"/>
<circle cx="1660.3" cy="1242.2" r="6.9" fill="#de5846" fill-opacity="0.92"/>
<circle cx="1708.3" cy="1135.1" r="6.9" fill="#a8a8a8" fill-opacity="0.92"/>
<circle cx="1708.3" cy="1148.6" r="6.9" fill="#a8a8a8" fill-opacity="0.92"/>
<circle cx="1696.5" cy="1169.8" r="6.9" fill="#a8a8a8" fill-opacity="0.92"/>
<circle cx="1696.5" cy="1180.1" r="6.9" fill="#a8a8a8" fill-opacity="0.92"/>
<circle cx="1720.1" cy="1177.7" r="6.9" fill="#a8a8a8" fill-opacity="0.92"/>
<circle cx="1708.3" cy="1188.7" r="6.9" fill="#a8a8a8" fill-opacity="0.92"/>
<circle cx="1708.3" cy="1258.4" r="6.9" fill="#a8a8a8" fill-opacity="0.92"/>
<line x1="1533.5" y1="1192.2" x2="1741.0" y2="1192.2" stroke="#000" stroke-width="2.2" stroke-dasharray="2.2 5.2"/>
<line x1="1533.5" y1="995.0" x2="1533.5" y2="1305.5" stroke="#231f20" stroke-width="1.3" />
<line x1="1533.5" y1="1023.6" x2="1542.0" y2="1023.6" stroke="#231f20" stroke-width="1.3" />
<text x="1520.7" y="1032.2" font-size="23.5" text-anchor="end" fill="#231f20" textLength="13.9" lengthAdjust="spacingAndGlyphs">3</text>
<line x1="1533.5" y1="1079.7" x2="1542.0" y2="1079.7" stroke="#231f20" stroke-width="1.3" />
<text x="1520.7" y="1088.3" font-size="23.5" text-anchor="end" fill="#231f20" textLength="13.9" lengthAdjust="spacingAndGlyphs">2</text>
<line x1="1533.5" y1="1135.8" x2="1542.0" y2="1135.8" stroke="#231f20" stroke-width="1.3" />
<text x="1520.7" y="1144.4" font-size="23.5" text-anchor="end" fill="#231f20" textLength="13.9" lengthAdjust="spacingAndGlyphs">1</text>
<line x1="1533.5" y1="1192.2" x2="1542.0" y2="1192.2" stroke="#231f20" stroke-width="1.3" />
<text x="1520.7" y="1200.8" font-size="23.5" text-anchor="end" fill="#231f20" textLength="13.9" lengthAdjust="spacingAndGlyphs">0</text>
<line x1="1533.5" y1="1248.3" x2="1542.0" y2="1248.3" stroke="#231f20" stroke-width="1.3" />
<text x="1494.6" y="1256.9" font-size="23.5" fill="#231f20" textLength="11.0" lengthAdjust="spacingAndGlyphs">–</text>
<text x="1506.8" y="1256.9" font-size="23.5" fill="#231f20" textLength="13.9" lengthAdjust="spacingAndGlyphs">1</text>
<line x1="1533.5" y1="1304.7" x2="1542.0" y2="1304.7" stroke="#231f20" stroke-width="1.3" />
<text x="1494.6" y="1313.3" font-size="23.5" fill="#231f20" textLength="11.0" lengthAdjust="spacingAndGlyphs">–</text>
<text x="1506.8" y="1313.3" font-size="23.5" fill="#231f20" textLength="13.9" lengthAdjust="spacingAndGlyphs">2</text>
<line x1="1550.0" y1="1196.6" x2="1581.0" y2="1196.6" stroke="#000" stroke-width="3" />
<line x1="1557.4" y1="1185.8" x2="1573.6" y2="1185.8" stroke="#000" stroke-width="1.5" />
<line x1="1557.4" y1="1207.7" x2="1573.6" y2="1207.7" stroke="#000" stroke-width="1.5" />
<line x1="1565.5" y1="1185.8" x2="1565.5" y2="1207.7" stroke="#000" stroke-width="1.5" />
<line x1="1597.5" y1="1112.7" x2="1628.8" y2="1112.7" stroke="#000" stroke-width="3" />
<line x1="1604.9" y1="1095.7" x2="1621.4" y2="1095.7" stroke="#000" stroke-width="1.5" />
<line x1="1604.9" y1="1130.4" x2="1621.4" y2="1130.4" stroke="#000" stroke-width="1.5" />
<line x1="1613.0" y1="1095.7" x2="1613.0" y2="1130.4" stroke="#000" stroke-width="1.5" />
<line x1="1644.8" y1="1204.7" x2="1676.3" y2="1204.7" stroke="#000" stroke-width="3" />
<line x1="1652.9" y1="1198.6" x2="1668.9" y2="1198.6" stroke="#000" stroke-width="1.5" />
<line x1="1652.9" y1="1211.4" x2="1668.9" y2="1211.4" stroke="#000" stroke-width="1.5" />
<line x1="1660.3" y1="1198.6" x2="1660.3" y2="1211.4" stroke="#000" stroke-width="1.5" />
<line x1="1692.8" y1="1179.9" x2="1723.8" y2="1179.9" stroke="#000" stroke-width="3" />
<line x1="1700.2" y1="1164.9" x2="1716.4" y2="1164.9" stroke="#000" stroke-width="1.5" />
<line x1="1700.2" y1="1194.9" x2="1716.4" y2="1194.9" stroke="#000" stroke-width="1.5" />
<line x1="1708.3" y1="1164.9" x2="1708.3" y2="1194.9" stroke="#000" stroke-width="1.5" />
<g transform="translate(1476.9 1150.0) rotate(-90)"><text x="-91.5" y="0.0" font-size="23.5" fill="#231f20" textLength="91.0" lengthAdjust="spacingAndGlyphs">Average</text>
<text x="5.5" y="0.0" font-size="23.5" fill="#231f20" textLength="11.5" lengthAdjust="spacingAndGlyphs" font-style="italic">z</text>
<text x="17.5" y="0.0" font-size="23.5" fill="#231f20" textLength="73.0" lengthAdjust="spacingAndGlyphs">-score</text>
</g>
<line x1="1554.9" y1="1008.1" x2="1609.3" y2="1008.1" stroke="#231f20" stroke-width="1.6" />
<line x1="1615.2" y1="1008.1" x2="1669.6" y2="1008.1" stroke="#231f20" stroke-width="1.6" />
<text x="1582.0" y="1011.5" font-size="23.5" text-anchor="middle" fill="#231f20" textLength="22.4" lengthAdjust="spacingAndGlyphs">**</text>
<text x="1642.3" y="1011.5" font-size="23.5" text-anchor="middle" fill="#231f20" textLength="33.6" lengthAdjust="spacingAndGlyphs">***</text>
<line x1="1689.1" y1="986.2" x2="1710.7" y2="986.2" stroke="#b3b3b3" stroke-width="3.9" />
<text x="1723.0" y="993.0" font-size="23.5" fill="#231f20" textLength="92.8" lengthAdjust="spacingAndGlyphs">Baseline</text>
<line x1="1689.1" y1="1010.8" x2="1710.7" y2="1010.8" stroke="#eea592" stroke-width="3.9" />
<text x="1723.0" y="1019.6" font-size="23.5" fill="#231f20" textLength="87.4" lengthAdjust="spacingAndGlyphs">Capture</text>
<line x1="1689.1" y1="1037.9" x2="1710.7" y2="1037.9" stroke="#de5846" stroke-width="3.9" />
<text x="1723.0" y="1046.0" font-size="23.5" fill="#231f20" textLength="98.0" lengthAdjust="spacingAndGlyphs">Restraint</text>
<line x1="1689.1" y1="1064.5" x2="1710.7" y2="1064.5" stroke="#b3b3b3" stroke-width="3.9" />
<text x="1723.0" y="1072.0" font-size="23.5" fill="#231f20" textLength="87.0" lengthAdjust="spacingAndGlyphs">Release</text>
<text x="1457.2" y="1434.8" font-size="34" font-weight="bold" fill="#231f20" stroke="#231f20" stroke-width="1.2">o</text>
<circle cx="1561.8" cy="1508.2" r="6.9" fill="#a8a8a8" fill-opacity="0.92"/>
<circle cx="1573.5" cy="1547.8" r="6.9" fill="#a8a8a8" fill-opacity="0.92"/>
<circle cx="1550.3" cy="1551.5" r="6.9" fill="#a8a8a8" fill-opacity="0.92"/>
<circle cx="1561.8" cy="1555.2" r="6.9" fill="#a8a8a8" fill-opacity="0.92"/>
<circle cx="1567.4" cy="1552.3" r="6.9" fill="#a8a8a8" fill-opacity="0.92"/>
<circle cx="1561.8" cy="1574.8" r="6.9" fill="#a8a8a8" fill-opacity="0.92"/>
<circle cx="1561.8" cy="1593.7" r="6.9" fill="#a8a8a8" fill-opacity="0.92"/>
<circle cx="1607.8" cy="1492.2" r="6.9" fill="#eb9f8c" fill-opacity="0.9"/>
<circle cx="1607.8" cy="1516.0" r="6.9" fill="#eb9f8c" fill-opacity="0.9"/>
<circle cx="1596.3" cy="1534.4" r="6.9" fill="#eb9f8c" fill-opacity="0.9"/>
<circle cx="1619.4" cy="1538.8" r="6.9" fill="#eb9f8c" fill-opacity="0.9"/>
<circle cx="1607.8" cy="1562.5" r="6.9" fill="#eb9f8c" fill-opacity="0.9"/>
<circle cx="1607.8" cy="1582.4" r="6.9" fill="#eb9f8c" fill-opacity="0.9"/>
<circle cx="1607.8" cy="1598.1" r="6.9" fill="#eb9f8c" fill-opacity="0.9"/>
<circle cx="1653.9" cy="1578.5" r="6.9" fill="#de5846" fill-opacity="0.92"/>
<circle cx="1653.9" cy="1588.3" r="6.9" fill="#de5846" fill-opacity="0.92"/>
<circle cx="1642.6" cy="1631.6" r="6.9" fill="#de5846" fill-opacity="0.92"/>
<circle cx="1665.4" cy="1634.1" r="6.9" fill="#de5846" fill-opacity="0.92"/>
<circle cx="1653.9" cy="1649.5" r="6.9" fill="#de5846" fill-opacity="0.92"/>
<circle cx="1653.9" cy="1666.2" r="6.9" fill="#de5846" fill-opacity="0.92"/>
<circle cx="1653.9" cy="1707.1" r="6.9" fill="#de5846" fill-opacity="0.92"/>
<circle cx="1699.7" cy="1558.4" r="6.9" fill="#a8a8a8" fill-opacity="0.92"/>
<circle cx="1699.7" cy="1568.7" r="6.9" fill="#a8a8a8" fill-opacity="0.92"/>
<circle cx="1688.2" cy="1584.6" r="6.9" fill="#a8a8a8" fill-opacity="0.92"/>
<circle cx="1711.5" cy="1585.3" r="6.9" fill="#a8a8a8" fill-opacity="0.92"/>
<circle cx="1699.7" cy="1638.5" r="6.9" fill="#a8a8a8" fill-opacity="0.92"/>
<circle cx="1699.7" cy="1649.5" r="6.9" fill="#a8a8a8" fill-opacity="0.92"/>
<circle cx="1699.7" cy="1671.6" r="6.9" fill="#a8a8a8" fill-opacity="0.92"/>
<line x1="1531.4" y1="1573.3" x2="1731.0" y2="1573.3" stroke="#000" stroke-width="2.2" stroke-dasharray="2.2 5.2"/>
<line x1="1531.4" y1="1453.0" x2="1531.4" y2="1753.5" stroke="#231f20" stroke-width="1.3" />
<line x1="1531.4" y1="1453.8" x2="1539.9" y2="1453.8" stroke="#231f20" stroke-width="1.3" />
<text x="1518.4" y="1462.4" font-size="23.5" text-anchor="end" fill="#231f20" textLength="13.9" lengthAdjust="spacingAndGlyphs">2</text>
<line x1="1531.4" y1="1513.5" x2="1539.9" y2="1513.5" stroke="#231f20" stroke-width="1.3" />
<text x="1518.4" y="1522.1" font-size="23.5" text-anchor="end" fill="#231f20" textLength="13.9" lengthAdjust="spacingAndGlyphs">1</text>
<line x1="1531.4" y1="1573.3" x2="1539.9" y2="1573.3" stroke="#231f20" stroke-width="1.3" />
<text x="1518.4" y="1581.9" font-size="23.5" text-anchor="end" fill="#231f20" textLength="13.9" lengthAdjust="spacingAndGlyphs">0</text>
<line x1="1531.4" y1="1633.1" x2="1539.9" y2="1633.1" stroke="#231f20" stroke-width="1.3" />
<text x="1492.3" y="1641.7" font-size="23.5" fill="#231f20" textLength="11.0" lengthAdjust="spacingAndGlyphs">–</text>
<text x="1504.5" y="1641.7" font-size="23.5" fill="#231f20" textLength="13.9" lengthAdjust="spacingAndGlyphs">1</text>
<line x1="1531.4" y1="1692.9" x2="1539.9" y2="1692.9" stroke="#231f20" stroke-width="1.3" />
<text x="1492.3" y="1701.5" font-size="23.5" fill="#231f20" textLength="11.0" lengthAdjust="spacingAndGlyphs">–</text>
<text x="1504.5" y="1701.5" font-size="23.5" fill="#231f20" textLength="13.9" lengthAdjust="spacingAndGlyphs">2</text>
<line x1="1531.4" y1="1752.7" x2="1539.9" y2="1752.7" stroke="#231f20" stroke-width="1.3" />
<text x="1492.3" y="1761.3" font-size="23.5" fill="#231f20" textLength="11.0" lengthAdjust="spacingAndGlyphs">–</text>
<text x="1504.5" y="1761.3" font-size="23.5" fill="#231f20" textLength="13.9" lengthAdjust="spacingAndGlyphs">3</text>
<line x1="1546.6" y1="1555.2" x2="1577.2" y2="1555.2" stroke="#000" stroke-width="3" />
<line x1="1553.9" y1="1545.9" x2="1569.9" y2="1545.9" stroke="#000" stroke-width="1.5" />
<line x1="1553.9" y1="1565.0" x2="1569.9" y2="1565.0" stroke="#000" stroke-width="1.5" />
<line x1="1561.8" y1="1545.9" x2="1561.8" y2="1565.0" stroke="#000" stroke-width="1.5" />
<line x1="1592.4" y1="1546.6" x2="1623.3" y2="1546.6" stroke="#000" stroke-width="3" />
<line x1="1600.0" y1="1532.7" x2="1615.9" y2="1532.7" stroke="#000" stroke-width="1.5" />
<line x1="1600.0" y1="1560.6" x2="1615.9" y2="1560.6" stroke="#000" stroke-width="1.5" />
<line x1="1607.8" y1="1532.7" x2="1607.8" y2="1560.6" stroke="#000" stroke-width="1.5" />
<line x1="1638.5" y1="1636.8" x2="1669.1" y2="1636.8" stroke="#000" stroke-width="3" />
<line x1="1645.8" y1="1620.1" x2="1662.2" y2="1620.1" stroke="#000" stroke-width="1.5" />
<line x1="1645.8" y1="1653.2" x2="1662.2" y2="1653.2" stroke="#000" stroke-width="1.5" />
<line x1="1653.9" y1="1620.1" x2="1653.9" y2="1653.2" stroke="#000" stroke-width="1.5" />
<line x1="1684.5" y1="1608.4" x2="1715.2" y2="1608.4" stroke="#000" stroke-width="3" />
<line x1="1691.9" y1="1591.5" x2="1707.8" y2="1591.5" stroke="#000" stroke-width="1.5" />
<line x1="1691.9" y1="1625.0" x2="1707.8" y2="1625.0" stroke="#000" stroke-width="1.5" />
<line x1="1699.7" y1="1591.5" x2="1699.7" y2="1625.0" stroke="#000" stroke-width="1.5" />
<g transform="translate(1476.8 1603.3) rotate(-90)"><text x="-91.5" y="0.0" font-size="23.5" fill="#231f20" textLength="91.0" lengthAdjust="spacingAndGlyphs">Average</text>
<text x="5.5" y="0.0" font-size="23.5" fill="#231f20" textLength="11.5" lengthAdjust="spacingAndGlyphs" font-style="italic">z</text>
<text x="17.5" y="0.0" font-size="23.5" fill="#231f20" textLength="73.0" lengthAdjust="spacingAndGlyphs">-score</text>
</g>
<line x1="1552.2" y1="1408.2" x2="1710.3" y2="1408.2" stroke="#231f20" stroke-width="1.6" />
<text x="1631.1" y="1411.6" font-size="23.5" text-anchor="middle" fill="#231f20" textLength="22.4" lengthAdjust="spacingAndGlyphs">**</text>
<line x1="1552.2" y1="1431.0" x2="1661.3" y2="1431.0" stroke="#231f20" stroke-width="1.6" />
<text x="1607.1" y="1434.4" font-size="23.5" text-anchor="middle" fill="#231f20" textLength="22.4" lengthAdjust="spacingAndGlyphs">**</text>
<line x1="1601.0" y1="1450.8" x2="1710.3" y2="1450.8" stroke="#231f20" stroke-width="1.6" />
<text x="1655.6" y="1454.2" font-size="23.5" text-anchor="middle" fill="#231f20" textLength="22.4" lengthAdjust="spacingAndGlyphs">**</text>
<line x1="1601.0" y1="1473.1" x2="1663.0" y2="1473.1" stroke="#231f20" stroke-width="1.6" />
<text x="1631.9" y="1476.5" font-size="23.5" text-anchor="middle" fill="#231f20" textLength="33.6" lengthAdjust="spacingAndGlyphs">***</text>
<!-- p_l.py -->
<text x="1.5" y="1435.8" font-size="34" font-weight="bold" fill="#231f20" stroke="#231f20" stroke-width="1.2">l</text>
<text x="85.1" y="1457.6" font-size="23.5" fill="#231f20" textLength="153.5" lengthAdjust="spacingAndGlyphs">Photoreceiver</text>
<text x="65.8" y="1490.1" font-size="23.5" fill="#231f20" textLength="81.2" lengthAdjust="spacingAndGlyphs">405 nm</text>
<text x="44.6" y="1511.2" font-size="23.5" fill="#231f20" textLength="81.8" lengthAdjust="spacingAndGlyphs">465 nm</text>
<g transform="translate(98.8 1496.4) scale(0.2009 0.2052)">
<path d="M595 437 C 585 405, 540 385, 470 380 C 360 375, 240 420, 150 505 C 75 580, 40 690, 42 790 C 45 900, 90 1000, 150 1060 C 170 1078, 190 1088, 205 1090 C 215 1100, 260 1135, 330 1155 C 400 1170, 470 1155, 510 1140 L545 1140 C 560 1165, 585 1172, 600 1172 C 620 1172, 645 1165, 655 1140 L690 1140 C 740 1158, 800 1170, 870 1155 C 940 1135, 985 1100, 995 1090 C 1010 1088, 1030 1078, 1050 1060 C 1110 1000, 1155 900, 1158 790 C 1160 690, 1125 580, 1050 505 C 960 420, 840 375, 730 380 C 660 385, 612 405, 600 437" fill="none" stroke="#231f20" stroke-width="1.7" vector-effect="non-scaling-stroke" stroke-linejoin="round" stroke-linecap="round"/>
<path d="M597 437 L594 625" fill="none" stroke="#231f20" stroke-width="1.7" vector-effect="non-scaling-stroke" stroke-linejoin="round" stroke-linecap="round"/>
<path d="M185 822 C 200 740, 240 670, 310 615 C 370 575, 440 558, 490 552 C 505 585, 545 622, 597 626 C 650 622, 690 585, 703 552 C 760 558, 830 575, 890 615 C 960 670, 995 740, 1010 822" fill="none" stroke="#231f20" stroke-width="1.7" vector-effect="non-scaling-stroke" stroke-linejoin="round" stroke-linecap="round"/>
<path d="M185 822 C 225 740, 275 675, 340 632 C 385 605, 430 592, 462 608 C 490 640, 545 660, 597 660 C 650 660, 705 640, 728 608 C 765 592, 810 605, 855 632 C 920 675, 970 740, 1010 822" fill="none" stroke="#231f20" stroke-width="1.7" vector-effect="non-scaling-stroke" stroke-linejoin="round" stroke-linecap="round"/>
<path d="M462 608 C 478 630, 488 648, 490 665 L480 800 M515 645 L490 665" fill="none" stroke="#231f20" stroke-width="1.7" vector-effect="non-scaling-stroke" stroke-linejoin="round" stroke-linecap="round"/>
<path d="M728 608 C 715 630, 706 648, 704 665 L716 800 M685 645 L704 665" fill="none" stroke="#231f20" stroke-width="1.7" vector-effect="non-scaling-stroke" stroke-linejoin="round" stroke-linecap="round"/>
<path d="M420 963 C 450 935, 500 905, 560 903 C 585 905, 580 925, 555 940 C 520 952, 470 945, 420 963Z" fill="none" stroke="#231f20" stroke-width="1.7" vector-effect="non-scaling-stroke" stroke-linejoin="round" stroke-linecap="round"/>
<path d="M610 910 C 630 893, 680 893, 715 912 C 735 925, 750 940, 768 962 M610 910 C 620 935, 660 945, 742 942" fill="#fff" stroke="#231f20" stroke-width="1.5" vector-effect="non-scaling-stroke"/>
<path d="M610 910 C 630 893, 680 893, 715 912 C 728 920, 738 930, 742 942 C 660 945, 620 935, 610 910Z" fill="#fff" stroke="#231f20" stroke-width="1.5" vector-effect="non-scaling-stroke"/>
<path d="M597 1075 L541 1146 M597 1075 L656 1146 M548 1140 C 575 1122, 625 1122, 652 1140" fill="none" stroke="#231f20" stroke-width="1.7" vector-effect="non-scaling-stroke" stroke-linejoin="round" stroke-linecap="round"/>
</g>
<g clip-path="url(#clhb)"><g transform="translate(95.0 1444.9) scale(0.191 0.2033)">
<g transform="translate(1125.3 482.3) scale(0.48379)">
<path d="M20 205 C 80 200, 130 192, 170 180 C 220 138, 300 140, 380 160 C 560 200, 800 290, 1000 440 C 1150 560, 1270 740, 1310 940 C 1325 1060, 1290 1250, 1200 1450 C 1140 1570, 1040 1650, 900 1668 C 780 1680, 660 1650, 590 1600 C 555 1570, 560 1535, 590 1500 C 650 1430, 705 1350, 738 1268" fill="none" stroke="#231f20" stroke-width="1.7" vector-effect="non-scaling-stroke" stroke-linejoin="round" stroke-linecap="round"/>
<path d="M738 1268 C 690 1345, 605 1445, 522 1532 C 490 1548, 450 1590, 400 1645 C 340 1690, 250 1700, 105 1716" fill="none" stroke="#231f20" stroke-width="1.7" vector-effect="non-scaling-stroke" stroke-linejoin="round" stroke-linecap="round"/>
<path d="M745 930 C 800 950, 805 990, 770 1032 C 720 1100, 620 1190, 540 1250 C 500 1290, 500 1350, 540 1376 C 580 1396, 622 1370, 662 1320 C 722 1240, 762 1150, 802 1080 C 832 1030, 860 980, 880 912 C 900 905, 880 880, 890 832 C 870 805, 845 800, 830 772" fill="none" stroke="#231f20" stroke-width="1.7" vector-effect="non-scaling-stroke" stroke-linejoin="round" stroke-linecap="round"/>
<path d="M100 520 L180 526 C 260 480, 330 440, 420 434 C 520 440, 600 500, 652 560 C 672 600, 652 642, 600 656 C 520 672, 440 660, 380 690 C 330 720, 280 732, 240 720 C 200 700, 170 660, 150 610" fill="none" stroke="#231f20" stroke-width="1.7" vector-effect="non-scaling-stroke" stroke-linejoin="round" stroke-linecap="round"/>
<path d="M195 560 C 270 505, 340 465, 420 462 C 505 468, 580 520, 622 570 C 638 600, 622 625, 585 634 C 520 645, 440 636, 372 664 C 330 690, 290 700, 255 692" fill="none" stroke="#231f20" stroke-width="1.7" vector-effect="non-scaling-stroke" stroke-linejoin="round" stroke-linecap="round"/>
<path d="M200 640 C 260 600, 340 570, 430 570 C 482 575, 512 600, 490 626 C 440 652, 360 640, 300 670 C 270 690, 232 690, 212 670" fill="none" stroke="#231f20" stroke-width="1.7" vector-effect="non-scaling-stroke" stroke-linejoin="round" stroke-linecap="round"/>
<path d="M250 690 C 300 650, 380 628, 455 640 M235 560 C 320 510, 400 488, 470 500 C 540 520, 590 560, 600 600" fill="none" stroke="#231f20" stroke-width="2.6" vector-effect="non-scaling-stroke" stroke-linecap="round"/>
<path d="M170 722 C 220 772, 300 772, 380 744 C 460 712, 560 720, 625 772 C 680 830, 690 880, 722 906 C 740 925, 780 932, 800 957" fill="none" stroke="#231f20" stroke-width="1.7" vector-effect="non-scaling-stroke" stroke-linejoin="round" stroke-linecap="round"/>
<path d="M652 560 C 700 590, 760 625, 792 662 C 815 715, 795 770, 805 795 C 830 800, 850 812, 852 835 M737 622 C 715 700, 740 770, 772 830 C 785 845, 800 850, 805 850 M715 866 C 750 882, 790 872, 806 850 M726 896 C 760 908, 800 892, 816 866" fill="none" stroke="#231f20" stroke-width="1.7" vector-effect="non-scaling-stroke" stroke-linejoin="round" stroke-linecap="round"/>
<path d="M100 572 C 150 565, 162 585, 142 600 C 120 640, 130 700, 112 760 C 105 812, 130 842, 150 822 C 166 790, 150 760, 165 730 C 176 700, 170 650, 150 610" fill="none" stroke="#231f20" stroke-width="1.7" vector-effect="non-scaling-stroke" stroke-linejoin="round" stroke-linecap="round"/>
<path d="M150 1640 C 200 1692, 280 1702, 342 1680" fill="none" stroke="#231f20" stroke-width="1.7" vector-effect="non-scaling-stroke" stroke-linejoin="round" stroke-linecap="round"/>
</g>
</g></g>
<g transform="translate(0 1390) scale(0.25796)">
<path d="M950 1080 C 1050 1035, 1250 1035, 1420 1110" fill="none" stroke="#00a651" stroke-width="1" vector-effect="non-scaling-stroke"/>
<path d="M955 1110 C 1100 1090, 1300 1098, 1425 1125" fill="none" stroke="#00a651" stroke-width="1" vector-effect="non-scaling-stroke"/>
<path d="M960 1142 C 1100 1140, 1300 1140, 1410 1150" fill="none" stroke="#00a651" stroke-width="1" vector-effect="non-scaling-stroke"/>
<path d="M975 1175 C 1100 1192, 1300 1182, 1390 1165" fill="none" stroke="#00a651" stroke-width="1" vector-effect="non-scaling-stroke"/>
<path d="M985 1192 C 1100 1208, 1300 1202, 1385 1185" fill="none" stroke="#00a651" stroke-width="1" vector-effect="non-scaling-stroke"/>
<path d="M872 1123 C 895 1100, 915 1072, 928 1058 C 945 1068, 956 1095, 947 1123 L954 1143 L975 1176 C 965 1190, 950 1196, 924 1200 C 910 1192, 900 1180, 888 1164Z" fill="#00a651"/>
<path d="M850 1140 C 870 1118, 905 1120, 935 1140 C 955 1152, 970 1165, 978 1175 C 940 1170, 880 1172, 850 1140Z" fill="#fff" stroke="#231f20" stroke-width="1.4" vector-effect="non-scaling-stroke"/>
<rect x="828" y="1040" width="172" height="172" fill="none" stroke="#231f20" stroke-width="1.3" vector-effect="non-scaling-stroke"/>
<path d="M483 675 L1000 1040 M483 1133 L828 1212" fill="none" stroke="#231f20" stroke-width="1.3" vector-effect="non-scaling-stroke"/>
<path d="M1438 1090 L1468 1082 L1478 1105 L1462 1132 L1440 1140 L1425 1122Z" fill="#00a651"/>
<path d="M1385 1160 L1415 1140 L1448 1150 L1452 1190 L1435 1218 L1400 1212 L1380 1190Z" fill="#00a651"/>
<path d="M1468 1082 L1478 1105 L1462 1132 L1440 1140 M1448 1150 L1452 1190 L1435 1218 L1400 1212" fill="none" stroke="#231f20" stroke-width="1.3" stroke-dasharray="3.5 2.5" vector-effect="non-scaling-stroke"/>
</g>
<path d="M371.2 1613.1 L376.7 1613.1 L374.2 1674 L372.6 1674Z" fill="#00a651"/>
<line x1="368.9" y1="1546.1" x2="372.2" y2="1676.3" stroke="#231f20" stroke-width="0.9" />
<line x1="377.9" y1="1546.1" x2="374.0" y2="1676.3" stroke="#231f20" stroke-width="0.9" />
<path d="M190 1528 C 191 1534, 196 1534, 202 1528 C 210 1512, 210 1496, 217 1489 C 224 1484, 231 1488, 232 1502" fill="none" stroke="#231f20" stroke-width="1.6" />
<path d="M183.2 1483.4 L196.6 1483.4 L196.6 1522.8 L189.9 1528.5 L183.2 1522.8Z" fill="#00a651" stroke="#231f20" stroke-width="1.6" stroke-linejoin="round"/>
<path d="M184.4 1522.8 L195.4 1522.8 L189.9 1526.9Z" fill="#3cb878"/>
<line x1="183.2" y1="1522.8" x2="196.6" y2="1522.8" stroke="#231f20" stroke-width="1.2" />
<rect x="173.3" y="1476.9" width="33.6" height="5.2" fill="#231f20" />
<line x1="147.8" y1="1505.4" x2="183.2" y2="1505.4" stroke="#231f20" stroke-width="3.6" />
<path d="M161.2 1491.9 V1505.4" fill="none" stroke="#231f20" stroke-width="3.6" />
<line x1="147.8" y1="1505.4" x2="182.7" y2="1505.4" stroke="#1b75bc" stroke-width="1.5" />
<path d="M161.2 1491.9 V1503.6" fill="none" stroke="#7b3f8c" stroke-width="1.5" />
<rect x="154.3" y="1479.0" width="13.9" height="12.9" fill="#8e4a9e" stroke="#231f20" stroke-width="1.2"/>
<rect x="134.1" y="1498.9" width="13.7" height="12.9" fill="#1b75bc" stroke="#231f20" stroke-width="1.2"/>
<line x1="177.2" y1="1484.9" x2="199.6" y2="1484.9" stroke="#bbb" stroke-width="0.9" />
<line x1="154.7" y1="1494.9" x2="167.7" y2="1494.9" stroke="#bbb" stroke-width="0.9" />
<line x1="157.2" y1="1501.8" x2="165.2" y2="1510.3" stroke="#bbb" stroke-width="0.9" />
<line x1="177.2" y1="1498.3" x2="197.6" y2="1516.8" stroke="#ccc" stroke-width="0.9" />
<line x1="151.3" y1="1499.4" x2="151.3" y2="1511.4" stroke="#bbb" stroke-width="0.9" />
<path d="M222.4 1502.7 V1576.2 A9.0 3.0 0 0 0 240.4 1576.2 V1502.7 A9.0 3.0 0 0 0 222.4 1502.7Z" fill="url(#cylg)" stroke="#231f20" stroke-width="1.2"/>
<ellipse cx="231.4" cy="1502.7" rx="9.0" ry="3.0" fill="#77787b" stroke="#231f20" stroke-width="1.2"/>
<path d="M222.4 1576.2 A9.0 3.0 0 0 1 240.4 1576.2" fill="none" stroke="#231f20" stroke-width="1"/>
<rect x="227.5" y="1580.0" width="6.0" height="87.3" fill="#9b9b9b" stroke="#4d4d4f" stroke-width="0.9"/>
<text x="230.4" y="1722.2" font-size="23.5" fill="#231f20" textLength="63.7" lengthAdjust="spacingAndGlyphs">BNST</text>
<text x="382.6" y="1692.3" font-size="23.5" fill="#231f20" textLength="48.7" lengthAdjust="spacingAndGlyphs">MeA</text>
<text x="11.1" y="1557.7" font-size="13.16" fill="#00a651" textLength="105.8" lengthAdjust="spacingAndGlyphs">Axon-GCaMP8s</text>
<g clip-path="url(#cl)">
<rect x="3.4" y="1564.1" width="121.2" height="118.2" fill="#05140a" />
<g transform="translate(0 1558) scale(0.07135)">
<path d="M700 60 L1000 60 L1050 500 L1180 650 L1260 850 L1300 1000 L900 850 L700 800 L520 750 L460 600 L560 400Z" fill="#125a28" opacity="0.6" filter="url(#lblz)"/>
<path d="M620 120 L790 100 L790 620 L1000 640 L980 800 L780 780 L560 560Z" fill="#1e8236" opacity="0.4" filter="url(#lblz)"/>
<path d="M450 1110 L800 1080 L1300 1150 L1760 1300 L1760 1760 L450 1760Z" fill="#0a2c14" opacity="0.6" filter="url(#lblz)"/>
<path d="M470 1150 L800 1120 L900 1400 L700 1760 L480 1760Z" fill="#0f401c" opacity="0.5" filter="url(#lblz)"/>
<path d="M30 800 L400 830 L700 800 L900 850 L1050 950 L1300 1050 L1760 1200 L1760 1300 L1300 1150 L1000 1090 L700 1080 L400 1120 L30 1130Z" fill="#04100a" opacity="0.7" filter="url(#lblz2)"/>
<path d="M330 1250 L450 1250 L470 1760 L340 1760Z" fill="#010502" opacity="0.9" filter="url(#lblz2)"/>
</g>
<rect x="3.4" y="1564.1" width="121.2" height="118.2" filter="url(#lG)" mask="url(#ml)"/>
<rect x="56.4" y="1564.1" width="13.6" height="37" rx="2" fill="#000"/>
<rect x="56" y="1564.6" width="14.4" height="36.9" fill="none" stroke="#fff" stroke-width="1" stroke-dasharray="1.6 1.3"/>
<text x="75.3" y="1573.7" font-size="9.59" fill="#fff" textLength="45.0" lengthAdjust="spacingAndGlyphs">–0.22 mm</text>
<text x="22.3" y="1633.0" font-size="12.22" fill="#fff" textLength="14.2" lengthAdjust="spacingAndGlyphs">ac</text>
<rect x="107.6" y="1675.8" width="14.2" height="5.7" fill="#fff" />
</g>
<rect x="3.4" y="1564.1" width="121.2" height="118.2" fill="none" stroke="#231f20" stroke-width="1"/>

</svg>
</body></html>
